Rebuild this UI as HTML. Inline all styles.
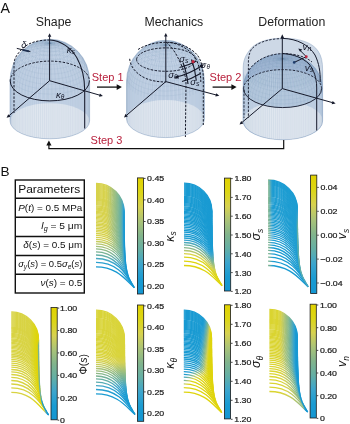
<!DOCTYPE html>
<html><head><meta charset="utf-8"><style>
html,body{margin:0;padding:0;background:#fff;}
svg{display:block;will-change:transform;}
text{font-family:"Liberation Sans", sans-serif;}
</style></head><body>
<svg width="350" height="424" viewBox="0 0 350 424" xmlns="http://www.w3.org/2000/svg">
<defs><pattern id="mesh" width="1.7" height="1.7" patternUnits="userSpaceOnUse"><path d="M0.4 0V1.7" stroke="#7f98b8" stroke-width="0.45" opacity="0.35"/></pattern><pattern id="meshd" width="1.7" height="1.7" patternUnits="userSpaceOnUse"><path d="M0.4 0V1.7M0 0.4H1.7" stroke="#7f98b8" stroke-width="0.45" opacity="0.3"/></pattern><linearGradient id="sh" x1="0" y1="0" x2="1" y2="0"><stop offset="0" stop-color="#9fb6d0"/><stop offset="0.12" stop-color="#b4c5da"/><stop offset="0.5" stop-color="#c2d0e1"/><stop offset="0.86" stop-color="#b4c5da"/><stop offset="1" stop-color="#a0b6cf"/></linearGradient><linearGradient id="shl" x1="0" y1="0" x2="1" y2="0"><stop offset="0" stop-color="#c9d6e4"/><stop offset="0.15" stop-color="#dce4ee"/><stop offset="0.5" stop-color="#e3e9f1"/><stop offset="0.85" stop-color="#dce4ee"/><stop offset="1" stop-color="#c9d6e4"/></linearGradient><clipPath id="cp1"><path d="M10.0,81.0 A39.8,41.8 0 0 1 89.6,81.0 L89.6,121.0 A39.8,17.8 0 0 1 10.0,121.0 Z"/></clipPath><clipPath id="cp2"><path d="M126.5,81.6 A39.0,41.3 0 0 1 204.5,81.6 L204.5,118.8 A39.0,18.8 0 0 1 126.5,118.8 Z"/></clipPath><clipPath id="cp3"><path d="M242.8,88.6 A40,35.4 0 0 1 322.8,88.6 L322.8,121 A40,18.8 0 0 1 242.8,121 Z"/></clipPath><clipPath id="cp4"><path d="M243.2,88.6 L243.2,68 C243.2,60 246,55 249,51 C254,43 266,38.2 283,38.2 C300,38.2 313,43 318,51 C321.5,56 322.6,62 322.6,70 L322.6,121 A39.7,18.8 0 0 1 243.2,121 Z"/></clipPath><linearGradient id="ks0" gradientUnits="userSpaceOnUse" x1="96.0" y1="183.3" x2="134.4" y2="287.7"><stop offset="0.000" stop-color="#d7d24b"/><stop offset="0.048" stop-color="#d7d24b"/><stop offset="0.097" stop-color="#abc377"/><stop offset="0.218" stop-color="#62aea7"/><stop offset="0.283" stop-color="#38a4ce"/><stop offset="0.323" stop-color="#219dd1"/><stop offset="0.375" stop-color="#1698d2"/><stop offset="1.000" stop-color="#1496d2"/></linearGradient><linearGradient id="ks1" gradientUnits="userSpaceOnUse" x1="96.0" y1="184.3" x2="124.0" y2="212.7"><stop offset="0.000" stop-color="#d7d24b"/><stop offset="0.215" stop-color="#d7d24b"/><stop offset="0.249" stop-color="#d2d055"/><stop offset="0.389" stop-color="#acc476"/><stop offset="0.747" stop-color="#62afa7"/><stop offset="0.880" stop-color="#40a6c9"/><stop offset="1.000" stop-color="#219dd1"/></linearGradient><linearGradient id="ks2" gradientUnits="userSpaceOnUse" x1="96.0" y1="185.3" x2="124.0" y2="213.6"><stop offset="0.000" stop-color="#d7d24b"/><stop offset="0.215" stop-color="#d7d24b"/><stop offset="0.249" stop-color="#d2d055"/><stop offset="0.389" stop-color="#acc476"/><stop offset="0.747" stop-color="#62afa7"/><stop offset="0.880" stop-color="#40a6c9"/><stop offset="1.000" stop-color="#219dd1"/></linearGradient><linearGradient id="ks3" gradientUnits="userSpaceOnUse" x1="96.0" y1="186.3" x2="124.0" y2="214.6"><stop offset="0.000" stop-color="#d7d24b"/><stop offset="0.216" stop-color="#d7d24b"/><stop offset="0.250" stop-color="#d1d055"/><stop offset="0.390" stop-color="#acc476"/><stop offset="0.747" stop-color="#62afa7"/><stop offset="0.880" stop-color="#40a6c9"/><stop offset="1.000" stop-color="#219dd1"/></linearGradient><linearGradient id="ks4" gradientUnits="userSpaceOnUse" x1="96.0" y1="187.3" x2="124.0" y2="215.5"><stop offset="0.000" stop-color="#d7d24b"/><stop offset="0.216" stop-color="#d7d24b"/><stop offset="0.250" stop-color="#d1d055"/><stop offset="0.391" stop-color="#acc476"/><stop offset="0.748" stop-color="#62afa7"/><stop offset="0.881" stop-color="#40a6c9"/><stop offset="1.000" stop-color="#219dd1"/></linearGradient><linearGradient id="ks5" gradientUnits="userSpaceOnUse" x1="96.0" y1="188.3" x2="124.0" y2="216.4"><stop offset="0.000" stop-color="#d7d24b"/><stop offset="0.217" stop-color="#d7d24b"/><stop offset="0.251" stop-color="#d1d055"/><stop offset="0.391" stop-color="#acc477"/><stop offset="0.748" stop-color="#62aea7"/><stop offset="0.881" stop-color="#40a6c9"/><stop offset="1.000" stop-color="#219dd1"/></linearGradient><linearGradient id="ks6" gradientUnits="userSpaceOnUse" x1="96.0" y1="189.3" x2="124.0" y2="217.7"><stop offset="0.000" stop-color="#d7d24b"/><stop offset="0.215" stop-color="#d7d24b"/><stop offset="0.249" stop-color="#d2d055"/><stop offset="0.389" stop-color="#acc476"/><stop offset="0.746" stop-color="#62afa7"/><stop offset="0.880" stop-color="#40a6c9"/><stop offset="1.000" stop-color="#219dd1"/></linearGradient><linearGradient id="ks7" gradientUnits="userSpaceOnUse" x1="96.0" y1="190.3" x2="124.0" y2="218.6"><stop offset="0.000" stop-color="#d7d24b"/><stop offset="0.215" stop-color="#d7d24b"/><stop offset="0.249" stop-color="#d2d055"/><stop offset="0.390" stop-color="#acc476"/><stop offset="0.747" stop-color="#62afa7"/><stop offset="0.880" stop-color="#40a6c9"/><stop offset="1.000" stop-color="#219dd1"/></linearGradient><linearGradient id="ks8" gradientUnits="userSpaceOnUse" x1="96.0" y1="191.3" x2="124.0" y2="219.5"><stop offset="0.000" stop-color="#d7d24b"/><stop offset="0.216" stop-color="#d7d24b"/><stop offset="0.250" stop-color="#d1d055"/><stop offset="0.390" stop-color="#acc476"/><stop offset="0.748" stop-color="#62afa7"/><stop offset="0.880" stop-color="#40a6c9"/><stop offset="1.000" stop-color="#219dd1"/></linearGradient><linearGradient id="ks9" gradientUnits="userSpaceOnUse" x1="96.0" y1="192.3" x2="124.0" y2="220.4"><stop offset="0.000" stop-color="#d7d24b"/><stop offset="0.217" stop-color="#d7d24b"/><stop offset="0.251" stop-color="#d1d055"/><stop offset="0.391" stop-color="#acc477"/><stop offset="0.748" stop-color="#62aea7"/><stop offset="0.881" stop-color="#40a6c9"/><stop offset="1.000" stop-color="#219dd1"/></linearGradient><linearGradient id="ks10" gradientUnits="userSpaceOnUse" x1="96.0" y1="193.4" x2="124.0" y2="221.6"><stop offset="0.000" stop-color="#d7d24b"/><stop offset="0.215" stop-color="#d7d24b"/><stop offset="0.249" stop-color="#d2d055"/><stop offset="0.390" stop-color="#acc476"/><stop offset="0.747" stop-color="#62afa7"/><stop offset="0.880" stop-color="#40a6c9"/><stop offset="1.000" stop-color="#219dd1"/></linearGradient><linearGradient id="ks11" gradientUnits="userSpaceOnUse" x1="96.0" y1="194.4" x2="124.0" y2="222.5"><stop offset="0.000" stop-color="#d7d24b"/><stop offset="0.216" stop-color="#d7d24b"/><stop offset="0.250" stop-color="#d1d055"/><stop offset="0.391" stop-color="#acc477"/><stop offset="0.748" stop-color="#62afa7"/><stop offset="0.880" stop-color="#40a6c9"/><stop offset="1.000" stop-color="#219dd1"/></linearGradient><linearGradient id="ks12" gradientUnits="userSpaceOnUse" x1="96.0" y1="195.4" x2="124.0" y2="223.7"><stop offset="0.000" stop-color="#d7d24b"/><stop offset="0.215" stop-color="#d7d24b"/><stop offset="0.249" stop-color="#d2d055"/><stop offset="0.389" stop-color="#acc476"/><stop offset="0.746" stop-color="#62afa7"/><stop offset="0.880" stop-color="#40a6c9"/><stop offset="1.000" stop-color="#219dd1"/></linearGradient><linearGradient id="ks13" gradientUnits="userSpaceOnUse" x1="96.0" y1="196.4" x2="124.0" y2="224.6"><stop offset="0.000" stop-color="#d7d24b"/><stop offset="0.216" stop-color="#d7d24b"/><stop offset="0.250" stop-color="#d1d055"/><stop offset="0.390" stop-color="#acc476"/><stop offset="0.747" stop-color="#62afa7"/><stop offset="0.880" stop-color="#40a6c9"/><stop offset="1.000" stop-color="#219dd1"/></linearGradient><linearGradient id="ks14" gradientUnits="userSpaceOnUse" x1="96.0" y1="197.4" x2="124.1" y2="225.8"><stop offset="0.000" stop-color="#d7d24b"/><stop offset="0.215" stop-color="#d7d24b"/><stop offset="0.249" stop-color="#d2d055"/><stop offset="0.389" stop-color="#acc476"/><stop offset="0.746" stop-color="#62afa7"/><stop offset="0.879" stop-color="#40a6c9"/><stop offset="1.000" stop-color="#219dd1"/></linearGradient><linearGradient id="ks15" gradientUnits="userSpaceOnUse" x1="96.0" y1="198.5" x2="124.1" y2="226.6"><stop offset="0.000" stop-color="#d7d24b"/><stop offset="0.216" stop-color="#d7d24b"/><stop offset="0.250" stop-color="#d1d055"/><stop offset="0.391" stop-color="#acc476"/><stop offset="0.748" stop-color="#62afa7"/><stop offset="0.880" stop-color="#40a6c9"/><stop offset="1.000" stop-color="#219dd1"/></linearGradient><linearGradient id="ks16" gradientUnits="userSpaceOnUse" x1="96.0" y1="199.5" x2="124.1" y2="227.8"><stop offset="0.000" stop-color="#d7d24b"/><stop offset="0.216" stop-color="#d7d24b"/><stop offset="0.249" stop-color="#d1d055"/><stop offset="0.389" stop-color="#acc476"/><stop offset="0.747" stop-color="#62afa7"/><stop offset="0.880" stop-color="#40a6c9"/><stop offset="1.000" stop-color="#219dd1"/></linearGradient><linearGradient id="ks17" gradientUnits="userSpaceOnUse" x1="96.0" y1="200.5" x2="124.1" y2="228.5"><stop offset="0.000" stop-color="#d7d24b"/><stop offset="0.217" stop-color="#d7d24b"/><stop offset="0.251" stop-color="#d1d055"/><stop offset="0.391" stop-color="#acc477"/><stop offset="0.748" stop-color="#62aea7"/><stop offset="0.880" stop-color="#40a6c9"/><stop offset="1.000" stop-color="#219dd1"/></linearGradient><linearGradient id="ks18" gradientUnits="userSpaceOnUse" x1="96.0" y1="201.6" x2="124.1" y2="229.7"><stop offset="0.000" stop-color="#d7d24b"/><stop offset="0.216" stop-color="#d7d24b"/><stop offset="0.250" stop-color="#d1d055"/><stop offset="0.391" stop-color="#acc476"/><stop offset="0.747" stop-color="#62afa7"/><stop offset="0.880" stop-color="#40a6c9"/><stop offset="1.000" stop-color="#219dd1"/></linearGradient><linearGradient id="ks19" gradientUnits="userSpaceOnUse" x1="96.0" y1="202.6" x2="124.1" y2="230.8"><stop offset="0.000" stop-color="#d7d24b"/><stop offset="0.216" stop-color="#d7d24b"/><stop offset="0.250" stop-color="#d1d055"/><stop offset="0.390" stop-color="#acc476"/><stop offset="0.747" stop-color="#62afa7"/><stop offset="0.880" stop-color="#40a6c9"/><stop offset="1.000" stop-color="#219dd1"/></linearGradient><linearGradient id="ks20" gradientUnits="userSpaceOnUse" x1="96.0" y1="203.7" x2="124.1" y2="232.0"><stop offset="0.000" stop-color="#d7d24b"/><stop offset="0.216" stop-color="#d7d24b"/><stop offset="0.249" stop-color="#d1d055"/><stop offset="0.389" stop-color="#acc476"/><stop offset="0.746" stop-color="#62afa7"/><stop offset="0.879" stop-color="#40a6c9"/><stop offset="1.000" stop-color="#219dd1"/></linearGradient><linearGradient id="ks21" gradientUnits="userSpaceOnUse" x1="96.0" y1="204.7" x2="124.1" y2="233.1"><stop offset="0.000" stop-color="#d7d24b"/><stop offset="0.215" stop-color="#d7d24b"/><stop offset="0.249" stop-color="#d1d055"/><stop offset="0.389" stop-color="#acc476"/><stop offset="0.746" stop-color="#62afa7"/><stop offset="0.879" stop-color="#40a6c9"/><stop offset="1.000" stop-color="#219dd1"/></linearGradient><linearGradient id="ks22" gradientUnits="userSpaceOnUse" x1="96.0" y1="205.8" x2="124.2" y2="233.8"><stop offset="0.000" stop-color="#d7d24b"/><stop offset="0.217" stop-color="#d7d24b"/><stop offset="0.251" stop-color="#d1d055"/><stop offset="0.392" stop-color="#abc377"/><stop offset="0.748" stop-color="#62aea7"/><stop offset="0.880" stop-color="#40a6c9"/><stop offset="1.000" stop-color="#219dd1"/></linearGradient><linearGradient id="ks23" gradientUnits="userSpaceOnUse" x1="96.0" y1="206.9" x2="124.2" y2="235.2"><stop offset="0.000" stop-color="#d7d24b"/><stop offset="0.216" stop-color="#d7d24b"/><stop offset="0.249" stop-color="#d1d055"/><stop offset="0.389" stop-color="#acc476"/><stop offset="0.746" stop-color="#62afa7"/><stop offset="0.879" stop-color="#40a6c9"/><stop offset="1.000" stop-color="#219dd1"/></linearGradient><linearGradient id="ks24" gradientUnits="userSpaceOnUse" x1="96.0" y1="208.0" x2="124.2" y2="236.2"><stop offset="0.000" stop-color="#d7d24b"/><stop offset="0.216" stop-color="#d7d24b"/><stop offset="0.250" stop-color="#d1d055"/><stop offset="0.390" stop-color="#acc476"/><stop offset="0.746" stop-color="#62afa7"/><stop offset="0.879" stop-color="#40a6c9"/><stop offset="1.000" stop-color="#219dd1"/></linearGradient><linearGradient id="ks25" gradientUnits="userSpaceOnUse" x1="96.0" y1="209.1" x2="124.2" y2="237.3"><stop offset="0.000" stop-color="#d7d24b"/><stop offset="0.216" stop-color="#d7d24b"/><stop offset="0.250" stop-color="#d1d055"/><stop offset="0.390" stop-color="#acc476"/><stop offset="0.747" stop-color="#62afa7"/><stop offset="0.880" stop-color="#40a6c9"/><stop offset="1.000" stop-color="#219dd1"/></linearGradient><linearGradient id="ks26" gradientUnits="userSpaceOnUse" x1="96.0" y1="210.2" x2="124.2" y2="238.3"><stop offset="0.000" stop-color="#d7d24b"/><stop offset="0.217" stop-color="#d7d24b"/><stop offset="0.251" stop-color="#d1d055"/><stop offset="0.391" stop-color="#acc477"/><stop offset="0.747" stop-color="#62aea7"/><stop offset="0.880" stop-color="#40a6c9"/><stop offset="1.000" stop-color="#219dd1"/></linearGradient><linearGradient id="ks27" gradientUnits="userSpaceOnUse" x1="96.0" y1="211.3" x2="124.3" y2="239.6"><stop offset="0.000" stop-color="#d7d24b"/><stop offset="0.216" stop-color="#d7d24b"/><stop offset="0.250" stop-color="#d1d055"/><stop offset="0.390" stop-color="#acc476"/><stop offset="0.746" stop-color="#62afa7"/><stop offset="0.879" stop-color="#40a6c9"/><stop offset="1.000" stop-color="#219dd1"/></linearGradient><linearGradient id="ks28" gradientUnits="userSpaceOnUse" x1="96.0" y1="212.5" x2="124.3" y2="240.6"><stop offset="0.000" stop-color="#d7d24b"/><stop offset="0.217" stop-color="#d7d24b"/><stop offset="0.251" stop-color="#d1d055"/><stop offset="0.391" stop-color="#abc377"/><stop offset="0.747" stop-color="#62aea7"/><stop offset="0.880" stop-color="#40a6c9"/><stop offset="1.000" stop-color="#219dd1"/></linearGradient><linearGradient id="ks29" gradientUnits="userSpaceOnUse" x1="96.0" y1="213.7" x2="124.3" y2="241.8"><stop offset="0.000" stop-color="#d7d24b"/><stop offset="0.217" stop-color="#d7d24b"/><stop offset="0.251" stop-color="#d1d055"/><stop offset="0.391" stop-color="#acc477"/><stop offset="0.747" stop-color="#62afa7"/><stop offset="0.879" stop-color="#40a6c9"/><stop offset="1.000" stop-color="#219dd1"/></linearGradient><linearGradient id="ks30" gradientUnits="userSpaceOnUse" x1="96.0" y1="214.9" x2="124.4" y2="243.1"><stop offset="0.000" stop-color="#d7d24b"/><stop offset="0.217" stop-color="#d7d24b"/><stop offset="0.251" stop-color="#d1d055"/><stop offset="0.390" stop-color="#acc477"/><stop offset="0.746" stop-color="#62afa7"/><stop offset="0.879" stop-color="#40a6c9"/><stop offset="1.000" stop-color="#219dd1"/></linearGradient><linearGradient id="ks31" gradientUnits="userSpaceOnUse" x1="96.0" y1="216.1" x2="124.4" y2="244.3"><stop offset="0.000" stop-color="#d7d24b"/><stop offset="0.217" stop-color="#d7d24b"/><stop offset="0.251" stop-color="#d1d055"/><stop offset="0.391" stop-color="#acc477"/><stop offset="0.746" stop-color="#62afa7"/><stop offset="0.879" stop-color="#40a6c9"/><stop offset="1.000" stop-color="#219dd1"/></linearGradient><linearGradient id="ks32" gradientUnits="userSpaceOnUse" x1="96.0" y1="217.3" x2="124.4" y2="245.5"><stop offset="0.000" stop-color="#d7d24b"/><stop offset="0.217" stop-color="#d7d24b"/><stop offset="0.251" stop-color="#d1d055"/><stop offset="0.391" stop-color="#acc477"/><stop offset="0.747" stop-color="#62aea7"/><stop offset="0.879" stop-color="#40a6c9"/><stop offset="1.000" stop-color="#219dd1"/></linearGradient><linearGradient id="ks33" gradientUnits="userSpaceOnUse" x1="96.0" y1="218.6" x2="124.5" y2="246.6"><stop offset="0.000" stop-color="#d7d24b"/><stop offset="0.218" stop-color="#d7d24c"/><stop offset="0.252" stop-color="#d1d055"/><stop offset="0.392" stop-color="#abc377"/><stop offset="0.747" stop-color="#62aea7"/><stop offset="0.880" stop-color="#40a6c9"/><stop offset="1.000" stop-color="#219dd1"/></linearGradient><linearGradient id="ks34" gradientUnits="userSpaceOnUse" x1="96.0" y1="219.9" x2="124.5" y2="248.0"><stop offset="0.000" stop-color="#d7d24b"/><stop offset="0.218" stop-color="#d7d24c"/><stop offset="0.252" stop-color="#d1d055"/><stop offset="0.391" stop-color="#abc377"/><stop offset="0.747" stop-color="#62aea7"/><stop offset="0.879" stop-color="#40a6c9"/><stop offset="1.000" stop-color="#219dd1"/></linearGradient><linearGradient id="ks35" gradientUnits="userSpaceOnUse" x1="96.0" y1="221.2" x2="124.6" y2="249.4"><stop offset="0.000" stop-color="#d7d24b"/><stop offset="0.218" stop-color="#d7d24c"/><stop offset="0.252" stop-color="#d1d055"/><stop offset="0.391" stop-color="#abc377"/><stop offset="0.746" stop-color="#62aea7"/><stop offset="0.879" stop-color="#40a6c9"/><stop offset="1.000" stop-color="#219dd1"/></linearGradient><linearGradient id="ks36" gradientUnits="userSpaceOnUse" x1="96.0" y1="222.6" x2="124.7" y2="250.7"><stop offset="0.000" stop-color="#d7d24b"/><stop offset="0.218" stop-color="#d7d24c"/><stop offset="0.252" stop-color="#d1d055"/><stop offset="0.392" stop-color="#abc377"/><stop offset="0.746" stop-color="#62aea7"/><stop offset="0.879" stop-color="#40a6c9"/><stop offset="1.000" stop-color="#219dd1"/></linearGradient><linearGradient id="ks37" gradientUnits="userSpaceOnUse" x1="96.0" y1="224.0" x2="124.7" y2="252.0"><stop offset="0.000" stop-color="#d7d24b"/><stop offset="0.219" stop-color="#d7d24c"/><stop offset="0.253" stop-color="#d1d056"/><stop offset="0.393" stop-color="#abc377"/><stop offset="0.747" stop-color="#62aea7"/><stop offset="0.879" stop-color="#40a6c9"/><stop offset="1.000" stop-color="#219dd1"/></linearGradient><linearGradient id="ks38" gradientUnits="userSpaceOnUse" x1="96.0" y1="225.4" x2="124.8" y2="253.5"><stop offset="0.000" stop-color="#d7d24b"/><stop offset="0.219" stop-color="#d7d24c"/><stop offset="0.253" stop-color="#d1d056"/><stop offset="0.393" stop-color="#abc377"/><stop offset="0.747" stop-color="#62aea7"/><stop offset="0.879" stop-color="#40a6c9"/><stop offset="1.000" stop-color="#219dd1"/></linearGradient><linearGradient id="ks39" gradientUnits="userSpaceOnUse" x1="96.0" y1="226.9" x2="124.9" y2="254.9"><stop offset="0.000" stop-color="#d7d24b"/><stop offset="0.220" stop-color="#d7d24c"/><stop offset="0.393" stop-color="#abc377"/><stop offset="0.713" stop-color="#69b0a1"/><stop offset="0.911" stop-color="#38a4ce"/><stop offset="1.000" stop-color="#219dd1"/></linearGradient><linearGradient id="ks40" gradientUnits="userSpaceOnUse" x1="96.0" y1="228.5" x2="125.0" y2="256.5"><stop offset="0.000" stop-color="#d7d24b"/><stop offset="0.220" stop-color="#d7d24c"/><stop offset="0.393" stop-color="#abc377"/><stop offset="0.712" stop-color="#69b0a1"/><stop offset="0.910" stop-color="#38a4ce"/><stop offset="1.000" stop-color="#219dd1"/></linearGradient><linearGradient id="ks41" gradientUnits="userSpaceOnUse" x1="96.0" y1="230.1" x2="125.1" y2="258.2"><stop offset="0.000" stop-color="#d7d24b"/><stop offset="0.219" stop-color="#d7d24c"/><stop offset="0.253" stop-color="#d1d056"/><stop offset="0.392" stop-color="#abc377"/><stop offset="0.745" stop-color="#62aea7"/><stop offset="0.878" stop-color="#40a6c9"/><stop offset="1.000" stop-color="#219dd1"/></linearGradient><linearGradient id="ks42" gradientUnits="userSpaceOnUse" x1="96.0" y1="231.7" x2="125.3" y2="259.9"><stop offset="0.000" stop-color="#d7d24b"/><stop offset="0.220" stop-color="#d7d24c"/><stop offset="0.393" stop-color="#abc377"/><stop offset="0.711" stop-color="#69b0a1"/><stop offset="0.910" stop-color="#38a4ce"/><stop offset="1.000" stop-color="#219dd1"/></linearGradient><linearGradient id="ks43" gradientUnits="userSpaceOnUse" x1="96.0" y1="233.5" x2="125.4" y2="261.7"><stop offset="0.000" stop-color="#d7d24b"/><stop offset="0.220" stop-color="#d7d24c"/><stop offset="0.393" stop-color="#abc377"/><stop offset="0.711" stop-color="#69b0a1"/><stop offset="0.909" stop-color="#38a4ce"/><stop offset="1.000" stop-color="#219dd1"/></linearGradient><linearGradient id="ks44" gradientUnits="userSpaceOnUse" x1="96.0" y1="235.3" x2="125.6" y2="263.3"><stop offset="0.000" stop-color="#d7d24b"/><stop offset="0.222" stop-color="#d7d24d"/><stop offset="0.395" stop-color="#aac378"/><stop offset="0.711" stop-color="#68b0a1"/><stop offset="0.878" stop-color="#3fa6ca"/><stop offset="1.000" stop-color="#219dd1"/></linearGradient><linearGradient id="ks45" gradientUnits="userSpaceOnUse" x1="96.0" y1="237.3" x2="125.8" y2="265.4"><stop offset="0.000" stop-color="#d7d24f"/><stop offset="0.222" stop-color="#d7d250"/><stop offset="0.394" stop-color="#a9c379"/><stop offset="0.744" stop-color="#61aea8"/><stop offset="0.877" stop-color="#3fa6ca"/><stop offset="1.000" stop-color="#209dd1"/></linearGradient><linearGradient id="ks46" gradientUnits="userSpaceOnUse" x1="96.0" y1="239.3" x2="126.1" y2="267.4"><stop offset="0.000" stop-color="#d1d055"/><stop offset="0.222" stop-color="#d0d056"/><stop offset="0.359" stop-color="#acc476"/><stop offset="0.709" stop-color="#65afa4"/><stop offset="0.876" stop-color="#3da5cc"/><stop offset="1.000" stop-color="#1f9dd1"/></linearGradient><linearGradient id="ks47" gradientUnits="userSpaceOnUse" x1="96.0" y1="241.5" x2="126.5" y2="269.4"><stop offset="0.000" stop-color="#c7cd5f"/><stop offset="0.224" stop-color="#c5cc60"/><stop offset="0.326" stop-color="#abc377"/><stop offset="0.675" stop-color="#67b0a2"/><stop offset="0.876" stop-color="#3aa4cd"/><stop offset="1.000" stop-color="#1d9cd1"/></linearGradient><linearGradient id="ks48" gradientUnits="userSpaceOnUse" x1="96.0" y1="243.8" x2="127.0" y2="271.8"><stop offset="0.000" stop-color="#b7c76c"/><stop offset="0.225" stop-color="#b6c76e"/><stop offset="0.639" stop-color="#67b0a2"/><stop offset="0.842" stop-color="#3ca5cd"/><stop offset="1.000" stop-color="#1b9cd2"/></linearGradient><linearGradient id="ks49" gradientUnits="userSpaceOnUse" x1="96.0" y1="246.3" x2="127.6" y2="274.3"><stop offset="0.000" stop-color="#a5c17b"/><stop offset="0.226" stop-color="#a3c07c"/><stop offset="0.603" stop-color="#64afa5"/><stop offset="0.806" stop-color="#3ca5cd"/><stop offset="1.000" stop-color="#199bd2"/></linearGradient><linearGradient id="ks50" gradientUnits="userSpaceOnUse" x1="96.0" y1="248.9" x2="128.5" y2="276.9"><stop offset="0.000" stop-color="#8fb985"/><stop offset="0.229" stop-color="#8db886"/><stop offset="0.534" stop-color="#63afa6"/><stop offset="0.738" stop-color="#3fa6ca"/><stop offset="1.000" stop-color="#189ad2"/></linearGradient><linearGradient id="ks51" gradientUnits="userSpaceOnUse" x1="96.0" y1="251.8" x2="129.8" y2="279.9"><stop offset="0.000" stop-color="#79b393"/><stop offset="0.232" stop-color="#78b295"/><stop offset="0.670" stop-color="#3da5cc"/><stop offset="1.000" stop-color="#189ad2"/></linearGradient><linearGradient id="ks52" gradientUnits="userSpaceOnUse" x1="96.0" y1="255.0" x2="131.5" y2="283.0"><stop offset="0.000" stop-color="#64afa5"/><stop offset="0.238" stop-color="#62afa7"/><stop offset="0.575" stop-color="#3aa4cd"/><stop offset="0.871" stop-color="#199bd2"/><stop offset="1.000" stop-color="#1799d2"/></linearGradient><linearGradient id="ks53" gradientUnits="userSpaceOnUse" x1="96.0" y1="258.5" x2="133.7" y2="286.5"><stop offset="0.000" stop-color="#47a8c2"/><stop offset="0.211" stop-color="#47a8c2"/><stop offset="0.349" stop-color="#3ba5cd"/><stop offset="0.781" stop-color="#199bd2"/><stop offset="1.000" stop-color="#1698d2"/></linearGradient><linearGradient id="ks54" gradientUnits="userSpaceOnUse" x1="96.0" y1="262.4" x2="134.4" y2="287.7"><stop offset="0.000" stop-color="#2da1cf"/><stop offset="1.000" stop-color="#1698d2"/></linearGradient><linearGradient id="ks55" gradientUnits="userSpaceOnUse" x1="96.0" y1="266.8" x2="134.4" y2="287.7"><stop offset="0.000" stop-color="#199bd2"/><stop offset="1.000" stop-color="#1597d2"/></linearGradient><linearGradient id="cb1" x1="0" y1="1" x2="0" y2="0"><stop offset="0.0" stop-color="#1496d2"/><stop offset="0.125" stop-color="#199bd2"/><stop offset="0.25" stop-color="#3ca5cd"/><stop offset="0.375" stop-color="#64afa5"/><stop offset="0.5" stop-color="#82b48c"/><stop offset="0.625" stop-color="#aac378"/><stop offset="0.75" stop-color="#d7d250"/><stop offset="0.875" stop-color="#dcd616"/><stop offset="1.0" stop-color="#e1d200"/></linearGradient><linearGradient id="ss0" gradientUnits="userSpaceOnUse" x1="184.0" y1="183.1" x2="222.1" y2="285.7"><stop offset="0.000" stop-color="#189ad2"/><stop offset="0.621" stop-color="#189ad2"/><stop offset="0.653" stop-color="#1a9bd2"/><stop offset="0.682" stop-color="#2ba0cf"/><stop offset="0.708" stop-color="#42a6c7"/><stop offset="0.846" stop-color="#d7d24c"/><stop offset="0.898" stop-color="#dcd615"/><stop offset="1.000" stop-color="#ded50e"/></linearGradient><linearGradient id="ss1" gradientUnits="userSpaceOnUse" x1="184.0" y1="184.1" x2="211.8" y2="212.0"><stop offset="0.000" stop-color="#189ad2"/><stop offset="1.000" stop-color="#189ad2"/></linearGradient><linearGradient id="ss2" gradientUnits="userSpaceOnUse" x1="184.0" y1="185.1" x2="211.8" y2="212.9"><stop offset="0.000" stop-color="#189ad2"/><stop offset="1.000" stop-color="#189ad2"/></linearGradient><linearGradient id="ss3" gradientUnits="userSpaceOnUse" x1="184.0" y1="186.1" x2="211.8" y2="213.8"><stop offset="0.000" stop-color="#189ad2"/><stop offset="1.000" stop-color="#189ad2"/></linearGradient><linearGradient id="ss4" gradientUnits="userSpaceOnUse" x1="184.0" y1="187.1" x2="211.8" y2="214.7"><stop offset="0.000" stop-color="#189ad2"/><stop offset="1.000" stop-color="#189ad2"/></linearGradient><linearGradient id="ss5" gradientUnits="userSpaceOnUse" x1="184.0" y1="188.1" x2="211.8" y2="216.1"><stop offset="0.000" stop-color="#189ad2"/><stop offset="1.000" stop-color="#189ad2"/></linearGradient><linearGradient id="ss6" gradientUnits="userSpaceOnUse" x1="184.0" y1="189.1" x2="211.8" y2="216.9"><stop offset="0.000" stop-color="#189ad2"/><stop offset="1.000" stop-color="#189ad2"/></linearGradient><linearGradient id="ss7" gradientUnits="userSpaceOnUse" x1="184.0" y1="190.2" x2="211.8" y2="217.8"><stop offset="0.000" stop-color="#189ad2"/><stop offset="1.000" stop-color="#189ad2"/></linearGradient><linearGradient id="ss8" gradientUnits="userSpaceOnUse" x1="184.0" y1="191.2" x2="211.8" y2="218.7"><stop offset="0.000" stop-color="#189ad2"/><stop offset="1.000" stop-color="#189ad2"/></linearGradient><linearGradient id="ss9" gradientUnits="userSpaceOnUse" x1="184.0" y1="192.2" x2="211.8" y2="219.9"><stop offset="0.000" stop-color="#189ad2"/><stop offset="1.000" stop-color="#189ad2"/></linearGradient><linearGradient id="ss10" gradientUnits="userSpaceOnUse" x1="184.0" y1="193.2" x2="211.8" y2="220.8"><stop offset="0.000" stop-color="#189ad2"/><stop offset="1.000" stop-color="#189ad2"/></linearGradient><linearGradient id="ss11" gradientUnits="userSpaceOnUse" x1="184.0" y1="194.2" x2="211.8" y2="222.0"><stop offset="0.000" stop-color="#189ad2"/><stop offset="1.000" stop-color="#189ad2"/></linearGradient><linearGradient id="ss12" gradientUnits="userSpaceOnUse" x1="184.0" y1="195.2" x2="211.8" y2="222.8"><stop offset="0.000" stop-color="#189ad2"/><stop offset="1.000" stop-color="#189ad2"/></linearGradient><linearGradient id="ss13" gradientUnits="userSpaceOnUse" x1="184.0" y1="196.3" x2="211.8" y2="224.1"><stop offset="0.000" stop-color="#189ad2"/><stop offset="1.000" stop-color="#189ad2"/></linearGradient><linearGradient id="ss14" gradientUnits="userSpaceOnUse" x1="184.0" y1="197.3" x2="211.8" y2="224.8"><stop offset="0.000" stop-color="#189ad2"/><stop offset="1.000" stop-color="#189ad2"/></linearGradient><linearGradient id="ss15" gradientUnits="userSpaceOnUse" x1="184.0" y1="198.3" x2="211.9" y2="226.0"><stop offset="0.000" stop-color="#189ad2"/><stop offset="1.000" stop-color="#189ad2"/></linearGradient><linearGradient id="ss16" gradientUnits="userSpaceOnUse" x1="184.0" y1="199.3" x2="211.9" y2="227.2"><stop offset="0.000" stop-color="#189ad2"/><stop offset="1.000" stop-color="#189ad2"/></linearGradient><linearGradient id="ss17" gradientUnits="userSpaceOnUse" x1="184.0" y1="200.4" x2="211.9" y2="227.9"><stop offset="0.000" stop-color="#189ad2"/><stop offset="1.000" stop-color="#189ad2"/></linearGradient><linearGradient id="ss18" gradientUnits="userSpaceOnUse" x1="184.0" y1="201.4" x2="211.9" y2="229.1"><stop offset="0.000" stop-color="#189ad2"/><stop offset="1.000" stop-color="#189ad2"/></linearGradient><linearGradient id="ss19" gradientUnits="userSpaceOnUse" x1="184.0" y1="202.5" x2="211.9" y2="230.2"><stop offset="0.000" stop-color="#189ad2"/><stop offset="1.000" stop-color="#189ad2"/></linearGradient><linearGradient id="ss20" gradientUnits="userSpaceOnUse" x1="184.0" y1="203.6" x2="211.9" y2="231.3"><stop offset="0.000" stop-color="#189ad2"/><stop offset="1.000" stop-color="#189ad2"/></linearGradient><linearGradient id="ss21" gradientUnits="userSpaceOnUse" x1="184.0" y1="204.6" x2="211.9" y2="232.3"><stop offset="0.000" stop-color="#189ad2"/><stop offset="1.000" stop-color="#189ad2"/></linearGradient><linearGradient id="ss22" gradientUnits="userSpaceOnUse" x1="184.0" y1="205.7" x2="212.0" y2="233.4"><stop offset="0.000" stop-color="#189ad2"/><stop offset="1.000" stop-color="#189ad2"/></linearGradient><linearGradient id="ss23" gradientUnits="userSpaceOnUse" x1="184.0" y1="206.8" x2="212.0" y2="234.4"><stop offset="0.000" stop-color="#189ad2"/><stop offset="1.000" stop-color="#189ad2"/></linearGradient><linearGradient id="ss24" gradientUnits="userSpaceOnUse" x1="184.0" y1="207.9" x2="212.0" y2="235.5"><stop offset="0.000" stop-color="#189ad2"/><stop offset="1.000" stop-color="#189ad2"/></linearGradient><linearGradient id="ss25" gradientUnits="userSpaceOnUse" x1="184.0" y1="209.0" x2="212.0" y2="236.8"><stop offset="0.000" stop-color="#189ad2"/><stop offset="1.000" stop-color="#189ad2"/></linearGradient><linearGradient id="ss26" gradientUnits="userSpaceOnUse" x1="184.0" y1="210.2" x2="212.0" y2="237.8"><stop offset="0.000" stop-color="#189ad2"/><stop offset="1.000" stop-color="#189ad2"/></linearGradient><linearGradient id="ss27" gradientUnits="userSpaceOnUse" x1="184.0" y1="211.3" x2="212.1" y2="239.1"><stop offset="0.000" stop-color="#189ad2"/><stop offset="1.000" stop-color="#189ad2"/></linearGradient><linearGradient id="ss28" gradientUnits="userSpaceOnUse" x1="184.0" y1="212.5" x2="212.1" y2="240.0"><stop offset="0.000" stop-color="#189ad2"/><stop offset="1.000" stop-color="#189ad2"/></linearGradient><linearGradient id="ss29" gradientUnits="userSpaceOnUse" x1="184.0" y1="213.7" x2="212.1" y2="241.2"><stop offset="0.000" stop-color="#189ad2"/><stop offset="1.000" stop-color="#189ad2"/></linearGradient><linearGradient id="ss30" gradientUnits="userSpaceOnUse" x1="184.0" y1="214.9" x2="212.2" y2="242.4"><stop offset="0.000" stop-color="#189ad2"/><stop offset="1.000" stop-color="#189ad2"/></linearGradient><linearGradient id="ss31" gradientUnits="userSpaceOnUse" x1="184.0" y1="216.1" x2="212.2" y2="243.6"><stop offset="0.000" stop-color="#189ad2"/><stop offset="1.000" stop-color="#189ad2"/></linearGradient><linearGradient id="ss32" gradientUnits="userSpaceOnUse" x1="184.0" y1="217.4" x2="212.3" y2="245.0"><stop offset="0.000" stop-color="#189ad2"/><stop offset="1.000" stop-color="#189ad2"/></linearGradient><linearGradient id="ss33" gradientUnits="userSpaceOnUse" x1="184.0" y1="218.7" x2="212.3" y2="246.4"><stop offset="0.000" stop-color="#189ad2"/><stop offset="1.000" stop-color="#189ad2"/></linearGradient><linearGradient id="ss34" gradientUnits="userSpaceOnUse" x1="184.0" y1="220.0" x2="212.4" y2="247.5"><stop offset="0.000" stop-color="#189ad2"/><stop offset="1.000" stop-color="#199bd2"/></linearGradient><linearGradient id="ss35" gradientUnits="userSpaceOnUse" x1="184.0" y1="221.3" x2="212.4" y2="249.1"><stop offset="0.000" stop-color="#189ad2"/><stop offset="1.000" stop-color="#1c9cd2"/></linearGradient><linearGradient id="ss36" gradientUnits="userSpaceOnUse" x1="184.0" y1="222.7" x2="212.5" y2="250.3"><stop offset="0.000" stop-color="#189ad2"/><stop offset="0.911" stop-color="#189ad2"/><stop offset="1.000" stop-color="#219dd1"/></linearGradient><linearGradient id="ss37" gradientUnits="userSpaceOnUse" x1="184.0" y1="224.2" x2="212.6" y2="251.8"><stop offset="0.000" stop-color="#189ad2"/><stop offset="0.880" stop-color="#189ad2"/><stop offset="0.942" stop-color="#1a9bd2"/><stop offset="1.000" stop-color="#2aa0d0"/></linearGradient><linearGradient id="ss38" gradientUnits="userSpaceOnUse" x1="184.0" y1="225.7" x2="212.7" y2="253.2"><stop offset="0.000" stop-color="#189ad2"/><stop offset="0.848" stop-color="#189ad2"/><stop offset="0.911" stop-color="#1a9bd2"/><stop offset="1.000" stop-color="#33a2ce"/></linearGradient><linearGradient id="ss39" gradientUnits="userSpaceOnUse" x1="184.0" y1="227.2" x2="212.8" y2="254.8"><stop offset="0.000" stop-color="#189ad2"/><stop offset="0.848" stop-color="#199bd2"/><stop offset="0.911" stop-color="#219dd1"/><stop offset="1.000" stop-color="#3fa6ca"/></linearGradient><linearGradient id="ss40" gradientUnits="userSpaceOnUse" x1="184.0" y1="228.8" x2="212.9" y2="256.3"><stop offset="0.000" stop-color="#189ad2"/><stop offset="0.815" stop-color="#199bd2"/><stop offset="0.942" stop-color="#34a3ce"/><stop offset="1.000" stop-color="#4da9bc"/></linearGradient><linearGradient id="ss41" gradientUnits="userSpaceOnUse" x1="184.0" y1="230.5" x2="213.0" y2="258.2"><stop offset="0.000" stop-color="#189ad2"/><stop offset="0.781" stop-color="#199bd2"/><stop offset="0.910" stop-color="#36a3ce"/><stop offset="1.000" stop-color="#60aea9"/></linearGradient><linearGradient id="ss42" gradientUnits="userSpaceOnUse" x1="184.0" y1="232.2" x2="213.2" y2="259.9"><stop offset="0.000" stop-color="#189ad2"/><stop offset="0.746" stop-color="#199bd2"/><stop offset="0.878" stop-color="#39a4cd"/><stop offset="1.000" stop-color="#6eb19c"/></linearGradient><linearGradient id="ss43" gradientUnits="userSpaceOnUse" x1="184.0" y1="234.1" x2="213.4" y2="261.7"><stop offset="0.000" stop-color="#189ad2"/><stop offset="0.712" stop-color="#1b9cd2"/><stop offset="0.846" stop-color="#3ca5cd"/><stop offset="1.000" stop-color="#7db390"/></linearGradient><linearGradient id="ss44" gradientUnits="userSpaceOnUse" x1="184.0" y1="236.0" x2="213.6" y2="263.6"><stop offset="0.000" stop-color="#1a9bd2"/><stop offset="0.643" stop-color="#199bd2"/><stop offset="0.813" stop-color="#40a6c9"/><stop offset="1.000" stop-color="#90b985"/></linearGradient><linearGradient id="ss45" gradientUnits="userSpaceOnUse" x1="184.0" y1="238.0" x2="213.9" y2="265.6"><stop offset="0.000" stop-color="#259fd0"/><stop offset="0.642" stop-color="#289fd0"/><stop offset="0.745" stop-color="#3ba5cd"/><stop offset="1.000" stop-color="#a6c17a"/></linearGradient><linearGradient id="ss46" gradientUnits="userSpaceOnUse" x1="184.0" y1="240.2" x2="214.3" y2="267.8"><stop offset="0.000" stop-color="#36a3ce"/><stop offset="0.607" stop-color="#3ba5cd"/><stop offset="0.710" stop-color="#4ea9bb"/><stop offset="0.876" stop-color="#7fb48e"/><stop offset="1.000" stop-color="#beca66"/></linearGradient><linearGradient id="ss47" gradientUnits="userSpaceOnUse" x1="184.0" y1="242.5" x2="214.8" y2="270.1"><stop offset="0.000" stop-color="#4da9bc"/><stop offset="0.432" stop-color="#4eaabb"/><stop offset="0.606" stop-color="#5aadaf"/><stop offset="0.809" stop-color="#83b48b"/><stop offset="0.907" stop-color="#aac378"/><stop offset="1.000" stop-color="#d7d24e"/></linearGradient><linearGradient id="ss48" gradientUnits="userSpaceOnUse" x1="184.0" y1="244.9" x2="215.4" y2="272.5"><stop offset="0.000" stop-color="#69b0a1"/><stop offset="0.639" stop-color="#7cb391"/><stop offset="0.840" stop-color="#b0c573"/><stop offset="0.937" stop-color="#d7d24f"/><stop offset="1.000" stop-color="#dad42e"/></linearGradient><linearGradient id="ss49" gradientUnits="userSpaceOnUse" x1="184.0" y1="247.6" x2="216.3" y2="275.2"><stop offset="0.000" stop-color="#85b58b"/><stop offset="0.501" stop-color="#93ba84"/><stop offset="0.671" stop-color="#a5c17b"/><stop offset="0.871" stop-color="#d8d249"/><stop offset="1.000" stop-color="#dcd616"/></linearGradient><linearGradient id="ss50" gradientUnits="userSpaceOnUse" x1="184.0" y1="250.5" x2="217.6" y2="278.0"><stop offset="0.000" stop-color="#afc573"/><stop offset="0.639" stop-color="#c5cc60"/><stop offset="0.739" stop-color="#d7d250"/><stop offset="0.903" stop-color="#dbd61c"/><stop offset="1.000" stop-color="#ddd510"/></linearGradient><linearGradient id="ss51" gradientUnits="userSpaceOnUse" x1="184.0" y1="253.7" x2="219.4" y2="281.2"><stop offset="0.000" stop-color="#d8d348"/><stop offset="0.577" stop-color="#d8d342"/><stop offset="0.840" stop-color="#dcd615"/><stop offset="1.000" stop-color="#ded50e"/></linearGradient><linearGradient id="ss52" gradientUnits="userSpaceOnUse" x1="184.0" y1="257.2" x2="221.5" y2="284.7"><stop offset="0.000" stop-color="#dcd619"/><stop offset="0.351" stop-color="#dcd616"/><stop offset="0.588" stop-color="#dbd522"/><stop offset="1.000" stop-color="#ded50e"/></linearGradient><linearGradient id="ss53" gradientUnits="userSpaceOnUse" x1="184.0" y1="261.1" x2="222.1" y2="285.7"><stop offset="0.000" stop-color="#ded40d"/><stop offset="1.000" stop-color="#ded50e"/></linearGradient><linearGradient id="ss54" gradientUnits="userSpaceOnUse" x1="184.0" y1="265.5" x2="222.1" y2="285.7"><stop offset="0.000" stop-color="#ded40c"/><stop offset="1.000" stop-color="#ded50e"/></linearGradient><linearGradient id="cb2" x1="0" y1="1" x2="0" y2="0"><stop offset="0.0" stop-color="#1496d2"/><stop offset="0.125" stop-color="#199bd2"/><stop offset="0.25" stop-color="#3ca5cd"/><stop offset="0.375" stop-color="#64afa5"/><stop offset="0.5" stop-color="#82b48c"/><stop offset="0.625" stop-color="#aac378"/><stop offset="0.75" stop-color="#d7d250"/><stop offset="0.875" stop-color="#dcd616"/><stop offset="1.0" stop-color="#e1d200"/></linearGradient><linearGradient id="vs0" gradientUnits="userSpaceOnUse" x1="268.1" y1="180.0" x2="308.2" y2="286.8"><stop offset="0.000" stop-color="#82b48c"/><stop offset="0.005" stop-color="#6fb19c"/><stop offset="0.011" stop-color="#40a6c9"/><stop offset="0.018" stop-color="#1c9cd2"/><stop offset="0.025" stop-color="#199bd2"/><stop offset="0.312" stop-color="#1b9cd2"/><stop offset="0.377" stop-color="#3aa4cd"/><stop offset="0.470" stop-color="#65afa4"/><stop offset="0.846" stop-color="#65afa4"/><stop offset="1.000" stop-color="#46a7c3"/></linearGradient><linearGradient id="vs1" gradientUnits="userSpaceOnUse" x1="268.1" y1="181.0" x2="297.3" y2="210.1"><stop offset="0.000" stop-color="#82b48c"/><stop offset="0.028" stop-color="#6fb19c"/><stop offset="0.058" stop-color="#41a6c8"/><stop offset="0.088" stop-color="#1d9cd1"/><stop offset="0.119" stop-color="#199bd2"/><stop offset="1.000" stop-color="#1f9dd1"/></linearGradient><linearGradient id="vs2" gradientUnits="userSpaceOnUse" x1="268.1" y1="182.0" x2="297.3" y2="211.0"><stop offset="0.000" stop-color="#82b48c"/><stop offset="0.028" stop-color="#6fb19c"/><stop offset="0.058" stop-color="#40a6c9"/><stop offset="0.088" stop-color="#1d9cd1"/><stop offset="0.120" stop-color="#199bd2"/><stop offset="1.000" stop-color="#1f9dd1"/></linearGradient><linearGradient id="vs3" gradientUnits="userSpaceOnUse" x1="268.1" y1="183.0" x2="297.3" y2="212.0"><stop offset="0.000" stop-color="#82b48c"/><stop offset="0.028" stop-color="#6fb19c"/><stop offset="0.058" stop-color="#40a6c9"/><stop offset="0.088" stop-color="#1d9cd1"/><stop offset="0.120" stop-color="#199bd2"/><stop offset="1.000" stop-color="#1f9dd1"/></linearGradient><linearGradient id="vs4" gradientUnits="userSpaceOnUse" x1="268.1" y1="184.0" x2="297.3" y2="212.9"><stop offset="0.000" stop-color="#82b48c"/><stop offset="0.029" stop-color="#6fb19c"/><stop offset="0.058" stop-color="#40a6c9"/><stop offset="0.089" stop-color="#1d9cd1"/><stop offset="0.120" stop-color="#199bd2"/><stop offset="1.000" stop-color="#1f9dd1"/></linearGradient><linearGradient id="vs5" gradientUnits="userSpaceOnUse" x1="268.1" y1="185.0" x2="297.3" y2="213.8"><stop offset="0.000" stop-color="#82b48c"/><stop offset="0.029" stop-color="#6fb19c"/><stop offset="0.058" stop-color="#40a6c9"/><stop offset="0.089" stop-color="#1c9cd2"/><stop offset="1.000" stop-color="#1f9dd1"/></linearGradient><linearGradient id="vs6" gradientUnits="userSpaceOnUse" x1="268.1" y1="186.1" x2="297.3" y2="214.8"><stop offset="0.000" stop-color="#82b48c"/><stop offset="0.029" stop-color="#6fb19c"/><stop offset="0.058" stop-color="#40a6c9"/><stop offset="0.089" stop-color="#1c9cd2"/><stop offset="1.000" stop-color="#1f9dd1"/></linearGradient><linearGradient id="vs7" gradientUnits="userSpaceOnUse" x1="268.1" y1="187.1" x2="297.4" y2="216.1"><stop offset="0.000" stop-color="#82b48c"/><stop offset="0.028" stop-color="#6fb19c"/><stop offset="0.058" stop-color="#41a6c8"/><stop offset="0.088" stop-color="#1d9cd1"/><stop offset="0.119" stop-color="#199bd2"/><stop offset="1.000" stop-color="#1f9dd1"/></linearGradient><linearGradient id="vs8" gradientUnits="userSpaceOnUse" x1="268.1" y1="188.1" x2="297.4" y2="217.0"><stop offset="0.000" stop-color="#82b48c"/><stop offset="0.028" stop-color="#6fb19c"/><stop offset="0.058" stop-color="#40a6c9"/><stop offset="0.088" stop-color="#1d9cd1"/><stop offset="0.120" stop-color="#199bd2"/><stop offset="1.000" stop-color="#1f9dd1"/></linearGradient><linearGradient id="vs9" gradientUnits="userSpaceOnUse" x1="268.1" y1="189.1" x2="297.4" y2="217.9"><stop offset="0.000" stop-color="#82b48c"/><stop offset="0.029" stop-color="#6fb19c"/><stop offset="0.058" stop-color="#40a6c9"/><stop offset="0.089" stop-color="#1c9cd2"/><stop offset="1.000" stop-color="#1f9dd1"/></linearGradient><linearGradient id="vs10" gradientUnits="userSpaceOnUse" x1="268.1" y1="190.1" x2="297.4" y2="218.8"><stop offset="0.000" stop-color="#82b48c"/><stop offset="0.029" stop-color="#6fb19c"/><stop offset="0.058" stop-color="#40a6c9"/><stop offset="0.089" stop-color="#1c9cd2"/><stop offset="1.000" stop-color="#1f9dd1"/></linearGradient><linearGradient id="vs11" gradientUnits="userSpaceOnUse" x1="268.1" y1="191.1" x2="297.4" y2="220.1"><stop offset="0.000" stop-color="#82b48c"/><stop offset="0.028" stop-color="#6fb19c"/><stop offset="0.058" stop-color="#40a6c9"/><stop offset="0.088" stop-color="#1d9cd1"/><stop offset="0.120" stop-color="#199bd2"/><stop offset="1.000" stop-color="#1f9dd1"/></linearGradient><linearGradient id="vs12" gradientUnits="userSpaceOnUse" x1="268.1" y1="192.1" x2="297.4" y2="220.9"><stop offset="0.000" stop-color="#82b48c"/><stop offset="0.029" stop-color="#6fb19c"/><stop offset="0.058" stop-color="#40a6c9"/><stop offset="0.089" stop-color="#1c9cd2"/><stop offset="1.000" stop-color="#1f9dd1"/></linearGradient><linearGradient id="vs13" gradientUnits="userSpaceOnUse" x1="268.1" y1="193.2" x2="297.4" y2="221.8"><stop offset="0.000" stop-color="#82b48c"/><stop offset="0.029" stop-color="#6fb19c"/><stop offset="0.059" stop-color="#40a6c9"/><stop offset="0.089" stop-color="#1c9cd2"/><stop offset="1.000" stop-color="#1f9dd1"/></linearGradient><linearGradient id="vs14" gradientUnits="userSpaceOnUse" x1="268.1" y1="194.2" x2="297.4" y2="223.0"><stop offset="0.000" stop-color="#82b48c"/><stop offset="0.029" stop-color="#6fb19c"/><stop offset="0.058" stop-color="#40a6c9"/><stop offset="0.089" stop-color="#1c9cd2"/><stop offset="1.000" stop-color="#1f9dd1"/></linearGradient><linearGradient id="vs15" gradientUnits="userSpaceOnUse" x1="268.1" y1="195.2" x2="297.4" y2="223.9"><stop offset="0.000" stop-color="#82b48c"/><stop offset="0.029" stop-color="#6fb19c"/><stop offset="0.059" stop-color="#40a6c9"/><stop offset="0.089" stop-color="#1c9cd2"/><stop offset="1.000" stop-color="#1f9dd1"/></linearGradient><linearGradient id="vs16" gradientUnits="userSpaceOnUse" x1="268.1" y1="196.2" x2="297.4" y2="225.1"><stop offset="0.000" stop-color="#82b48c"/><stop offset="0.029" stop-color="#6fb19c"/><stop offset="0.058" stop-color="#40a6c9"/><stop offset="0.089" stop-color="#1c9cd2"/><stop offset="1.000" stop-color="#1f9dd1"/></linearGradient><linearGradient id="vs17" gradientUnits="userSpaceOnUse" x1="268.1" y1="197.3" x2="297.4" y2="226.3"><stop offset="0.000" stop-color="#82b48c"/><stop offset="0.028" stop-color="#6fb19c"/><stop offset="0.058" stop-color="#40a6c9"/><stop offset="0.088" stop-color="#1d9cd1"/><stop offset="0.120" stop-color="#199bd2"/><stop offset="1.000" stop-color="#1f9dd1"/></linearGradient><linearGradient id="vs18" gradientUnits="userSpaceOnUse" x1="268.1" y1="198.3" x2="297.4" y2="227.1"><stop offset="0.000" stop-color="#82b48c"/><stop offset="0.029" stop-color="#6fb19c"/><stop offset="0.058" stop-color="#40a6c9"/><stop offset="0.089" stop-color="#1c9cd2"/><stop offset="1.000" stop-color="#1f9dd1"/></linearGradient><linearGradient id="vs19" gradientUnits="userSpaceOnUse" x1="268.1" y1="199.4" x2="297.5" y2="228.2"><stop offset="0.000" stop-color="#82b48c"/><stop offset="0.029" stop-color="#6fb19c"/><stop offset="0.058" stop-color="#40a6c9"/><stop offset="0.089" stop-color="#1c9cd2"/><stop offset="1.000" stop-color="#1f9dd1"/></linearGradient><linearGradient id="vs20" gradientUnits="userSpaceOnUse" x1="268.1" y1="200.4" x2="297.5" y2="229.4"><stop offset="0.000" stop-color="#82b48c"/><stop offset="0.029" stop-color="#6fb19c"/><stop offset="0.058" stop-color="#40a6c9"/><stop offset="0.089" stop-color="#1c9cd2"/><stop offset="1.000" stop-color="#1f9dd1"/></linearGradient><linearGradient id="vs21" gradientUnits="userSpaceOnUse" x1="268.1" y1="201.5" x2="297.5" y2="230.1"><stop offset="0.000" stop-color="#82b48c"/><stop offset="0.029" stop-color="#6fb19c"/><stop offset="0.059" stop-color="#40a6c9"/><stop offset="0.089" stop-color="#1c9cd2"/><stop offset="1.000" stop-color="#1f9dd1"/></linearGradient><linearGradient id="vs22" gradientUnits="userSpaceOnUse" x1="268.1" y1="202.6" x2="297.5" y2="231.3"><stop offset="0.000" stop-color="#82b48c"/><stop offset="0.029" stop-color="#6fb19c"/><stop offset="0.059" stop-color="#40a6c9"/><stop offset="0.089" stop-color="#1c9cd2"/><stop offset="1.000" stop-color="#1f9dd1"/></linearGradient><linearGradient id="vs23" gradientUnits="userSpaceOnUse" x1="268.1" y1="203.7" x2="297.5" y2="232.4"><stop offset="0.000" stop-color="#82b48c"/><stop offset="0.029" stop-color="#6fb19c"/><stop offset="0.059" stop-color="#40a6c9"/><stop offset="0.089" stop-color="#1c9cd2"/><stop offset="1.000" stop-color="#1f9dd1"/></linearGradient><linearGradient id="vs24" gradientUnits="userSpaceOnUse" x1="268.1" y1="204.8" x2="297.5" y2="233.4"><stop offset="0.000" stop-color="#82b48c"/><stop offset="0.029" stop-color="#6fb19c"/><stop offset="0.059" stop-color="#3fa6ca"/><stop offset="0.089" stop-color="#1c9cd2"/><stop offset="1.000" stop-color="#1f9dd1"/></linearGradient><linearGradient id="vs25" gradientUnits="userSpaceOnUse" x1="268.1" y1="205.9" x2="297.6" y2="234.5"><stop offset="0.000" stop-color="#82b48c"/><stop offset="0.029" stop-color="#6fb19c"/><stop offset="0.059" stop-color="#3fa6ca"/><stop offset="0.090" stop-color="#1c9cd2"/><stop offset="1.000" stop-color="#1f9dd1"/></linearGradient><linearGradient id="vs26" gradientUnits="userSpaceOnUse" x1="268.1" y1="207.0" x2="297.6" y2="235.9"><stop offset="0.000" stop-color="#82b48c"/><stop offset="0.029" stop-color="#6fb19c"/><stop offset="0.058" stop-color="#40a6c9"/><stop offset="0.089" stop-color="#1c9cd2"/><stop offset="1.000" stop-color="#1f9dd1"/></linearGradient><linearGradient id="vs27" gradientUnits="userSpaceOnUse" x1="268.1" y1="208.1" x2="297.6" y2="236.9"><stop offset="0.000" stop-color="#82b48c"/><stop offset="0.029" stop-color="#6fb19c"/><stop offset="0.059" stop-color="#40a6c9"/><stop offset="0.089" stop-color="#1c9cd2"/><stop offset="1.000" stop-color="#1f9dd1"/></linearGradient><linearGradient id="vs28" gradientUnits="userSpaceOnUse" x1="268.1" y1="209.3" x2="297.6" y2="237.9"><stop offset="0.000" stop-color="#82b48c"/><stop offset="0.029" stop-color="#6fb19c"/><stop offset="0.059" stop-color="#3fa6ca"/><stop offset="0.090" stop-color="#1c9cd2"/><stop offset="1.000" stop-color="#1f9dd1"/></linearGradient><linearGradient id="vs29" gradientUnits="userSpaceOnUse" x1="268.1" y1="210.5" x2="297.7" y2="239.2"><stop offset="0.000" stop-color="#82b48c"/><stop offset="0.029" stop-color="#6fb19c"/><stop offset="0.059" stop-color="#3fa6ca"/><stop offset="0.089" stop-color="#1c9cd2"/><stop offset="1.000" stop-color="#1f9dd1"/></linearGradient><linearGradient id="vs30" gradientUnits="userSpaceOnUse" x1="268.1" y1="211.6" x2="297.7" y2="240.5"><stop offset="0.000" stop-color="#82b48c"/><stop offset="0.029" stop-color="#6fb19c"/><stop offset="0.059" stop-color="#3fa6ca"/><stop offset="0.089" stop-color="#1c9cd2"/><stop offset="1.000" stop-color="#1f9dd1"/></linearGradient><linearGradient id="vs31" gradientUnits="userSpaceOnUse" x1="268.1" y1="212.9" x2="297.8" y2="241.8"><stop offset="0.000" stop-color="#82b48c"/><stop offset="0.029" stop-color="#6fb19c"/><stop offset="0.059" stop-color="#3fa6ca"/><stop offset="0.089" stop-color="#1c9cd2"/><stop offset="1.000" stop-color="#1f9dd1"/></linearGradient><linearGradient id="vs32" gradientUnits="userSpaceOnUse" x1="268.1" y1="214.1" x2="297.8" y2="243.0"><stop offset="0.000" stop-color="#82b48c"/><stop offset="0.029" stop-color="#6fb19c"/><stop offset="0.059" stop-color="#3fa6ca"/><stop offset="0.089" stop-color="#1c9cd2"/><stop offset="1.000" stop-color="#1f9dd1"/></linearGradient><linearGradient id="vs33" gradientUnits="userSpaceOnUse" x1="268.1" y1="215.3" x2="297.8" y2="244.2"><stop offset="0.000" stop-color="#82b48c"/><stop offset="0.029" stop-color="#6fb19c"/><stop offset="0.059" stop-color="#3fa6ca"/><stop offset="0.090" stop-color="#1c9cd2"/><stop offset="1.000" stop-color="#1f9dd1"/></linearGradient><linearGradient id="vs34" gradientUnits="userSpaceOnUse" x1="268.1" y1="216.6" x2="297.9" y2="245.4"><stop offset="0.000" stop-color="#82b48c"/><stop offset="0.029" stop-color="#6fb19c"/><stop offset="0.059" stop-color="#3fa6ca"/><stop offset="0.090" stop-color="#1c9cd2"/><stop offset="1.000" stop-color="#1f9dd1"/></linearGradient><linearGradient id="vs35" gradientUnits="userSpaceOnUse" x1="268.1" y1="217.9" x2="297.9" y2="246.8"><stop offset="0.000" stop-color="#82b48c"/><stop offset="0.029" stop-color="#6fb19c"/><stop offset="0.059" stop-color="#3fa6ca"/><stop offset="0.090" stop-color="#1c9cd2"/><stop offset="1.000" stop-color="#1f9dd1"/></linearGradient><linearGradient id="vs36" gradientUnits="userSpaceOnUse" x1="268.1" y1="219.3" x2="298.0" y2="248.1"><stop offset="0.000" stop-color="#82b48c"/><stop offset="0.029" stop-color="#6fb19c"/><stop offset="0.059" stop-color="#3fa6ca"/><stop offset="0.090" stop-color="#1c9cd2"/><stop offset="1.000" stop-color="#1f9dd1"/></linearGradient><linearGradient id="vs37" gradientUnits="userSpaceOnUse" x1="268.1" y1="220.7" x2="298.1" y2="249.5"><stop offset="0.000" stop-color="#82b48c"/><stop offset="0.029" stop-color="#6fb19c"/><stop offset="0.059" stop-color="#3fa6ca"/><stop offset="0.090" stop-color="#1c9cd2"/><stop offset="1.000" stop-color="#1f9dd1"/></linearGradient><linearGradient id="vs38" gradientUnits="userSpaceOnUse" x1="268.1" y1="222.1" x2="298.1" y2="250.8"><stop offset="0.000" stop-color="#82b48c"/><stop offset="0.029" stop-color="#6eb19c"/><stop offset="0.060" stop-color="#3ea6cb"/><stop offset="0.091" stop-color="#1c9cd2"/><stop offset="1.000" stop-color="#1f9dd1"/></linearGradient><linearGradient id="vs39" gradientUnits="userSpaceOnUse" x1="268.1" y1="223.6" x2="298.2" y2="252.3"><stop offset="0.000" stop-color="#82b48c"/><stop offset="0.029" stop-color="#6eb19c"/><stop offset="0.060" stop-color="#3ea6cb"/><stop offset="0.091" stop-color="#1b9cd2"/><stop offset="1.000" stop-color="#1f9dd1"/></linearGradient><linearGradient id="vs40" gradientUnits="userSpaceOnUse" x1="268.1" y1="225.1" x2="298.3" y2="254.0"><stop offset="0.000" stop-color="#82b48c"/><stop offset="0.029" stop-color="#6eb19c"/><stop offset="0.060" stop-color="#3ea6cb"/><stop offset="0.091" stop-color="#1b9cd2"/><stop offset="1.000" stop-color="#1f9dd1"/></linearGradient><linearGradient id="vs41" gradientUnits="userSpaceOnUse" x1="268.1" y1="226.7" x2="298.4" y2="255.3"><stop offset="0.000" stop-color="#82b48c"/><stop offset="0.030" stop-color="#6eb19d"/><stop offset="0.060" stop-color="#3ea5cb"/><stop offset="0.091" stop-color="#1b9cd2"/><stop offset="1.000" stop-color="#1f9dd1"/></linearGradient><linearGradient id="vs42" gradientUnits="userSpaceOnUse" x1="268.1" y1="228.3" x2="298.6" y2="257.1"><stop offset="0.000" stop-color="#82b48c"/><stop offset="0.030" stop-color="#6eb19d"/><stop offset="0.060" stop-color="#3ea5cb"/><stop offset="0.091" stop-color="#1b9cd2"/><stop offset="1.000" stop-color="#1f9dd1"/></linearGradient><linearGradient id="vs43" gradientUnits="userSpaceOnUse" x1="268.1" y1="230.0" x2="298.7" y2="258.8"><stop offset="0.000" stop-color="#82b48c"/><stop offset="0.030" stop-color="#6eb19d"/><stop offset="0.060" stop-color="#3da5cc"/><stop offset="0.092" stop-color="#1b9cd2"/><stop offset="1.000" stop-color="#1f9dd1"/></linearGradient><linearGradient id="vs44" gradientUnits="userSpaceOnUse" x1="268.1" y1="231.8" x2="298.9" y2="260.5"><stop offset="0.000" stop-color="#82b48c"/><stop offset="0.030" stop-color="#6eb19d"/><stop offset="0.061" stop-color="#3da5cc"/><stop offset="0.092" stop-color="#1b9cd2"/><stop offset="1.000" stop-color="#1f9dd1"/></linearGradient><linearGradient id="vs45" gradientUnits="userSpaceOnUse" x1="268.1" y1="233.7" x2="299.1" y2="262.4"><stop offset="0.000" stop-color="#82b48c"/><stop offset="0.030" stop-color="#6eb19d"/><stop offset="0.061" stop-color="#3ca5cd"/><stop offset="0.093" stop-color="#1b9bd2"/><stop offset="1.000" stop-color="#1f9dd1"/></linearGradient><linearGradient id="vs46" gradientUnits="userSpaceOnUse" x1="268.1" y1="235.6" x2="299.4" y2="264.3"><stop offset="0.000" stop-color="#82b48c"/><stop offset="0.030" stop-color="#6eb19d"/><stop offset="0.061" stop-color="#3ca5cd"/><stop offset="0.093" stop-color="#1a9bd2"/><stop offset="1.000" stop-color="#1f9dd1"/></linearGradient><linearGradient id="vs47" gradientUnits="userSpaceOnUse" x1="268.1" y1="237.7" x2="299.7" y2="266.4"><stop offset="0.000" stop-color="#82b48c"/><stop offset="0.031" stop-color="#6db19d"/><stop offset="0.062" stop-color="#3ba5cd"/><stop offset="0.094" stop-color="#1a9bd2"/><stop offset="1.000" stop-color="#1f9dd1"/></linearGradient><linearGradient id="vs48" gradientUnits="userSpaceOnUse" x1="268.1" y1="239.9" x2="300.1" y2="268.5"><stop offset="0.000" stop-color="#82b48c"/><stop offset="0.031" stop-color="#6db19d"/><stop offset="0.062" stop-color="#3ba5cd"/><stop offset="0.095" stop-color="#1a9bd2"/><stop offset="1.000" stop-color="#1f9dd1"/></linearGradient><linearGradient id="vs49" gradientUnits="userSpaceOnUse" x1="268.1" y1="242.3" x2="300.6" y2="270.9"><stop offset="0.000" stop-color="#82b48c"/><stop offset="0.031" stop-color="#6db09e"/><stop offset="0.063" stop-color="#3aa4cd"/><stop offset="0.095" stop-color="#1a9bd2"/><stop offset="1.000" stop-color="#1f9dd1"/></linearGradient><linearGradient id="vs50" gradientUnits="userSpaceOnUse" x1="268.1" y1="244.8" x2="301.3" y2="273.4"><stop offset="0.000" stop-color="#82b48c"/><stop offset="0.032" stop-color="#6cb09e"/><stop offset="0.064" stop-color="#39a4cd"/><stop offset="0.097" stop-color="#199bd2"/><stop offset="1.000" stop-color="#1f9dd1"/></linearGradient><linearGradient id="vs51" gradientUnits="userSpaceOnUse" x1="268.1" y1="247.5" x2="302.3" y2="276.1"><stop offset="0.000" stop-color="#82b48c"/><stop offset="0.033" stop-color="#6bb09f"/><stop offset="0.065" stop-color="#37a4ce"/><stop offset="0.098" stop-color="#199bd2"/><stop offset="1.000" stop-color="#1f9dd1"/></linearGradient><linearGradient id="vs52" gradientUnits="userSpaceOnUse" x1="268.1" y1="250.4" x2="303.6" y2="279.0"><stop offset="0.000" stop-color="#82b48c"/><stop offset="0.034" stop-color="#6bb09f"/><stop offset="0.067" stop-color="#36a3ce"/><stop offset="0.101" stop-color="#199bd2"/><stop offset="1.000" stop-color="#1f9dd1"/></linearGradient><linearGradient id="vs53" gradientUnits="userSpaceOnUse" x1="268.1" y1="253.6" x2="305.4" y2="282.2"><stop offset="0.000" stop-color="#82b48c"/><stop offset="0.035" stop-color="#6ab0a0"/><stop offset="0.069" stop-color="#33a3ce"/><stop offset="0.104" stop-color="#199bd2"/><stop offset="1.000" stop-color="#199bd2"/></linearGradient><linearGradient id="vs54" gradientUnits="userSpaceOnUse" x1="268.1" y1="257.1" x2="307.6" y2="285.8"><stop offset="0.000" stop-color="#82b48c"/><stop offset="0.036" stop-color="#69b0a1"/><stop offset="0.072" stop-color="#31a2cf"/><stop offset="0.108" stop-color="#199bd2"/><stop offset="1.000" stop-color="#1698d2"/></linearGradient><linearGradient id="vs55" gradientUnits="userSpaceOnUse" x1="268.1" y1="261.1" x2="308.2" y2="286.8"><stop offset="0.000" stop-color="#82b48c"/><stop offset="0.039" stop-color="#67afa3"/><stop offset="0.077" stop-color="#2da1cf"/><stop offset="0.115" stop-color="#199bd2"/><stop offset="1.000" stop-color="#1698d2"/></linearGradient><linearGradient id="vs56" gradientUnits="userSpaceOnUse" x1="268.1" y1="265.5" x2="308.2" y2="286.8"><stop offset="0.000" stop-color="#82b48c"/><stop offset="0.043" stop-color="#64afa5"/><stop offset="0.085" stop-color="#279fd0"/><stop offset="0.126" stop-color="#199bd2"/><stop offset="1.000" stop-color="#1698d2"/></linearGradient><linearGradient id="cb3" x1="0" y1="1" x2="0" y2="0"><stop offset="0.0" stop-color="#1496d2"/><stop offset="0.125" stop-color="#199bd2"/><stop offset="0.25" stop-color="#3ca5cd"/><stop offset="0.375" stop-color="#64afa5"/><stop offset="0.5" stop-color="#82b48c"/><stop offset="0.625" stop-color="#aac378"/><stop offset="0.75" stop-color="#d7d250"/><stop offset="0.875" stop-color="#dcd616"/><stop offset="1.0" stop-color="#e1d200"/></linearGradient><linearGradient id="ph0" gradientUnits="userSpaceOnUse" x1="11.3" y1="311.8" x2="48.6" y2="415.0"><stop offset="0.000" stop-color="#d8d342"/><stop offset="0.118" stop-color="#d8d342"/><stop offset="0.203" stop-color="#ddd513"/><stop offset="0.308" stop-color="#dfd40a"/><stop offset="0.321" stop-color="#dcd617"/><stop offset="0.373" stop-color="#77b295"/><stop offset="0.796" stop-color="#74b298"/><stop offset="0.830" stop-color="#5cadad"/><stop offset="0.860" stop-color="#33a3ce"/><stop offset="0.886" stop-color="#1799d2"/><stop offset="1.000" stop-color="#1496d2"/></linearGradient><linearGradient id="ph1" gradientUnits="userSpaceOnUse" x1="11.3" y1="312.8" x2="38.5" y2="340.9"><stop offset="0.000" stop-color="#d8d342"/><stop offset="0.457" stop-color="#d8d342"/><stop offset="0.674" stop-color="#dcd618"/><stop offset="0.812" stop-color="#dfd40a"/><stop offset="0.971" stop-color="#dfd40a"/><stop offset="1.000" stop-color="#dcd617"/></linearGradient><linearGradient id="ph2" gradientUnits="userSpaceOnUse" x1="11.3" y1="313.8" x2="38.5" y2="341.8"><stop offset="0.000" stop-color="#d8d342"/><stop offset="0.458" stop-color="#d8d342"/><stop offset="0.674" stop-color="#dcd618"/><stop offset="0.813" stop-color="#dfd40a"/><stop offset="0.971" stop-color="#dfd40a"/><stop offset="1.000" stop-color="#dcd617"/></linearGradient><linearGradient id="ph3" gradientUnits="userSpaceOnUse" x1="11.3" y1="314.8" x2="38.5" y2="342.7"><stop offset="0.000" stop-color="#d8d342"/><stop offset="0.459" stop-color="#d8d342"/><stop offset="0.675" stop-color="#dcd618"/><stop offset="0.813" stop-color="#dfd40a"/><stop offset="0.971" stop-color="#dfd40a"/><stop offset="1.000" stop-color="#dcd617"/></linearGradient><linearGradient id="ph4" gradientUnits="userSpaceOnUse" x1="11.3" y1="315.8" x2="38.5" y2="343.6"><stop offset="0.000" stop-color="#d8d342"/><stop offset="0.459" stop-color="#d8d342"/><stop offset="0.675" stop-color="#dcd618"/><stop offset="0.813" stop-color="#dfd40a"/><stop offset="0.971" stop-color="#dfd40a"/><stop offset="1.000" stop-color="#dcd617"/></linearGradient><linearGradient id="ph5" gradientUnits="userSpaceOnUse" x1="11.3" y1="316.8" x2="38.5" y2="344.5"><stop offset="0.000" stop-color="#d8d342"/><stop offset="0.460" stop-color="#d8d342"/><stop offset="0.676" stop-color="#dcd617"/><stop offset="0.814" stop-color="#dfd40a"/><stop offset="0.971" stop-color="#dfd40a"/><stop offset="1.000" stop-color="#dcd617"/></linearGradient><linearGradient id="ph6" gradientUnits="userSpaceOnUse" x1="11.3" y1="317.8" x2="38.5" y2="345.8"><stop offset="0.000" stop-color="#d8d342"/><stop offset="0.458" stop-color="#d8d342"/><stop offset="0.674" stop-color="#dcd618"/><stop offset="0.812" stop-color="#dfd40a"/><stop offset="0.971" stop-color="#dfd40a"/><stop offset="1.000" stop-color="#dcd617"/></linearGradient><linearGradient id="ph7" gradientUnits="userSpaceOnUse" x1="11.3" y1="318.8" x2="38.5" y2="346.7"><stop offset="0.000" stop-color="#d8d342"/><stop offset="0.459" stop-color="#d8d342"/><stop offset="0.674" stop-color="#dcd618"/><stop offset="0.813" stop-color="#dfd40a"/><stop offset="0.971" stop-color="#dfd40a"/><stop offset="1.000" stop-color="#dcd617"/></linearGradient><linearGradient id="ph8" gradientUnits="userSpaceOnUse" x1="11.3" y1="319.8" x2="38.5" y2="347.6"><stop offset="0.000" stop-color="#d8d342"/><stop offset="0.460" stop-color="#d8d342"/><stop offset="0.675" stop-color="#dcd618"/><stop offset="0.814" stop-color="#dfd40a"/><stop offset="0.971" stop-color="#dfd40a"/><stop offset="1.000" stop-color="#dcd617"/></linearGradient><linearGradient id="ph9" gradientUnits="userSpaceOnUse" x1="11.3" y1="320.9" x2="38.5" y2="348.9"><stop offset="0.000" stop-color="#d8d342"/><stop offset="0.457" stop-color="#d8d342"/><stop offset="0.674" stop-color="#dcd618"/><stop offset="0.812" stop-color="#dfd40a"/><stop offset="0.971" stop-color="#dfd40a"/><stop offset="1.000" stop-color="#dcd617"/></linearGradient><linearGradient id="ph10" gradientUnits="userSpaceOnUse" x1="11.3" y1="321.9" x2="38.5" y2="349.7"><stop offset="0.000" stop-color="#d8d342"/><stop offset="0.459" stop-color="#d8d342"/><stop offset="0.675" stop-color="#dcd618"/><stop offset="0.813" stop-color="#dfd40a"/><stop offset="0.971" stop-color="#dfd40a"/><stop offset="1.000" stop-color="#dcd617"/></linearGradient><linearGradient id="ph11" gradientUnits="userSpaceOnUse" x1="11.3" y1="322.9" x2="38.5" y2="350.5"><stop offset="0.000" stop-color="#d8d342"/><stop offset="0.460" stop-color="#d8d342"/><stop offset="0.676" stop-color="#dcd617"/><stop offset="0.814" stop-color="#dfd40a"/><stop offset="0.971" stop-color="#dfd40a"/><stop offset="1.000" stop-color="#dcd617"/></linearGradient><linearGradient id="ph12" gradientUnits="userSpaceOnUse" x1="11.3" y1="323.9" x2="38.5" y2="351.8"><stop offset="0.000" stop-color="#d8d342"/><stop offset="0.458" stop-color="#d8d342"/><stop offset="0.674" stop-color="#dcd618"/><stop offset="0.813" stop-color="#dfd40a"/><stop offset="0.971" stop-color="#dfd40a"/><stop offset="1.000" stop-color="#dcd617"/></linearGradient><linearGradient id="ph13" gradientUnits="userSpaceOnUse" x1="11.3" y1="324.9" x2="38.5" y2="352.6"><stop offset="0.000" stop-color="#d8d342"/><stop offset="0.460" stop-color="#d8d342"/><stop offset="0.676" stop-color="#dcd618"/><stop offset="0.814" stop-color="#dfd40a"/><stop offset="0.971" stop-color="#dfd40a"/><stop offset="1.000" stop-color="#dcd617"/></linearGradient><linearGradient id="ph14" gradientUnits="userSpaceOnUse" x1="11.3" y1="325.9" x2="38.6" y2="353.8"><stop offset="0.000" stop-color="#d8d342"/><stop offset="0.459" stop-color="#d8d342"/><stop offset="0.674" stop-color="#dcd618"/><stop offset="0.813" stop-color="#dfd40a"/><stop offset="0.971" stop-color="#dfd40a"/><stop offset="1.000" stop-color="#dcd617"/></linearGradient><linearGradient id="ph15" gradientUnits="userSpaceOnUse" x1="11.3" y1="327.0" x2="38.6" y2="355.0"><stop offset="0.000" stop-color="#d8d342"/><stop offset="0.457" stop-color="#d8d342"/><stop offset="0.673" stop-color="#dcd618"/><stop offset="0.812" stop-color="#dfd40a"/><stop offset="0.971" stop-color="#dfd40a"/><stop offset="1.000" stop-color="#dcd617"/></linearGradient><linearGradient id="ph16" gradientUnits="userSpaceOnUse" x1="11.3" y1="328.0" x2="38.6" y2="355.8"><stop offset="0.000" stop-color="#d8d342"/><stop offset="0.459" stop-color="#d8d342"/><stop offset="0.675" stop-color="#dcd618"/><stop offset="0.813" stop-color="#dfd40a"/><stop offset="0.971" stop-color="#dfd40a"/><stop offset="1.000" stop-color="#dcd617"/></linearGradient><linearGradient id="ph17" gradientUnits="userSpaceOnUse" x1="11.3" y1="329.0" x2="38.6" y2="356.9"><stop offset="0.000" stop-color="#d8d342"/><stop offset="0.458" stop-color="#d8d342"/><stop offset="0.674" stop-color="#dcd618"/><stop offset="0.812" stop-color="#dfd40a"/><stop offset="0.971" stop-color="#dfd40a"/><stop offset="1.000" stop-color="#dcd617"/></linearGradient><linearGradient id="ph18" gradientUnits="userSpaceOnUse" x1="11.3" y1="330.1" x2="38.6" y2="358.0"><stop offset="0.000" stop-color="#d8d342"/><stop offset="0.458" stop-color="#d8d342"/><stop offset="0.673" stop-color="#dcd618"/><stop offset="0.812" stop-color="#dfd40a"/><stop offset="0.971" stop-color="#dfd40a"/><stop offset="1.000" stop-color="#dcd617"/></linearGradient><linearGradient id="ph19" gradientUnits="userSpaceOnUse" x1="11.3" y1="331.1" x2="38.6" y2="358.8"><stop offset="0.000" stop-color="#d8d342"/><stop offset="0.460" stop-color="#d8d342"/><stop offset="0.675" stop-color="#dcd617"/><stop offset="0.813" stop-color="#dfd40a"/><stop offset="0.971" stop-color="#dfd40a"/><stop offset="1.000" stop-color="#dcd617"/></linearGradient><linearGradient id="ph20" gradientUnits="userSpaceOnUse" x1="11.3" y1="332.2" x2="38.6" y2="359.9"><stop offset="0.000" stop-color="#d8d342"/><stop offset="0.460" stop-color="#d8d342"/><stop offset="0.675" stop-color="#dcd618"/><stop offset="0.813" stop-color="#dfd40a"/><stop offset="0.971" stop-color="#dfd40a"/><stop offset="1.000" stop-color="#dcd617"/></linearGradient><linearGradient id="ph21" gradientUnits="userSpaceOnUse" x1="11.3" y1="333.3" x2="38.6" y2="361.0"><stop offset="0.000" stop-color="#d8d342"/><stop offset="0.460" stop-color="#d8d342"/><stop offset="0.675" stop-color="#dcd618"/><stop offset="0.813" stop-color="#dfd40a"/><stop offset="0.971" stop-color="#dfd40a"/><stop offset="1.000" stop-color="#dcd617"/></linearGradient><linearGradient id="ph22" gradientUnits="userSpaceOnUse" x1="11.3" y1="334.3" x2="38.6" y2="362.0"><stop offset="0.000" stop-color="#d8d342"/><stop offset="0.460" stop-color="#d8d342"/><stop offset="0.675" stop-color="#dcd618"/><stop offset="0.813" stop-color="#dfd40a"/><stop offset="0.971" stop-color="#dfd40a"/><stop offset="1.000" stop-color="#dcd617"/></linearGradient><linearGradient id="ph23" gradientUnits="userSpaceOnUse" x1="11.3" y1="335.4" x2="38.7" y2="363.1"><stop offset="0.000" stop-color="#d8d342"/><stop offset="0.460" stop-color="#d8d342"/><stop offset="0.675" stop-color="#dcd617"/><stop offset="0.813" stop-color="#dfd40a"/><stop offset="0.971" stop-color="#dfd40a"/><stop offset="1.000" stop-color="#dcd617"/></linearGradient><linearGradient id="ph24" gradientUnits="userSpaceOnUse" x1="11.3" y1="336.5" x2="38.7" y2="364.5"><stop offset="0.000" stop-color="#d8d342"/><stop offset="0.458" stop-color="#d8d342"/><stop offset="0.674" stop-color="#dcd618"/><stop offset="0.812" stop-color="#dfd40a"/><stop offset="0.971" stop-color="#dfd40a"/><stop offset="1.000" stop-color="#dcd617"/></linearGradient><linearGradient id="ph25" gradientUnits="userSpaceOnUse" x1="11.3" y1="337.7" x2="38.7" y2="365.5"><stop offset="0.000" stop-color="#d8d342"/><stop offset="0.459" stop-color="#d8d342"/><stop offset="0.674" stop-color="#dcd618"/><stop offset="0.812" stop-color="#dfd40a"/><stop offset="0.971" stop-color="#dfd40a"/><stop offset="1.000" stop-color="#dcd617"/></linearGradient><linearGradient id="ph26" gradientUnits="userSpaceOnUse" x1="11.3" y1="338.8" x2="38.7" y2="366.5"><stop offset="0.000" stop-color="#d8d342"/><stop offset="0.460" stop-color="#d8d342"/><stop offset="0.675" stop-color="#dcd617"/><stop offset="0.813" stop-color="#dfd40a"/><stop offset="0.971" stop-color="#dfd40a"/><stop offset="1.000" stop-color="#dcd617"/></linearGradient><linearGradient id="ph27" gradientUnits="userSpaceOnUse" x1="11.3" y1="340.0" x2="38.8" y2="367.8"><stop offset="0.000" stop-color="#d8d342"/><stop offset="0.459" stop-color="#d8d342"/><stop offset="0.674" stop-color="#dcd618"/><stop offset="0.812" stop-color="#dfd40a"/><stop offset="0.971" stop-color="#dfd40a"/><stop offset="1.000" stop-color="#dcd617"/></linearGradient><linearGradient id="ph28" gradientUnits="userSpaceOnUse" x1="11.3" y1="341.1" x2="38.8" y2="369.0"><stop offset="0.000" stop-color="#d8d342"/><stop offset="0.458" stop-color="#d8d342"/><stop offset="0.674" stop-color="#dcd618"/><stop offset="0.812" stop-color="#dfd40a"/><stop offset="0.971" stop-color="#dfd40a"/><stop offset="1.000" stop-color="#dcd617"/></linearGradient><linearGradient id="ph29" gradientUnits="userSpaceOnUse" x1="11.3" y1="342.3" x2="38.8" y2="370.3"><stop offset="0.000" stop-color="#d8d342"/><stop offset="0.458" stop-color="#d8d342"/><stop offset="0.673" stop-color="#dcd618"/><stop offset="0.812" stop-color="#dfd40a"/><stop offset="0.971" stop-color="#dfd40a"/><stop offset="1.000" stop-color="#dcd617"/></linearGradient><linearGradient id="ph30" gradientUnits="userSpaceOnUse" x1="11.3" y1="343.5" x2="38.9" y2="371.5"><stop offset="0.000" stop-color="#d8d342"/><stop offset="0.458" stop-color="#d8d342"/><stop offset="0.673" stop-color="#dcd618"/><stop offset="0.812" stop-color="#dfd40a"/><stop offset="0.971" stop-color="#dfd40a"/><stop offset="1.000" stop-color="#dcd617"/></linearGradient><linearGradient id="ph31" gradientUnits="userSpaceOnUse" x1="11.3" y1="344.8" x2="38.9" y2="372.7"><stop offset="0.000" stop-color="#d8d342"/><stop offset="0.459" stop-color="#d8d342"/><stop offset="0.674" stop-color="#dcd618"/><stop offset="0.812" stop-color="#dfd40a"/><stop offset="0.971" stop-color="#dfd40a"/><stop offset="1.000" stop-color="#dcd617"/></linearGradient><linearGradient id="ph32" gradientUnits="userSpaceOnUse" x1="11.3" y1="346.1" x2="38.9" y2="373.8"><stop offset="0.000" stop-color="#d8d342"/><stop offset="0.460" stop-color="#d8d342"/><stop offset="0.674" stop-color="#dcd618"/><stop offset="0.812" stop-color="#dfd40a"/><stop offset="0.971" stop-color="#dfd40a"/><stop offset="1.000" stop-color="#dcd617"/></linearGradient><linearGradient id="ph33" gradientUnits="userSpaceOnUse" x1="11.3" y1="347.4" x2="39.0" y2="375.2"><stop offset="0.000" stop-color="#d8d342"/><stop offset="0.459" stop-color="#d8d342"/><stop offset="0.674" stop-color="#dcd618"/><stop offset="0.812" stop-color="#dfd40a"/><stop offset="0.971" stop-color="#dfd40a"/><stop offset="1.000" stop-color="#dcd617"/></linearGradient><linearGradient id="ph34" gradientUnits="userSpaceOnUse" x1="11.3" y1="348.7" x2="39.0" y2="376.6"><stop offset="0.000" stop-color="#d8d342"/><stop offset="0.459" stop-color="#d8d342"/><stop offset="0.673" stop-color="#dcd618"/><stop offset="0.811" stop-color="#dfd40a"/><stop offset="0.971" stop-color="#dfd40a"/><stop offset="1.000" stop-color="#dcd617"/></linearGradient><linearGradient id="ph35" gradientUnits="userSpaceOnUse" x1="11.3" y1="350.1" x2="39.1" y2="377.9"><stop offset="0.000" stop-color="#d8d342"/><stop offset="0.459" stop-color="#d8d342"/><stop offset="0.674" stop-color="#dcd618"/><stop offset="0.812" stop-color="#dfd40a"/><stop offset="0.971" stop-color="#dfd40a"/><stop offset="1.000" stop-color="#dcd617"/></linearGradient><linearGradient id="ph36" gradientUnits="userSpaceOnUse" x1="11.3" y1="351.5" x2="39.2" y2="379.2"><stop offset="0.000" stop-color="#d8d342"/><stop offset="0.460" stop-color="#d8d342"/><stop offset="0.675" stop-color="#dcd617"/><stop offset="0.812" stop-color="#dfd40a"/><stop offset="0.971" stop-color="#dfd40a"/><stop offset="1.000" stop-color="#dcd617"/></linearGradient><linearGradient id="ph37" gradientUnits="userSpaceOnUse" x1="11.3" y1="352.9" x2="39.2" y2="380.7"><stop offset="0.000" stop-color="#d8d342"/><stop offset="0.460" stop-color="#d8d342"/><stop offset="0.674" stop-color="#dcd617"/><stop offset="0.812" stop-color="#dfd40a"/><stop offset="0.971" stop-color="#dfd40a"/><stop offset="1.000" stop-color="#dcd617"/></linearGradient><linearGradient id="ph38" gradientUnits="userSpaceOnUse" x1="11.3" y1="354.5" x2="39.3" y2="382.3"><stop offset="0.000" stop-color="#d8d342"/><stop offset="0.459" stop-color="#d8d342"/><stop offset="0.673" stop-color="#dcd618"/><stop offset="0.811" stop-color="#dfd40a"/><stop offset="0.970" stop-color="#dfd40a"/><stop offset="1.000" stop-color="#dcd617"/></linearGradient><linearGradient id="ph39" gradientUnits="userSpaceOnUse" x1="11.3" y1="356.0" x2="39.4" y2="383.7"><stop offset="0.000" stop-color="#d8d342"/><stop offset="0.461" stop-color="#d8d342"/><stop offset="0.675" stop-color="#dcd617"/><stop offset="0.812" stop-color="#dfd40a"/><stop offset="0.971" stop-color="#dfd40a"/><stop offset="1.000" stop-color="#dcd617"/></linearGradient><linearGradient id="ph40" gradientUnits="userSpaceOnUse" x1="11.3" y1="357.7" x2="39.5" y2="385.5"><stop offset="0.000" stop-color="#d8d342"/><stop offset="0.460" stop-color="#d8d342"/><stop offset="0.674" stop-color="#dcd617"/><stop offset="0.811" stop-color="#dfd40a"/><stop offset="0.970" stop-color="#dfd40a"/><stop offset="1.000" stop-color="#dcd617"/></linearGradient><linearGradient id="ph41" gradientUnits="userSpaceOnUse" x1="11.3" y1="359.4" x2="39.7" y2="387.1"><stop offset="0.000" stop-color="#d8d342"/><stop offset="0.461" stop-color="#d8d342"/><stop offset="0.674" stop-color="#dcd617"/><stop offset="0.811" stop-color="#dfd40a"/><stop offset="0.970" stop-color="#dfd40a"/><stop offset="1.000" stop-color="#dcd617"/></linearGradient><linearGradient id="ph42" gradientUnits="userSpaceOnUse" x1="11.3" y1="361.2" x2="39.8" y2="388.9"><stop offset="0.000" stop-color="#d8d342"/><stop offset="0.461" stop-color="#d8d342"/><stop offset="0.674" stop-color="#dcd617"/><stop offset="0.811" stop-color="#dfd40a"/><stop offset="0.970" stop-color="#dfd40a"/><stop offset="1.000" stop-color="#dcd617"/></linearGradient><linearGradient id="ph43" gradientUnits="userSpaceOnUse" x1="11.3" y1="363.1" x2="40.0" y2="390.9"><stop offset="0.000" stop-color="#d8d342"/><stop offset="0.461" stop-color="#d8d342"/><stop offset="0.673" stop-color="#dcd617"/><stop offset="0.810" stop-color="#dfd40a"/><stop offset="0.970" stop-color="#dfd40a"/><stop offset="1.000" stop-color="#dcd617"/></linearGradient><linearGradient id="ph44" gradientUnits="userSpaceOnUse" x1="11.3" y1="365.1" x2="40.2" y2="392.8"><stop offset="0.000" stop-color="#d8d342"/><stop offset="0.462" stop-color="#d8d342"/><stop offset="0.673" stop-color="#dcd617"/><stop offset="0.810" stop-color="#dfd40a"/><stop offset="0.970" stop-color="#dfd40a"/><stop offset="1.000" stop-color="#dcd617"/></linearGradient><linearGradient id="ph45" gradientUnits="userSpaceOnUse" x1="11.3" y1="367.2" x2="40.5" y2="395.0"><stop offset="0.000" stop-color="#d8d342"/><stop offset="0.461" stop-color="#d8d342"/><stop offset="0.672" stop-color="#dcd617"/><stop offset="0.809" stop-color="#dfd40a"/><stop offset="0.970" stop-color="#dfd40a"/><stop offset="1.000" stop-color="#dcd617"/></linearGradient><linearGradient id="ph46" gradientUnits="userSpaceOnUse" x1="11.3" y1="369.5" x2="40.9" y2="397.2"><stop offset="0.000" stop-color="#d8d342"/><stop offset="0.461" stop-color="#d8d342"/><stop offset="0.671" stop-color="#dcd617"/><stop offset="0.807" stop-color="#dfd40a"/><stop offset="0.969" stop-color="#dfd40a"/><stop offset="1.000" stop-color="#dcd617"/></linearGradient><linearGradient id="ph47" gradientUnits="userSpaceOnUse" x1="11.3" y1="371.9" x2="41.4" y2="399.6"><stop offset="0.000" stop-color="#d8d342"/><stop offset="0.461" stop-color="#d8d342"/><stop offset="0.670" stop-color="#dcd617"/><stop offset="0.806" stop-color="#dfd40a"/><stop offset="0.969" stop-color="#dfd40a"/><stop offset="1.000" stop-color="#dcd617"/></linearGradient><linearGradient id="ph48" gradientUnits="userSpaceOnUse" x1="11.3" y1="374.5" x2="42.1" y2="402.3"><stop offset="0.000" stop-color="#d8d342"/><stop offset="0.461" stop-color="#d8d342"/><stop offset="0.668" stop-color="#dcd617"/><stop offset="0.804" stop-color="#dfd40a"/><stop offset="0.968" stop-color="#dfd40a"/><stop offset="1.000" stop-color="#dcd617"/></linearGradient><linearGradient id="ph49" gradientUnits="userSpaceOnUse" x1="11.3" y1="377.4" x2="43.1" y2="405.1"><stop offset="0.000" stop-color="#d8d342"/><stop offset="0.462" stop-color="#d8d341"/><stop offset="0.666" stop-color="#dcd617"/><stop offset="0.802" stop-color="#dfd40a"/><stop offset="0.967" stop-color="#dfd40a"/><stop offset="1.000" stop-color="#dcd617"/></linearGradient><linearGradient id="ph50" gradientUnits="userSpaceOnUse" x1="11.3" y1="380.5" x2="44.6" y2="408.2"><stop offset="0.000" stop-color="#d8d342"/><stop offset="0.466" stop-color="#d8d341"/><stop offset="0.668" stop-color="#dcd616"/><stop offset="0.934" stop-color="#dfd409"/><stop offset="0.967" stop-color="#ddd511"/><stop offset="1.000" stop-color="#d0d056"/></linearGradient><linearGradient id="ph51" gradientUnits="userSpaceOnUse" x1="11.3" y1="384.0" x2="46.6" y2="411.7"><stop offset="0.000" stop-color="#d8d342"/><stop offset="0.475" stop-color="#d8d341"/><stop offset="0.675" stop-color="#dcd615"/><stop offset="0.871" stop-color="#dfd409"/><stop offset="0.904" stop-color="#dcd614"/><stop offset="0.936" stop-color="#d7d24e"/><stop offset="1.000" stop-color="#55abb4"/></linearGradient><linearGradient id="ph52" gradientUnits="userSpaceOnUse" x1="11.3" y1="387.9" x2="48.6" y2="415.0"><stop offset="0.000" stop-color="#d8d342"/><stop offset="0.455" stop-color="#d8d342"/><stop offset="0.686" stop-color="#dcd614"/><stop offset="0.814" stop-color="#dfd40b"/><stop offset="0.846" stop-color="#dbd520"/><stop offset="0.877" stop-color="#c4cc61"/><stop offset="0.908" stop-color="#85b58a"/><stop offset="0.970" stop-color="#2ba0cf"/><stop offset="1.000" stop-color="#1799d2"/></linearGradient><linearGradient id="ph53" gradientUnits="userSpaceOnUse" x1="11.3" y1="392.3" x2="48.6" y2="415.0"><stop offset="0.000" stop-color="#d8d342"/><stop offset="0.479" stop-color="#d8d340"/><stop offset="0.673" stop-color="#dcd615"/><stop offset="0.796" stop-color="#dfd40a"/><stop offset="0.826" stop-color="#ddd510"/><stop offset="0.856" stop-color="#d9d33c"/><stop offset="0.885" stop-color="#acc476"/><stop offset="0.943" stop-color="#4da9bc"/><stop offset="0.972" stop-color="#279fd0"/><stop offset="1.000" stop-color="#1799d2"/></linearGradient><linearGradient id="cb4" x1="0" y1="1" x2="0" y2="0"><stop offset="0.0" stop-color="#1496d2"/><stop offset="0.125" stop-color="#199bd2"/><stop offset="0.25" stop-color="#3ca5cd"/><stop offset="0.375" stop-color="#64afa5"/><stop offset="0.5" stop-color="#82b48c"/><stop offset="0.625" stop-color="#aac378"/><stop offset="0.75" stop-color="#d7d250"/><stop offset="0.875" stop-color="#dcd616"/><stop offset="1.0" stop-color="#e1d200"/></linearGradient><linearGradient id="kt0" gradientUnits="userSpaceOnUse" x1="96.0" y1="310.2" x2="135.0" y2="414.5"><stop offset="0.000" stop-color="#d9d439"/><stop offset="0.470" stop-color="#d9d43a"/><stop offset="0.512" stop-color="#d8d249"/><stop offset="0.551" stop-color="#c6cc5f"/><stop offset="0.682" stop-color="#67b0a2"/><stop offset="0.733" stop-color="#40a6c9"/><stop offset="0.796" stop-color="#1d9cd1"/><stop offset="1.000" stop-color="#1799d2"/></linearGradient><linearGradient id="kt1" gradientUnits="userSpaceOnUse" x1="96.0" y1="311.2" x2="124.4" y2="339.6"><stop offset="0.000" stop-color="#d9d439"/><stop offset="1.000" stop-color="#d9d439"/></linearGradient><linearGradient id="kt2" gradientUnits="userSpaceOnUse" x1="96.0" y1="312.2" x2="124.4" y2="340.5"><stop offset="0.000" stop-color="#d9d439"/><stop offset="1.000" stop-color="#d9d439"/></linearGradient><linearGradient id="kt3" gradientUnits="userSpaceOnUse" x1="96.0" y1="313.2" x2="124.4" y2="341.4"><stop offset="0.000" stop-color="#d9d439"/><stop offset="1.000" stop-color="#d9d439"/></linearGradient><linearGradient id="kt4" gradientUnits="userSpaceOnUse" x1="96.0" y1="314.2" x2="124.4" y2="342.3"><stop offset="0.000" stop-color="#d9d439"/><stop offset="1.000" stop-color="#d9d439"/></linearGradient><linearGradient id="kt5" gradientUnits="userSpaceOnUse" x1="96.0" y1="315.2" x2="124.4" y2="343.3"><stop offset="0.000" stop-color="#d9d439"/><stop offset="1.000" stop-color="#d9d439"/></linearGradient><linearGradient id="kt6" gradientUnits="userSpaceOnUse" x1="96.0" y1="316.2" x2="124.4" y2="344.6"><stop offset="0.000" stop-color="#d9d439"/><stop offset="1.000" stop-color="#d9d439"/></linearGradient><linearGradient id="kt7" gradientUnits="userSpaceOnUse" x1="96.0" y1="317.2" x2="124.5" y2="345.5"><stop offset="0.000" stop-color="#d9d439"/><stop offset="1.000" stop-color="#d9d439"/></linearGradient><linearGradient id="kt8" gradientUnits="userSpaceOnUse" x1="96.0" y1="318.3" x2="124.5" y2="346.4"><stop offset="0.000" stop-color="#d9d439"/><stop offset="1.000" stop-color="#d9d439"/></linearGradient><linearGradient id="kt9" gradientUnits="userSpaceOnUse" x1="96.0" y1="319.3" x2="124.5" y2="347.2"><stop offset="0.000" stop-color="#d9d439"/><stop offset="1.000" stop-color="#d9d439"/></linearGradient><linearGradient id="kt10" gradientUnits="userSpaceOnUse" x1="96.0" y1="320.3" x2="124.5" y2="348.5"><stop offset="0.000" stop-color="#d9d439"/><stop offset="1.000" stop-color="#d9d439"/></linearGradient><linearGradient id="kt11" gradientUnits="userSpaceOnUse" x1="96.0" y1="321.3" x2="124.5" y2="349.3"><stop offset="0.000" stop-color="#d9d439"/><stop offset="1.000" stop-color="#d9d439"/></linearGradient><linearGradient id="kt12" gradientUnits="userSpaceOnUse" x1="96.0" y1="322.3" x2="124.5" y2="350.6"><stop offset="0.000" stop-color="#d9d439"/><stop offset="1.000" stop-color="#d9d439"/></linearGradient><linearGradient id="kt13" gradientUnits="userSpaceOnUse" x1="96.0" y1="323.3" x2="124.5" y2="351.4"><stop offset="0.000" stop-color="#d9d439"/><stop offset="1.000" stop-color="#d9d439"/></linearGradient><linearGradient id="kt14" gradientUnits="userSpaceOnUse" x1="96.0" y1="324.4" x2="124.5" y2="352.6"><stop offset="0.000" stop-color="#d9d439"/><stop offset="1.000" stop-color="#d9d439"/></linearGradient><linearGradient id="kt15" gradientUnits="userSpaceOnUse" x1="96.0" y1="325.4" x2="124.5" y2="353.4"><stop offset="0.000" stop-color="#d9d439"/><stop offset="1.000" stop-color="#d9d439"/></linearGradient><linearGradient id="kt16" gradientUnits="userSpaceOnUse" x1="96.0" y1="326.4" x2="124.5" y2="354.6"><stop offset="0.000" stop-color="#d9d439"/><stop offset="1.000" stop-color="#d9d439"/></linearGradient><linearGradient id="kt17" gradientUnits="userSpaceOnUse" x1="96.0" y1="327.4" x2="124.5" y2="355.4"><stop offset="0.000" stop-color="#d9d439"/><stop offset="1.000" stop-color="#d9d43a"/></linearGradient><linearGradient id="kt18" gradientUnits="userSpaceOnUse" x1="96.0" y1="328.5" x2="124.5" y2="356.6"><stop offset="0.000" stop-color="#d9d439"/><stop offset="1.000" stop-color="#d9d33c"/></linearGradient><linearGradient id="kt19" gradientUnits="userSpaceOnUse" x1="96.0" y1="329.5" x2="124.6" y2="357.7"><stop offset="0.000" stop-color="#d9d439"/><stop offset="1.000" stop-color="#d9d33e"/></linearGradient><linearGradient id="kt20" gradientUnits="userSpaceOnUse" x1="96.0" y1="330.6" x2="124.6" y2="358.8"><stop offset="0.000" stop-color="#d9d439"/><stop offset="0.912" stop-color="#d9d439"/><stop offset="1.000" stop-color="#d8d342"/></linearGradient><linearGradient id="kt21" gradientUnits="userSpaceOnUse" x1="96.0" y1="331.7" x2="124.6" y2="359.9"><stop offset="0.000" stop-color="#d9d439"/><stop offset="0.881" stop-color="#d9d439"/><stop offset="1.000" stop-color="#d8d347"/></linearGradient><linearGradient id="kt22" gradientUnits="userSpaceOnUse" x1="96.0" y1="332.7" x2="124.6" y2="361.0"><stop offset="0.000" stop-color="#d9d439"/><stop offset="0.881" stop-color="#d9d439"/><stop offset="1.000" stop-color="#d7d24c"/></linearGradient><linearGradient id="kt23" gradientUnits="userSpaceOnUse" x1="96.0" y1="333.8" x2="124.6" y2="362.0"><stop offset="0.000" stop-color="#d9d439"/><stop offset="0.849" stop-color="#d9d439"/><stop offset="1.000" stop-color="#d6d251"/></linearGradient><linearGradient id="kt24" gradientUnits="userSpaceOnUse" x1="96.0" y1="334.9" x2="124.6" y2="363.1"><stop offset="0.000" stop-color="#d9d439"/><stop offset="0.817" stop-color="#d9d439"/><stop offset="0.912" stop-color="#d8d341"/><stop offset="1.000" stop-color="#d1d056"/></linearGradient><linearGradient id="kt25" gradientUnits="userSpaceOnUse" x1="96.0" y1="336.0" x2="124.7" y2="364.1"><stop offset="0.000" stop-color="#d9d439"/><stop offset="0.817" stop-color="#d9d439"/><stop offset="0.943" stop-color="#d7d24c"/><stop offset="1.000" stop-color="#cbce5a"/></linearGradient><linearGradient id="kt26" gradientUnits="userSpaceOnUse" x1="96.0" y1="337.2" x2="124.7" y2="365.1"><stop offset="0.000" stop-color="#d9d439"/><stop offset="0.784" stop-color="#d9d439"/><stop offset="0.913" stop-color="#d8d24a"/><stop offset="1.000" stop-color="#c6cc5f"/></linearGradient><linearGradient id="kt27" gradientUnits="userSpaceOnUse" x1="96.0" y1="338.3" x2="124.7" y2="366.4"><stop offset="0.000" stop-color="#d9d439"/><stop offset="0.749" stop-color="#d9d439"/><stop offset="0.912" stop-color="#d6d251"/><stop offset="1.000" stop-color="#beca66"/></linearGradient><linearGradient id="kt28" gradientUnits="userSpaceOnUse" x1="96.0" y1="339.5" x2="124.7" y2="367.4"><stop offset="0.000" stop-color="#d9d439"/><stop offset="0.750" stop-color="#d9d33a"/><stop offset="0.882" stop-color="#d7d24e"/><stop offset="1.000" stop-color="#b8c86c"/></linearGradient><linearGradient id="kt29" gradientUnits="userSpaceOnUse" x1="96.0" y1="340.6" x2="124.8" y2="368.7"><stop offset="0.000" stop-color="#d9d439"/><stop offset="0.715" stop-color="#d9d43a"/><stop offset="0.881" stop-color="#d3d154"/><stop offset="1.000" stop-color="#afc573"/></linearGradient><linearGradient id="kt30" gradientUnits="userSpaceOnUse" x1="96.0" y1="341.8" x2="124.8" y2="369.9"><stop offset="0.000" stop-color="#d9d439"/><stop offset="0.680" stop-color="#d9d43a"/><stop offset="0.849" stop-color="#d4d153"/><stop offset="1.000" stop-color="#a7c27a"/></linearGradient><linearGradient id="kt31" gradientUnits="userSpaceOnUse" x1="96.0" y1="343.0" x2="124.9" y2="371.1"><stop offset="0.000" stop-color="#d9d439"/><stop offset="0.680" stop-color="#d9d33c"/><stop offset="0.817" stop-color="#d5d152"/><stop offset="1.000" stop-color="#9fbf7e"/></linearGradient><linearGradient id="kt32" gradientUnits="userSpaceOnUse" x1="96.0" y1="344.3" x2="124.9" y2="372.3"><stop offset="0.000" stop-color="#d9d439"/><stop offset="0.610" stop-color="#d9d43a"/><stop offset="0.784" stop-color="#d5d151"/><stop offset="1.000" stop-color="#97bc81"/></linearGradient><linearGradient id="kt33" gradientUnits="userSpaceOnUse" x1="96.0" y1="345.6" x2="125.0" y2="373.7"><stop offset="0.000" stop-color="#d9d439"/><stop offset="0.573" stop-color="#d9d33a"/><stop offset="0.749" stop-color="#d5d151"/><stop offset="1.000" stop-color="#8db886"/></linearGradient><linearGradient id="kt34" gradientUnits="userSpaceOnUse" x1="96.0" y1="346.9" x2="125.0" y2="374.9"><stop offset="0.000" stop-color="#d9d439"/><stop offset="0.503" stop-color="#d9d439"/><stop offset="0.715" stop-color="#d6d251"/><stop offset="0.849" stop-color="#b8c86c"/><stop offset="1.000" stop-color="#85b58a"/></linearGradient><linearGradient id="kt35" gradientUnits="userSpaceOnUse" x1="96.0" y1="348.2" x2="125.1" y2="376.2"><stop offset="0.000" stop-color="#d9d439"/><stop offset="0.503" stop-color="#d9d33b"/><stop offset="0.681" stop-color="#d5d151"/><stop offset="0.816" stop-color="#b8c86c"/><stop offset="1.000" stop-color="#7db390"/></linearGradient><linearGradient id="kt36" gradientUnits="userSpaceOnUse" x1="96.0" y1="349.6" x2="125.1" y2="377.5"><stop offset="0.000" stop-color="#d9d439"/><stop offset="0.432" stop-color="#d9d43a"/><stop offset="0.646" stop-color="#d5d152"/><stop offset="0.783" stop-color="#b8c86b"/><stop offset="1.000" stop-color="#76b296"/></linearGradient><linearGradient id="kt37" gradientUnits="userSpaceOnUse" x1="96.0" y1="351.0" x2="125.2" y2="379.1"><stop offset="0.000" stop-color="#d9d439"/><stop offset="0.395" stop-color="#d9d33b"/><stop offset="0.610" stop-color="#d4d153"/><stop offset="0.715" stop-color="#c0ca65"/><stop offset="1.000" stop-color="#6eb19d"/></linearGradient><linearGradient id="kt38" gradientUnits="userSpaceOnUse" x1="96.0" y1="352.4" x2="125.3" y2="380.5"><stop offset="0.000" stop-color="#d9d439"/><stop offset="0.324" stop-color="#d9d33b"/><stop offset="0.538" stop-color="#d7d250"/><stop offset="0.714" stop-color="#b6c76d"/><stop offset="1.000" stop-color="#66afa3"/></linearGradient><linearGradient id="kt39" gradientUnits="userSpaceOnUse" x1="96.0" y1="353.9" x2="125.4" y2="382.0"><stop offset="0.000" stop-color="#d9d439"/><stop offset="0.256" stop-color="#d9d33b"/><stop offset="0.503" stop-color="#d5d152"/><stop offset="0.680" stop-color="#b5c76e"/><stop offset="1.000" stop-color="#5dadac"/></linearGradient><linearGradient id="kt40" gradientUnits="userSpaceOnUse" x1="96.0" y1="355.5" x2="125.5" y2="383.5"><stop offset="0.000" stop-color="#d9d43a"/><stop offset="0.256" stop-color="#d8d33f"/><stop offset="0.431" stop-color="#d7d250"/><stop offset="0.645" stop-color="#b3c670"/><stop offset="0.848" stop-color="#7eb38f"/><stop offset="1.000" stop-color="#52aab7"/></linearGradient><linearGradient id="kt41" gradientUnits="userSpaceOnUse" x1="96.0" y1="357.1" x2="125.6" y2="385.1"><stop offset="0.000" stop-color="#d9d33d"/><stop offset="0.361" stop-color="#d7d250"/><stop offset="0.504" stop-color="#c5cc60"/><stop offset="0.848" stop-color="#75b296"/><stop offset="1.000" stop-color="#47a8c2"/></linearGradient><linearGradient id="kt42" gradientUnits="userSpaceOnUse" x1="96.0" y1="358.8" x2="125.7" y2="386.7"><stop offset="0.000" stop-color="#d8d342"/><stop offset="0.292" stop-color="#d6d251"/><stop offset="0.468" stop-color="#c1cb64"/><stop offset="0.880" stop-color="#65afa4"/><stop offset="1.000" stop-color="#3da5cc"/></linearGradient><linearGradient id="kt43" gradientUnits="userSpaceOnUse" x1="96.0" y1="360.5" x2="125.9" y2="388.5"><stop offset="0.000" stop-color="#d8d24a"/><stop offset="0.190" stop-color="#d6d251"/><stop offset="0.398" stop-color="#c1cb64"/><stop offset="0.748" stop-color="#79b393"/><stop offset="1.000" stop-color="#33a3ce"/></linearGradient><linearGradient id="kt44" gradientUnits="userSpaceOnUse" x1="96.0" y1="362.4" x2="126.1" y2="390.3"><stop offset="0.000" stop-color="#d4d153"/><stop offset="0.258" stop-color="#c7cd5e"/><stop offset="0.469" stop-color="#a9c379"/><stop offset="0.680" stop-color="#7db390"/><stop offset="0.941" stop-color="#3aa4cd"/><stop offset="1.000" stop-color="#2aa0d0"/></linearGradient><linearGradient id="kt45" gradientUnits="userSpaceOnUse" x1="96.0" y1="364.3" x2="126.4" y2="392.4"><stop offset="0.000" stop-color="#cace5b"/><stop offset="0.157" stop-color="#c5cc60"/><stop offset="0.397" stop-color="#a8c279"/><stop offset="0.678" stop-color="#72b199"/><stop offset="0.878" stop-color="#3fa6ca"/><stop offset="1.000" stop-color="#219dd1"/></linearGradient><linearGradient id="kt46" gradientUnits="userSpaceOnUse" x1="96.0" y1="366.3" x2="126.7" y2="394.4"><stop offset="0.000" stop-color="#beca66"/><stop offset="0.158" stop-color="#b8c86c"/><stop offset="0.363" stop-color="#a0bf7d"/><stop offset="0.678" stop-color="#67b0a2"/><stop offset="0.845" stop-color="#3ba5cd"/><stop offset="1.000" stop-color="#1a9bd2"/></linearGradient><linearGradient id="kt47" gradientUnits="userSpaceOnUse" x1="96.0" y1="368.5" x2="127.1" y2="396.5"><stop offset="0.000" stop-color="#b0c572"/><stop offset="0.364" stop-color="#91ba84"/><stop offset="0.573" stop-color="#6eb19c"/><stop offset="0.779" stop-color="#3fa6ca"/><stop offset="1.000" stop-color="#189ad2"/></linearGradient><linearGradient id="kt48" gradientUnits="userSpaceOnUse" x1="96.0" y1="370.8" x2="127.6" y2="398.8"><stop offset="0.000" stop-color="#a1c07d"/><stop offset="0.261" stop-color="#90b985"/><stop offset="0.538" stop-color="#67b0a2"/><stop offset="0.743" stop-color="#39a4cd"/><stop offset="0.907" stop-color="#1a9bd2"/><stop offset="1.000" stop-color="#189ad2"/></linearGradient><linearGradient id="kt49" gradientUnits="userSpaceOnUse" x1="96.0" y1="373.3" x2="128.2" y2="401.3"><stop offset="0.000" stop-color="#90b985"/><stop offset="0.365" stop-color="#73b298"/><stop offset="0.674" stop-color="#38a4ce"/><stop offset="0.841" stop-color="#1b9cd2"/><stop offset="1.000" stop-color="#1799d2"/></linearGradient><linearGradient id="kt50" gradientUnits="userSpaceOnUse" x1="96.0" y1="376.0" x2="129.2" y2="404.0"><stop offset="0.000" stop-color="#7eb38f"/><stop offset="0.333" stop-color="#69b0a1"/><stop offset="0.571" stop-color="#3ca5cd"/><stop offset="0.773" stop-color="#1b9bd2"/><stop offset="1.000" stop-color="#1799d2"/></linearGradient><linearGradient id="kt51" gradientUnits="userSpaceOnUse" x1="96.0" y1="378.9" x2="130.5" y2="406.9"><stop offset="0.000" stop-color="#6fb19c"/><stop offset="0.269" stop-color="#5faeaa"/><stop offset="0.471" stop-color="#3da5cc"/><stop offset="0.706" stop-color="#199bd2"/><stop offset="1.000" stop-color="#1799d2"/></linearGradient><linearGradient id="kt52" gradientUnits="userSpaceOnUse" x1="96.0" y1="382.1" x2="132.3" y2="410.0"><stop offset="0.000" stop-color="#5cadad"/><stop offset="0.207" stop-color="#51aab8"/><stop offset="0.377" stop-color="#3aa4cd"/><stop offset="0.612" stop-color="#1a9bd2"/><stop offset="1.000" stop-color="#1799d2"/></linearGradient><linearGradient id="kt53" gradientUnits="userSpaceOnUse" x1="96.0" y1="385.6" x2="134.4" y2="413.6"><stop offset="0.000" stop-color="#44a7c5"/><stop offset="0.178" stop-color="#3da5cc"/><stop offset="0.523" stop-color="#199bd2"/><stop offset="1.000" stop-color="#1799d2"/></linearGradient><linearGradient id="kt54" gradientUnits="userSpaceOnUse" x1="96.0" y1="389.5" x2="135.0" y2="414.5"><stop offset="0.000" stop-color="#2ea1cf"/><stop offset="0.474" stop-color="#189ad2"/><stop offset="1.000" stop-color="#1799d2"/></linearGradient><linearGradient id="kt55" gradientUnits="userSpaceOnUse" x1="96.0" y1="393.9" x2="135.0" y2="414.5"><stop offset="0.000" stop-color="#1c9cd2"/><stop offset="1.000" stop-color="#1799d2"/></linearGradient><linearGradient id="cb5" x1="0" y1="1" x2="0" y2="0"><stop offset="0.0" stop-color="#1496d2"/><stop offset="0.125" stop-color="#199bd2"/><stop offset="0.25" stop-color="#3ca5cd"/><stop offset="0.375" stop-color="#64afa5"/><stop offset="0.5" stop-color="#82b48c"/><stop offset="0.625" stop-color="#aac378"/><stop offset="0.75" stop-color="#d7d250"/><stop offset="0.875" stop-color="#dcd616"/><stop offset="1.0" stop-color="#e1d200"/></linearGradient><linearGradient id="st0" gradientUnits="userSpaceOnUse" x1="183.8" y1="310.2" x2="221.8" y2="412.6"><stop offset="0.000" stop-color="#1799d2"/><stop offset="0.120" stop-color="#1799d2"/><stop offset="0.143" stop-color="#219dd1"/><stop offset="0.168" stop-color="#47a8c2"/><stop offset="0.193" stop-color="#77b295"/><stop offset="0.219" stop-color="#adc476"/><stop offset="0.232" stop-color="#cbce5b"/><stop offset="0.245" stop-color="#d9d33c"/><stop offset="0.258" stop-color="#dbd51e"/><stop offset="0.271" stop-color="#ddd511"/><stop offset="0.298" stop-color="#dfd40b"/><stop offset="1.000" stop-color="#dfd40b"/></linearGradient><linearGradient id="st1" gradientUnits="userSpaceOnUse" x1="183.8" y1="311.2" x2="211.5" y2="339.0"><stop offset="0.000" stop-color="#1799d2"/><stop offset="0.499" stop-color="#189ad2"/><stop offset="0.571" stop-color="#33a2ce"/><stop offset="0.678" stop-color="#78b294"/><stop offset="0.782" stop-color="#cdcf59"/><stop offset="0.849" stop-color="#dbd61c"/><stop offset="0.881" stop-color="#ddd510"/><stop offset="1.000" stop-color="#dfd40b"/></linearGradient><linearGradient id="st2" gradientUnits="userSpaceOnUse" x1="183.8" y1="312.2" x2="211.5" y2="340.0"><stop offset="0.000" stop-color="#1799d2"/><stop offset="0.463" stop-color="#1799d2"/><stop offset="0.500" stop-color="#199bd2"/><stop offset="0.572" stop-color="#36a3ce"/><stop offset="0.679" stop-color="#7cb391"/><stop offset="0.749" stop-color="#b3c670"/><stop offset="0.783" stop-color="#d1d055"/><stop offset="0.849" stop-color="#dcd619"/><stop offset="0.912" stop-color="#ded40b"/><stop offset="1.000" stop-color="#dfd40b"/></linearGradient><linearGradient id="st3" gradientUnits="userSpaceOnUse" x1="183.8" y1="313.2" x2="211.5" y2="340.9"><stop offset="0.000" stop-color="#1799d2"/><stop offset="0.500" stop-color="#199bd2"/><stop offset="0.573" stop-color="#38a4ce"/><stop offset="0.680" stop-color="#7fb38f"/><stop offset="0.783" stop-color="#d5d152"/><stop offset="0.849" stop-color="#dcd616"/><stop offset="1.000" stop-color="#dfd40b"/></linearGradient><linearGradient id="st4" gradientUnits="userSpaceOnUse" x1="183.8" y1="314.2" x2="211.5" y2="341.8"><stop offset="0.000" stop-color="#1799d2"/><stop offset="0.501" stop-color="#1a9bd2"/><stop offset="0.573" stop-color="#3ba5cd"/><stop offset="0.680" stop-color="#82b48c"/><stop offset="0.715" stop-color="#9ebf7e"/><stop offset="0.784" stop-color="#d7d24d"/><stop offset="0.850" stop-color="#dcd615"/><stop offset="1.000" stop-color="#dfd40b"/></linearGradient><linearGradient id="st5" gradientUnits="userSpaceOnUse" x1="183.8" y1="315.2" x2="211.5" y2="343.1"><stop offset="0.000" stop-color="#1799d2"/><stop offset="0.462" stop-color="#189ad2"/><stop offset="0.499" stop-color="#1b9cd2"/><stop offset="0.571" stop-color="#3da5cc"/><stop offset="0.643" stop-color="#6eb19d"/><stop offset="0.713" stop-color="#a1c07d"/><stop offset="0.782" stop-color="#d8d24a"/><stop offset="0.848" stop-color="#ddd614"/><stop offset="1.000" stop-color="#dfd40b"/></linearGradient><linearGradient id="st6" gradientUnits="userSpaceOnUse" x1="183.8" y1="316.2" x2="211.5" y2="344.0"><stop offset="0.000" stop-color="#1799d2"/><stop offset="0.463" stop-color="#189ad2"/><stop offset="0.499" stop-color="#1d9cd1"/><stop offset="0.572" stop-color="#41a6c8"/><stop offset="0.643" stop-color="#71b19a"/><stop offset="0.714" stop-color="#a5c17b"/><stop offset="0.782" stop-color="#d8d345"/><stop offset="0.849" stop-color="#ddd513"/><stop offset="1.000" stop-color="#dfd40b"/></linearGradient><linearGradient id="st7" gradientUnits="userSpaceOnUse" x1="183.8" y1="317.2" x2="211.5" y2="344.8"><stop offset="0.000" stop-color="#1799d2"/><stop offset="0.464" stop-color="#189ad2"/><stop offset="0.537" stop-color="#2fa1cf"/><stop offset="0.573" stop-color="#44a7c5"/><stop offset="0.644" stop-color="#75b297"/><stop offset="0.715" stop-color="#a9c378"/><stop offset="0.749" stop-color="#c8cd5e"/><stop offset="0.783" stop-color="#d8d340"/><stop offset="0.849" stop-color="#ddd512"/><stop offset="1.000" stop-color="#dfd40b"/></linearGradient><linearGradient id="st8" gradientUnits="userSpaceOnUse" x1="183.8" y1="318.2" x2="211.5" y2="345.7"><stop offset="0.000" stop-color="#1799d2"/><stop offset="0.465" stop-color="#189ad2"/><stop offset="0.538" stop-color="#32a2ce"/><stop offset="0.716" stop-color="#aec475"/><stop offset="0.750" stop-color="#ccce5a"/><stop offset="0.784" stop-color="#d9d33b"/><stop offset="0.817" stop-color="#dbd51e"/><stop offset="0.850" stop-color="#ddd511"/><stop offset="1.000" stop-color="#dfd40b"/></linearGradient><linearGradient id="st9" gradientUnits="userSpaceOnUse" x1="183.8" y1="319.2" x2="211.5" y2="347.0"><stop offset="0.000" stop-color="#1799d2"/><stop offset="0.427" stop-color="#1799d2"/><stop offset="0.463" stop-color="#199bd2"/><stop offset="0.536" stop-color="#34a3ce"/><stop offset="0.643" stop-color="#7ab393"/><stop offset="0.714" stop-color="#b1c572"/><stop offset="0.748" stop-color="#cfcf57"/><stop offset="0.816" stop-color="#dcd61b"/><stop offset="0.849" stop-color="#ddd510"/><stop offset="1.000" stop-color="#dfd40b"/></linearGradient><linearGradient id="st10" gradientUnits="userSpaceOnUse" x1="183.8" y1="320.3" x2="211.5" y2="347.8"><stop offset="0.000" stop-color="#1799d2"/><stop offset="0.465" stop-color="#199bd2"/><stop offset="0.537" stop-color="#37a4ce"/><stop offset="0.645" stop-color="#7db390"/><stop offset="0.749" stop-color="#d3d154"/><stop offset="0.817" stop-color="#dcd618"/><stop offset="0.881" stop-color="#dfd40b"/><stop offset="1.000" stop-color="#dfd40b"/></linearGradient><linearGradient id="st11" gradientUnits="userSpaceOnUse" x1="183.8" y1="321.3" x2="211.5" y2="349.0"><stop offset="0.000" stop-color="#1799d2"/><stop offset="0.463" stop-color="#199bd2"/><stop offset="0.535" stop-color="#39a4cd"/><stop offset="0.643" stop-color="#7fb48e"/><stop offset="0.748" stop-color="#d6d251"/><stop offset="0.816" stop-color="#dcd616"/><stop offset="0.881" stop-color="#dfd40b"/><stop offset="1.000" stop-color="#dfd40b"/></linearGradient><linearGradient id="st12" gradientUnits="userSpaceOnUse" x1="183.8" y1="322.3" x2="211.6" y2="349.9"><stop offset="0.000" stop-color="#1799d2"/><stop offset="0.428" stop-color="#189ad2"/><stop offset="0.464" stop-color="#1b9bd2"/><stop offset="0.537" stop-color="#3ca5cd"/><stop offset="0.644" stop-color="#83b48b"/><stop offset="0.680" stop-color="#a0bf7d"/><stop offset="0.749" stop-color="#d7d24c"/><stop offset="0.816" stop-color="#dcd614"/><stop offset="1.000" stop-color="#dfd40b"/></linearGradient><linearGradient id="st13" gradientUnits="userSpaceOnUse" x1="183.8" y1="323.3" x2="211.6" y2="351.1"><stop offset="0.000" stop-color="#1799d2"/><stop offset="0.427" stop-color="#189ad2"/><stop offset="0.463" stop-color="#1c9cd2"/><stop offset="0.535" stop-color="#3fa6ca"/><stop offset="0.607" stop-color="#70b19b"/><stop offset="0.678" stop-color="#a3c07c"/><stop offset="0.748" stop-color="#d8d348"/><stop offset="0.816" stop-color="#ddd613"/><stop offset="1.000" stop-color="#dfd40b"/></linearGradient><linearGradient id="st14" gradientUnits="userSpaceOnUse" x1="183.8" y1="324.3" x2="211.6" y2="351.9"><stop offset="0.000" stop-color="#1799d2"/><stop offset="0.429" stop-color="#189ad2"/><stop offset="0.501" stop-color="#2ea1cf"/><stop offset="0.537" stop-color="#43a7c6"/><stop offset="0.609" stop-color="#73b298"/><stop offset="0.680" stop-color="#a7c279"/><stop offset="0.749" stop-color="#d8d343"/><stop offset="0.817" stop-color="#ddd512"/><stop offset="1.000" stop-color="#dfd40b"/></linearGradient><linearGradient id="st15" gradientUnits="userSpaceOnUse" x1="183.8" y1="325.3" x2="211.6" y2="353.0"><stop offset="0.000" stop-color="#1799d2"/><stop offset="0.427" stop-color="#189ad2"/><stop offset="0.500" stop-color="#30a2cf"/><stop offset="0.679" stop-color="#aac378"/><stop offset="0.714" stop-color="#c9cd5d"/><stop offset="0.748" stop-color="#d8d33f"/><stop offset="0.816" stop-color="#ddd511"/><stop offset="1.000" stop-color="#dfd40b"/></linearGradient><linearGradient id="st16" gradientUnits="userSpaceOnUse" x1="183.8" y1="326.4" x2="211.6" y2="353.8"><stop offset="0.000" stop-color="#1799d2"/><stop offset="0.429" stop-color="#199bd2"/><stop offset="0.501" stop-color="#34a3ce"/><stop offset="0.609" stop-color="#79b393"/><stop offset="0.680" stop-color="#b0c573"/><stop offset="0.715" stop-color="#cecf58"/><stop offset="0.784" stop-color="#dbd61d"/><stop offset="0.817" stop-color="#ddd510"/><stop offset="1.000" stop-color="#dfd40b"/></linearGradient><linearGradient id="st17" gradientUnits="userSpaceOnUse" x1="183.8" y1="327.4" x2="211.6" y2="355.0"><stop offset="0.000" stop-color="#1799d2"/><stop offset="0.429" stop-color="#199bd2"/><stop offset="0.501" stop-color="#36a3ce"/><stop offset="0.609" stop-color="#7cb391"/><stop offset="0.680" stop-color="#b3c670"/><stop offset="0.715" stop-color="#d1d055"/><stop offset="0.783" stop-color="#dcd619"/><stop offset="0.816" stop-color="#ddd50f"/><stop offset="1.000" stop-color="#dfd40b"/></linearGradient><linearGradient id="st18" gradientUnits="userSpaceOnUse" x1="183.8" y1="328.5" x2="211.6" y2="356.1"><stop offset="0.000" stop-color="#1799d2"/><stop offset="0.428" stop-color="#199bd2"/><stop offset="0.500" stop-color="#38a4ce"/><stop offset="0.608" stop-color="#7eb38f"/><stop offset="0.714" stop-color="#d4d152"/><stop offset="0.783" stop-color="#dcd616"/><stop offset="0.849" stop-color="#dfd40b"/><stop offset="1.000" stop-color="#dfd40b"/></linearGradient><linearGradient id="st19" gradientUnits="userSpaceOnUse" x1="183.8" y1="329.5" x2="211.6" y2="357.2"><stop offset="0.000" stop-color="#1799d2"/><stop offset="0.427" stop-color="#1a9bd2"/><stop offset="0.500" stop-color="#3ba5cd"/><stop offset="0.608" stop-color="#81b48d"/><stop offset="0.714" stop-color="#d7d24f"/><stop offset="0.782" stop-color="#dcd615"/><stop offset="1.000" stop-color="#dfd40b"/></linearGradient><linearGradient id="st20" gradientUnits="userSpaceOnUse" x1="183.8" y1="330.6" x2="211.6" y2="358.3"><stop offset="0.000" stop-color="#1799d2"/><stop offset="0.391" stop-color="#189ad2"/><stop offset="0.427" stop-color="#1b9cd2"/><stop offset="0.499" stop-color="#3ea5cb"/><stop offset="0.571" stop-color="#6fb19c"/><stop offset="0.643" stop-color="#a1c07c"/><stop offset="0.713" stop-color="#d8d24a"/><stop offset="0.782" stop-color="#dcd614"/><stop offset="1.000" stop-color="#dfd40b"/></linearGradient><linearGradient id="st21" gradientUnits="userSpaceOnUse" x1="183.8" y1="331.6" x2="211.7" y2="359.4"><stop offset="0.000" stop-color="#1799d2"/><stop offset="0.391" stop-color="#189ad2"/><stop offset="0.427" stop-color="#1d9cd1"/><stop offset="0.499" stop-color="#41a6c8"/><stop offset="0.643" stop-color="#a5c17a"/><stop offset="0.713" stop-color="#d8d345"/><stop offset="0.782" stop-color="#ddd513"/><stop offset="1.000" stop-color="#dfd40b"/></linearGradient><linearGradient id="st22" gradientUnits="userSpaceOnUse" x1="183.8" y1="332.7" x2="211.7" y2="360.4"><stop offset="0.000" stop-color="#1799d2"/><stop offset="0.392" stop-color="#189ad2"/><stop offset="0.463" stop-color="#30a1cf"/><stop offset="0.643" stop-color="#a9c378"/><stop offset="0.713" stop-color="#d8d340"/><stop offset="0.782" stop-color="#ddd512"/><stop offset="1.000" stop-color="#dfd40b"/></linearGradient><linearGradient id="st23" gradientUnits="userSpaceOnUse" x1="183.8" y1="333.8" x2="211.7" y2="361.4"><stop offset="0.000" stop-color="#1799d2"/><stop offset="0.392" stop-color="#189ad2"/><stop offset="0.464" stop-color="#33a2ce"/><stop offset="0.643" stop-color="#aec475"/><stop offset="0.679" stop-color="#ccce5a"/><stop offset="0.714" stop-color="#d9d33c"/><stop offset="0.748" stop-color="#dbd51e"/><stop offset="0.782" stop-color="#ddd511"/><stop offset="1.000" stop-color="#dfd40b"/></linearGradient><linearGradient id="st24" gradientUnits="userSpaceOnUse" x1="183.8" y1="334.9" x2="211.7" y2="362.5"><stop offset="0.000" stop-color="#1799d2"/><stop offset="0.393" stop-color="#199bd2"/><stop offset="0.464" stop-color="#36a3ce"/><stop offset="0.572" stop-color="#7bb392"/><stop offset="0.679" stop-color="#d0d056"/><stop offset="0.749" stop-color="#dcd61a"/><stop offset="0.783" stop-color="#ddd510"/><stop offset="1.000" stop-color="#dfd40b"/></linearGradient><linearGradient id="st25" gradientUnits="userSpaceOnUse" x1="183.8" y1="336.0" x2="211.7" y2="363.5"><stop offset="0.000" stop-color="#1799d2"/><stop offset="0.393" stop-color="#199bd2"/><stop offset="0.465" stop-color="#39a4cd"/><stop offset="0.573" stop-color="#7fb38f"/><stop offset="0.680" stop-color="#d5d152"/><stop offset="0.749" stop-color="#dcd616"/><stop offset="0.816" stop-color="#dfd40b"/><stop offset="1.000" stop-color="#dfd40b"/></linearGradient><linearGradient id="st26" gradientUnits="userSpaceOnUse" x1="183.8" y1="337.1" x2="211.8" y2="364.8"><stop offset="0.000" stop-color="#1799d2"/><stop offset="0.392" stop-color="#1a9bd2"/><stop offset="0.464" stop-color="#3ba5cd"/><stop offset="0.572" stop-color="#81b48c"/><stop offset="0.679" stop-color="#d7d24f"/><stop offset="0.748" stop-color="#dcd615"/><stop offset="0.816" stop-color="#dfd40b"/><stop offset="1.000" stop-color="#dfd40b"/></linearGradient><linearGradient id="st27" gradientUnits="userSpaceOnUse" x1="183.8" y1="338.3" x2="211.8" y2="365.7"><stop offset="0.000" stop-color="#1799d2"/><stop offset="0.358" stop-color="#189ad2"/><stop offset="0.394" stop-color="#1c9cd2"/><stop offset="0.465" stop-color="#3fa6ca"/><stop offset="0.537" stop-color="#70b19b"/><stop offset="0.609" stop-color="#a3c07c"/><stop offset="0.680" stop-color="#d8d348"/><stop offset="0.749" stop-color="#ddd614"/><stop offset="0.783" stop-color="#ded40d"/><stop offset="1.000" stop-color="#dfd40b"/></linearGradient><linearGradient id="st28" gradientUnits="userSpaceOnUse" x1="183.8" y1="339.4" x2="211.8" y2="367.0"><stop offset="0.000" stop-color="#1799d2"/><stop offset="0.357" stop-color="#189ad2"/><stop offset="0.429" stop-color="#2ea1cf"/><stop offset="0.465" stop-color="#43a7c6"/><stop offset="0.608" stop-color="#a7c27a"/><stop offset="0.679" stop-color="#d8d344"/><stop offset="0.748" stop-color="#ddd513"/><stop offset="1.000" stop-color="#dfd40b"/></linearGradient><linearGradient id="st29" gradientUnits="userSpaceOnUse" x1="183.8" y1="340.6" x2="211.9" y2="368.2"><stop offset="0.000" stop-color="#1799d2"/><stop offset="0.357" stop-color="#189ad2"/><stop offset="0.428" stop-color="#31a2cf"/><stop offset="0.608" stop-color="#abc377"/><stop offset="0.643" stop-color="#c9cd5c"/><stop offset="0.679" stop-color="#d8d33f"/><stop offset="0.748" stop-color="#ddd511"/><stop offset="1.000" stop-color="#dfd40b"/></linearGradient><linearGradient id="st30" gradientUnits="userSpaceOnUse" x1="183.8" y1="341.8" x2="211.9" y2="369.4"><stop offset="0.000" stop-color="#1799d2"/><stop offset="0.357" stop-color="#199bd2"/><stop offset="0.428" stop-color="#34a3ce"/><stop offset="0.608" stop-color="#b0c573"/><stop offset="0.643" stop-color="#cecf58"/><stop offset="0.679" stop-color="#d9d43a"/><stop offset="0.714" stop-color="#dbd61d"/><stop offset="0.748" stop-color="#ddd510"/><stop offset="1.000" stop-color="#dfd40b"/></linearGradient><linearGradient id="st31" gradientUnits="userSpaceOnUse" x1="183.8" y1="343.0" x2="211.9" y2="370.6"><stop offset="0.000" stop-color="#1799d2"/><stop offset="0.358" stop-color="#199bd2"/><stop offset="0.429" stop-color="#37a4ce"/><stop offset="0.537" stop-color="#7db390"/><stop offset="0.644" stop-color="#d2d054"/><stop offset="0.714" stop-color="#dcd619"/><stop offset="0.748" stop-color="#ded50f"/><stop offset="1.000" stop-color="#dfd40b"/></linearGradient><linearGradient id="st32" gradientUnits="userSpaceOnUse" x1="183.8" y1="344.3" x2="212.0" y2="371.7"><stop offset="0.000" stop-color="#1799d2"/><stop offset="0.358" stop-color="#1a9bd2"/><stop offset="0.430" stop-color="#3ba5cd"/><stop offset="0.538" stop-color="#81b48d"/><stop offset="0.645" stop-color="#d7d24f"/><stop offset="0.715" stop-color="#dcd615"/><stop offset="0.749" stop-color="#ded50e"/><stop offset="1.000" stop-color="#dfd40b"/></linearGradient><linearGradient id="st33" gradientUnits="userSpaceOnUse" x1="183.8" y1="345.6" x2="212.0" y2="373.1"><stop offset="0.000" stop-color="#1799d2"/><stop offset="0.323" stop-color="#189ad2"/><stop offset="0.358" stop-color="#1c9cd2"/><stop offset="0.429" stop-color="#3ea6cb"/><stop offset="0.501" stop-color="#6fb19c"/><stop offset="0.573" stop-color="#a2c07c"/><stop offset="0.644" stop-color="#d8d24a"/><stop offset="0.714" stop-color="#dcd614"/><stop offset="1.000" stop-color="#dfd40b"/></linearGradient><linearGradient id="st34" gradientUnits="userSpaceOnUse" x1="183.8" y1="346.9" x2="212.1" y2="374.5"><stop offset="0.000" stop-color="#1799d2"/><stop offset="0.323" stop-color="#189ad2"/><stop offset="0.393" stop-color="#2ea1cf"/><stop offset="0.429" stop-color="#43a7c6"/><stop offset="0.572" stop-color="#a6c27a"/><stop offset="0.643" stop-color="#d8d344"/><stop offset="0.713" stop-color="#ddd513"/><stop offset="0.748" stop-color="#ded40d"/><stop offset="1.000" stop-color="#dfd40b"/></linearGradient><linearGradient id="st35" gradientUnits="userSpaceOnUse" x1="183.8" y1="348.2" x2="212.1" y2="375.8"><stop offset="0.000" stop-color="#1799d2"/><stop offset="0.323" stop-color="#189ad2"/><stop offset="0.394" stop-color="#32a2ce"/><stop offset="0.573" stop-color="#acc477"/><stop offset="0.608" stop-color="#cace5c"/><stop offset="0.644" stop-color="#d9d33e"/><stop offset="0.679" stop-color="#dbd521"/><stop offset="0.748" stop-color="#ded40c"/><stop offset="1.000" stop-color="#dfd40b"/></linearGradient><linearGradient id="st36" gradientUnits="userSpaceOnUse" x1="183.8" y1="349.6" x2="212.2" y2="377.1"><stop offset="0.000" stop-color="#1799d2"/><stop offset="0.324" stop-color="#199bd2"/><stop offset="0.395" stop-color="#35a3ce"/><stop offset="0.574" stop-color="#b2c671"/><stop offset="0.609" stop-color="#cfcf57"/><stop offset="0.644" stop-color="#d9d438"/><stop offset="0.680" stop-color="#dcd61b"/><stop offset="0.749" stop-color="#ded40b"/><stop offset="1.000" stop-color="#dfd40b"/></linearGradient><linearGradient id="st37" gradientUnits="userSpaceOnUse" x1="183.8" y1="351.1" x2="212.3" y2="378.5"><stop offset="0.000" stop-color="#1799d2"/><stop offset="0.324" stop-color="#199bd2"/><stop offset="0.394" stop-color="#39a4cd"/><stop offset="0.502" stop-color="#7fb38f"/><stop offset="0.609" stop-color="#d4d152"/><stop offset="0.679" stop-color="#dcd617"/><stop offset="0.714" stop-color="#ded50f"/><stop offset="1.000" stop-color="#dfd40b"/></linearGradient><linearGradient id="st38" gradientUnits="userSpaceOnUse" x1="183.8" y1="352.5" x2="212.4" y2="380.2"><stop offset="0.000" stop-color="#1799d2"/><stop offset="0.323" stop-color="#1b9cd2"/><stop offset="0.393" stop-color="#3da5cc"/><stop offset="0.500" stop-color="#83b48c"/><stop offset="0.607" stop-color="#d7d24d"/><stop offset="0.678" stop-color="#dcd615"/><stop offset="0.713" stop-color="#ded50e"/><stop offset="1.000" stop-color="#dfd40b"/></linearGradient><linearGradient id="st39" gradientUnits="userSpaceOnUse" x1="183.8" y1="354.1" x2="212.5" y2="381.6"><stop offset="0.000" stop-color="#1799d2"/><stop offset="0.324" stop-color="#1e9cd1"/><stop offset="0.395" stop-color="#42a7c7"/><stop offset="0.466" stop-color="#72b199"/><stop offset="0.538" stop-color="#a6c17a"/><stop offset="0.609" stop-color="#d8d345"/><stop offset="0.679" stop-color="#ddd513"/><stop offset="0.714" stop-color="#ded40d"/><stop offset="1.000" stop-color="#dfd40b"/></linearGradient><linearGradient id="st40" gradientUnits="userSpaceOnUse" x1="183.8" y1="355.7" x2="212.6" y2="383.3"><stop offset="0.000" stop-color="#1799d2"/><stop offset="0.289" stop-color="#189ad2"/><stop offset="0.324" stop-color="#219dd1"/><stop offset="0.394" stop-color="#47a8c2"/><stop offset="0.430" stop-color="#61aea8"/><stop offset="0.537" stop-color="#abc377"/><stop offset="0.572" stop-color="#c9cd5c"/><stop offset="0.608" stop-color="#d8d33f"/><stop offset="0.643" stop-color="#dbd521"/><stop offset="0.713" stop-color="#ded40c"/><stop offset="1.000" stop-color="#dfd40b"/></linearGradient><linearGradient id="st41" gradientUnits="userSpaceOnUse" x1="183.8" y1="357.3" x2="212.7" y2="384.9"><stop offset="0.000" stop-color="#1799d2"/><stop offset="0.289" stop-color="#199bd2"/><stop offset="0.324" stop-color="#249ed0"/><stop offset="0.359" stop-color="#36a3ce"/><stop offset="0.537" stop-color="#b2c671"/><stop offset="0.572" stop-color="#cfcf57"/><stop offset="0.608" stop-color="#d9d438"/><stop offset="0.643" stop-color="#dcd61c"/><stop offset="0.712" stop-color="#ded40b"/><stop offset="1.000" stop-color="#dfd40b"/></linearGradient><linearGradient id="st42" gradientUnits="userSpaceOnUse" x1="183.8" y1="359.0" x2="212.9" y2="386.5"><stop offset="0.000" stop-color="#1799d2"/><stop offset="0.291" stop-color="#1a9bd2"/><stop offset="0.361" stop-color="#3ba5cd"/><stop offset="0.467" stop-color="#81b48d"/><stop offset="0.573" stop-color="#d7d250"/><stop offset="0.644" stop-color="#dcd616"/><stop offset="0.679" stop-color="#ded50f"/><stop offset="1.000" stop-color="#dfd40b"/></linearGradient><linearGradient id="st43" gradientUnits="userSpaceOnUse" x1="183.8" y1="360.9" x2="213.1" y2="388.3"><stop offset="0.000" stop-color="#1799d2"/><stop offset="0.291" stop-color="#1e9dd1"/><stop offset="0.361" stop-color="#43a7c6"/><stop offset="0.431" stop-color="#73b298"/><stop offset="0.502" stop-color="#a6c27a"/><stop offset="0.573" stop-color="#d8d345"/><stop offset="0.643" stop-color="#ddd513"/><stop offset="0.678" stop-color="#ded40d"/><stop offset="1.000" stop-color="#dfd40b"/></linearGradient><linearGradient id="st44" gradientUnits="userSpaceOnUse" x1="183.8" y1="362.8" x2="213.3" y2="390.2"><stop offset="0.000" stop-color="#1799d2"/><stop offset="0.257" stop-color="#1a9bd2"/><stop offset="0.327" stop-color="#3ba5cd"/><stop offset="0.432" stop-color="#81b48d"/><stop offset="0.538" stop-color="#d6d251"/><stop offset="0.608" stop-color="#dcd616"/><stop offset="0.643" stop-color="#ded50f"/><stop offset="1.000" stop-color="#dfd40b"/></linearGradient><linearGradient id="st45" gradientUnits="userSpaceOnUse" x1="183.8" y1="364.8" x2="213.6" y2="392.3"><stop offset="0.000" stop-color="#1799d2"/><stop offset="0.224" stop-color="#199bd2"/><stop offset="0.292" stop-color="#39a4cd"/><stop offset="0.397" stop-color="#7fb48e"/><stop offset="0.502" stop-color="#d4d152"/><stop offset="0.572" stop-color="#dcd618"/><stop offset="0.608" stop-color="#ded50f"/><stop offset="1.000" stop-color="#dfd40b"/></linearGradient><linearGradient id="st46" gradientUnits="userSpaceOnUse" x1="183.8" y1="366.9" x2="213.9" y2="394.4"><stop offset="0.000" stop-color="#1799d2"/><stop offset="0.191" stop-color="#1c9cd2"/><stop offset="0.259" stop-color="#3fa6ca"/><stop offset="0.467" stop-color="#d7d24a"/><stop offset="0.537" stop-color="#dcd614"/><stop offset="0.572" stop-color="#ded50e"/><stop offset="1.000" stop-color="#dfd40b"/></linearGradient><linearGradient id="st47" gradientUnits="userSpaceOnUse" x1="183.8" y1="369.2" x2="214.4" y2="396.8"><stop offset="0.000" stop-color="#1799d2"/><stop offset="0.126" stop-color="#199bd2"/><stop offset="0.192" stop-color="#35a3ce"/><stop offset="0.397" stop-color="#d0d056"/><stop offset="0.432" stop-color="#d9d438"/><stop offset="0.466" stop-color="#dcd61c"/><stop offset="0.536" stop-color="#ded40c"/><stop offset="1.000" stop-color="#dfd40b"/></linearGradient><linearGradient id="st48" gradientUnits="userSpaceOnUse" x1="183.8" y1="371.7" x2="215.0" y2="399.1"><stop offset="0.000" stop-color="#1799d2"/><stop offset="0.063" stop-color="#189ad2"/><stop offset="0.128" stop-color="#32a2ce"/><stop offset="0.329" stop-color="#cecf58"/><stop offset="0.363" stop-color="#d9d43a"/><stop offset="0.398" stop-color="#dbd51e"/><stop offset="0.467" stop-color="#ded40c"/><stop offset="1.000" stop-color="#dfd40b"/></linearGradient><linearGradient id="st49" gradientUnits="userSpaceOnUse" x1="183.8" y1="374.3" x2="215.9" y2="401.8"><stop offset="0.000" stop-color="#189ad2"/><stop offset="0.032" stop-color="#1f9dd1"/><stop offset="0.097" stop-color="#4aa9bf"/><stop offset="0.263" stop-color="#d4d153"/><stop offset="0.331" stop-color="#dcd618"/><stop offset="0.399" stop-color="#ded40b"/><stop offset="1.000" stop-color="#dfd40b"/></linearGradient><linearGradient id="st50" gradientUnits="userSpaceOnUse" x1="183.8" y1="377.2" x2="217.1" y2="404.7"><stop offset="0.000" stop-color="#33a2ce"/><stop offset="0.166" stop-color="#c3cb62"/><stop offset="0.200" stop-color="#d8d345"/><stop offset="0.233" stop-color="#dbd525"/><stop offset="0.267" stop-color="#ddd513"/><stop offset="0.334" stop-color="#dfd40b"/><stop offset="1.000" stop-color="#dfd40b"/></linearGradient><linearGradient id="st51" gradientUnits="userSpaceOnUse" x1="183.8" y1="380.3" x2="218.9" y2="407.8"><stop offset="0.000" stop-color="#6fb19c"/><stop offset="0.068" stop-color="#aec475"/><stop offset="0.103" stop-color="#d0d056"/><stop offset="0.171" stop-color="#dcd616"/><stop offset="0.205" stop-color="#ded50e"/><stop offset="1.000" stop-color="#dfd40b"/></linearGradient><linearGradient id="st52" gradientUnits="userSpaceOnUse" x1="183.8" y1="383.8" x2="221.0" y2="411.2"><stop offset="0.000" stop-color="#b1c572"/><stop offset="0.036" stop-color="#d6d251"/><stop offset="0.071" stop-color="#dad52a"/><stop offset="0.107" stop-color="#ddd513"/><stop offset="0.142" stop-color="#ded40c"/><stop offset="1.000" stop-color="#dfd40b"/></linearGradient><linearGradient id="st53" gradientUnits="userSpaceOnUse" x1="183.8" y1="387.7" x2="221.8" y2="412.6"><stop offset="0.000" stop-color="#dad433"/><stop offset="0.038" stop-color="#ddd614"/><stop offset="0.076" stop-color="#ded40c"/><stop offset="1.000" stop-color="#dfd40b"/></linearGradient><linearGradient id="st54" gradientUnits="userSpaceOnUse" x1="183.8" y1="392.1" x2="221.8" y2="412.6"><stop offset="0.000" stop-color="#ddd614"/><stop offset="0.084" stop-color="#dfd40b"/><stop offset="1.000" stop-color="#dfd40b"/></linearGradient><linearGradient id="cb6" x1="0" y1="1" x2="0" y2="0"><stop offset="0.0" stop-color="#1496d2"/><stop offset="0.125" stop-color="#199bd2"/><stop offset="0.25" stop-color="#3ca5cd"/><stop offset="0.375" stop-color="#64afa5"/><stop offset="0.5" stop-color="#82b48c"/><stop offset="0.625" stop-color="#aac378"/><stop offset="0.75" stop-color="#d7d250"/><stop offset="0.875" stop-color="#dcd616"/><stop offset="1.0" stop-color="#e1d200"/></linearGradient><linearGradient id="vn0" gradientUnits="userSpaceOnUse" x1="269.4" y1="309.4" x2="307.7" y2="412.0"><stop offset="0.000" stop-color="#dad430"/><stop offset="0.040" stop-color="#dad430"/><stop offset="0.058" stop-color="#d7d24c"/><stop offset="0.087" stop-color="#aec475"/><stop offset="0.156" stop-color="#68b0a2"/><stop offset="0.193" stop-color="#42a6c7"/><stop offset="0.245" stop-color="#189ad2"/><stop offset="1.000" stop-color="#1496d2"/></linearGradient><linearGradient id="vn1" gradientUnits="userSpaceOnUse" x1="269.4" y1="310.4" x2="297.3" y2="338.3"><stop offset="0.000" stop-color="#dad430"/><stop offset="0.184" stop-color="#dad430"/><stop offset="0.251" stop-color="#d7d24b"/><stop offset="0.356" stop-color="#afc574"/><stop offset="0.573" stop-color="#68b0a1"/><stop offset="0.715" stop-color="#36a3ce"/><stop offset="0.817" stop-color="#189ad2"/><stop offset="1.000" stop-color="#1496d2"/></linearGradient><linearGradient id="vn2" gradientUnits="userSpaceOnUse" x1="269.4" y1="311.4" x2="297.3" y2="339.2"><stop offset="0.000" stop-color="#dad430"/><stop offset="0.184" stop-color="#dad430"/><stop offset="0.252" stop-color="#d7d24b"/><stop offset="0.357" stop-color="#aec474"/><stop offset="0.573" stop-color="#68b0a1"/><stop offset="0.715" stop-color="#36a3ce"/><stop offset="0.817" stop-color="#189ad2"/><stop offset="1.000" stop-color="#1496d2"/></linearGradient><linearGradient id="vn3" gradientUnits="userSpaceOnUse" x1="269.4" y1="312.4" x2="297.3" y2="340.1"><stop offset="0.000" stop-color="#dad430"/><stop offset="0.185" stop-color="#dad430"/><stop offset="0.252" stop-color="#d7d24b"/><stop offset="0.357" stop-color="#aec474"/><stop offset="0.574" stop-color="#68b0a2"/><stop offset="0.716" stop-color="#36a3ce"/><stop offset="0.817" stop-color="#189ad2"/><stop offset="1.000" stop-color="#1496d2"/></linearGradient><linearGradient id="vn4" gradientUnits="userSpaceOnUse" x1="269.4" y1="313.4" x2="297.3" y2="341.0"><stop offset="0.000" stop-color="#dad430"/><stop offset="0.185" stop-color="#dad430"/><stop offset="0.253" stop-color="#d7d24c"/><stop offset="0.358" stop-color="#aec474"/><stop offset="0.574" stop-color="#68b0a2"/><stop offset="0.716" stop-color="#36a3ce"/><stop offset="0.818" stop-color="#189ad2"/><stop offset="1.000" stop-color="#1496d2"/></linearGradient><linearGradient id="vn5" gradientUnits="userSpaceOnUse" x1="269.4" y1="314.4" x2="297.3" y2="342.4"><stop offset="0.000" stop-color="#dad430"/><stop offset="0.183" stop-color="#dad430"/><stop offset="0.251" stop-color="#d7d24b"/><stop offset="0.356" stop-color="#afc574"/><stop offset="0.572" stop-color="#68b0a1"/><stop offset="0.714" stop-color="#36a3ce"/><stop offset="0.816" stop-color="#189ad2"/><stop offset="1.000" stop-color="#1496d2"/></linearGradient><linearGradient id="vn6" gradientUnits="userSpaceOnUse" x1="269.4" y1="315.4" x2="297.3" y2="343.2"><stop offset="0.000" stop-color="#dad430"/><stop offset="0.184" stop-color="#dad430"/><stop offset="0.252" stop-color="#d7d24b"/><stop offset="0.357" stop-color="#aec474"/><stop offset="0.573" stop-color="#68b0a1"/><stop offset="0.715" stop-color="#36a3ce"/><stop offset="0.817" stop-color="#189ad2"/><stop offset="1.000" stop-color="#1496d2"/></linearGradient><linearGradient id="vn7" gradientUnits="userSpaceOnUse" x1="269.4" y1="316.4" x2="297.3" y2="344.1"><stop offset="0.000" stop-color="#dad430"/><stop offset="0.185" stop-color="#dad430"/><stop offset="0.252" stop-color="#d7d24b"/><stop offset="0.358" stop-color="#aec474"/><stop offset="0.574" stop-color="#68b0a2"/><stop offset="0.716" stop-color="#36a3ce"/><stop offset="0.817" stop-color="#189ad2"/><stop offset="1.000" stop-color="#1496d2"/></linearGradient><linearGradient id="vn8" gradientUnits="userSpaceOnUse" x1="269.4" y1="317.4" x2="297.3" y2="345.0"><stop offset="0.000" stop-color="#dad430"/><stop offset="0.185" stop-color="#dad430"/><stop offset="0.253" stop-color="#d7d24c"/><stop offset="0.359" stop-color="#aec475"/><stop offset="0.575" stop-color="#68b0a2"/><stop offset="0.717" stop-color="#36a3ce"/><stop offset="0.818" stop-color="#189ad2"/><stop offset="1.000" stop-color="#1496d2"/></linearGradient><linearGradient id="vn9" gradientUnits="userSpaceOnUse" x1="269.4" y1="318.5" x2="297.4" y2="346.2"><stop offset="0.000" stop-color="#dad430"/><stop offset="0.184" stop-color="#dad430"/><stop offset="0.252" stop-color="#d7d24b"/><stop offset="0.357" stop-color="#aec474"/><stop offset="0.573" stop-color="#68b0a1"/><stop offset="0.715" stop-color="#36a3ce"/><stop offset="0.817" stop-color="#189ad2"/><stop offset="1.000" stop-color="#1496d2"/></linearGradient><linearGradient id="vn10" gradientUnits="userSpaceOnUse" x1="269.4" y1="319.5" x2="297.4" y2="347.1"><stop offset="0.000" stop-color="#dad430"/><stop offset="0.185" stop-color="#dad430"/><stop offset="0.253" stop-color="#d7d24c"/><stop offset="0.358" stop-color="#aec474"/><stop offset="0.574" stop-color="#68b0a2"/><stop offset="0.716" stop-color="#36a3ce"/><stop offset="0.817" stop-color="#189ad2"/><stop offset="1.000" stop-color="#1496d2"/></linearGradient><linearGradient id="vn11" gradientUnits="userSpaceOnUse" x1="269.4" y1="320.5" x2="297.4" y2="348.3"><stop offset="0.000" stop-color="#dad430"/><stop offset="0.184" stop-color="#dad430"/><stop offset="0.251" stop-color="#d7d24b"/><stop offset="0.356" stop-color="#afc574"/><stop offset="0.572" stop-color="#68b0a1"/><stop offset="0.714" stop-color="#36a3ce"/><stop offset="0.816" stop-color="#189ad2"/><stop offset="1.000" stop-color="#1496d2"/></linearGradient><linearGradient id="vn12" gradientUnits="userSpaceOnUse" x1="269.4" y1="321.5" x2="297.4" y2="349.1"><stop offset="0.000" stop-color="#dad430"/><stop offset="0.185" stop-color="#dad430"/><stop offset="0.253" stop-color="#d7d24b"/><stop offset="0.358" stop-color="#aec474"/><stop offset="0.574" stop-color="#68b0a2"/><stop offset="0.716" stop-color="#36a3ce"/><stop offset="0.817" stop-color="#189ad2"/><stop offset="1.000" stop-color="#1496d2"/></linearGradient><linearGradient id="vn13" gradientUnits="userSpaceOnUse" x1="269.4" y1="322.5" x2="297.4" y2="350.4"><stop offset="0.000" stop-color="#dad430"/><stop offset="0.184" stop-color="#dad430"/><stop offset="0.252" stop-color="#d7d24b"/><stop offset="0.356" stop-color="#afc574"/><stop offset="0.572" stop-color="#68b0a1"/><stop offset="0.714" stop-color="#36a3ce"/><stop offset="0.816" stop-color="#189ad2"/><stop offset="1.000" stop-color="#1496d2"/></linearGradient><linearGradient id="vn14" gradientUnits="userSpaceOnUse" x1="269.4" y1="323.5" x2="297.4" y2="351.1"><stop offset="0.000" stop-color="#dad430"/><stop offset="0.185" stop-color="#dad430"/><stop offset="0.253" stop-color="#d7d24c"/><stop offset="0.358" stop-color="#aec474"/><stop offset="0.574" stop-color="#68b0a2"/><stop offset="0.716" stop-color="#36a3ce"/><stop offset="0.817" stop-color="#189ad2"/><stop offset="1.000" stop-color="#1496d2"/></linearGradient><linearGradient id="vn15" gradientUnits="userSpaceOnUse" x1="269.4" y1="324.6" x2="297.4" y2="352.3"><stop offset="0.000" stop-color="#dad430"/><stop offset="0.184" stop-color="#dad430"/><stop offset="0.252" stop-color="#d7d24b"/><stop offset="0.357" stop-color="#aec474"/><stop offset="0.573" stop-color="#68b0a1"/><stop offset="0.715" stop-color="#36a3ce"/><stop offset="0.817" stop-color="#189ad2"/><stop offset="1.000" stop-color="#1496d2"/></linearGradient><linearGradient id="vn16" gradientUnits="userSpaceOnUse" x1="269.4" y1="325.6" x2="297.4" y2="353.1"><stop offset="0.000" stop-color="#dad430"/><stop offset="0.186" stop-color="#dad430"/><stop offset="0.254" stop-color="#d7d24c"/><stop offset="0.359" stop-color="#aec475"/><stop offset="0.575" stop-color="#68b0a2"/><stop offset="0.716" stop-color="#36a3ce"/><stop offset="0.818" stop-color="#189ad2"/><stop offset="1.000" stop-color="#1496d2"/></linearGradient><linearGradient id="vn17" gradientUnits="userSpaceOnUse" x1="269.4" y1="326.6" x2="297.4" y2="354.2"><stop offset="0.000" stop-color="#dad430"/><stop offset="0.185" stop-color="#dad430"/><stop offset="0.253" stop-color="#d7d24c"/><stop offset="0.358" stop-color="#aec474"/><stop offset="0.574" stop-color="#68b0a2"/><stop offset="0.716" stop-color="#36a3ce"/><stop offset="0.817" stop-color="#189ad2"/><stop offset="1.000" stop-color="#1496d2"/></linearGradient><linearGradient id="vn18" gradientUnits="userSpaceOnUse" x1="269.4" y1="327.7" x2="297.4" y2="355.4"><stop offset="0.000" stop-color="#dad430"/><stop offset="0.185" stop-color="#dad430"/><stop offset="0.252" stop-color="#d7d24b"/><stop offset="0.358" stop-color="#aec474"/><stop offset="0.573" stop-color="#68b0a2"/><stop offset="0.715" stop-color="#36a3ce"/><stop offset="0.817" stop-color="#189ad2"/><stop offset="1.000" stop-color="#1496d2"/></linearGradient><linearGradient id="vn19" gradientUnits="userSpaceOnUse" x1="269.4" y1="328.7" x2="297.4" y2="356.5"><stop offset="0.000" stop-color="#dad430"/><stop offset="0.185" stop-color="#dad430"/><stop offset="0.252" stop-color="#d7d24b"/><stop offset="0.357" stop-color="#aec474"/><stop offset="0.573" stop-color="#68b0a1"/><stop offset="0.715" stop-color="#36a3ce"/><stop offset="0.816" stop-color="#189ad2"/><stop offset="1.000" stop-color="#1496d2"/></linearGradient><linearGradient id="vn20" gradientUnits="userSpaceOnUse" x1="269.4" y1="329.8" x2="297.5" y2="357.6"><stop offset="0.000" stop-color="#dad430"/><stop offset="0.184" stop-color="#dad430"/><stop offset="0.252" stop-color="#d7d24b"/><stop offset="0.357" stop-color="#aec474"/><stop offset="0.573" stop-color="#68b0a1"/><stop offset="0.714" stop-color="#36a3ce"/><stop offset="0.816" stop-color="#189ad2"/><stop offset="1.000" stop-color="#1496d2"/></linearGradient><linearGradient id="vn21" gradientUnits="userSpaceOnUse" x1="269.4" y1="330.9" x2="297.5" y2="358.6"><stop offset="0.000" stop-color="#dad430"/><stop offset="0.185" stop-color="#dad430"/><stop offset="0.252" stop-color="#d7d24b"/><stop offset="0.357" stop-color="#aec474"/><stop offset="0.573" stop-color="#68b0a1"/><stop offset="0.714" stop-color="#36a3ce"/><stop offset="0.816" stop-color="#189ad2"/><stop offset="1.000" stop-color="#1496d2"/></linearGradient><linearGradient id="vn22" gradientUnits="userSpaceOnUse" x1="269.4" y1="331.9" x2="297.5" y2="359.7"><stop offset="0.000" stop-color="#dad430"/><stop offset="0.185" stop-color="#dad430"/><stop offset="0.252" stop-color="#d7d24b"/><stop offset="0.357" stop-color="#aec474"/><stop offset="0.573" stop-color="#68b0a1"/><stop offset="0.714" stop-color="#36a3ce"/><stop offset="0.816" stop-color="#189ad2"/><stop offset="1.000" stop-color="#1496d2"/></linearGradient><linearGradient id="vn23" gradientUnits="userSpaceOnUse" x1="269.4" y1="333.0" x2="297.5" y2="360.7"><stop offset="0.000" stop-color="#dad430"/><stop offset="0.185" stop-color="#dad430"/><stop offset="0.253" stop-color="#d7d24c"/><stop offset="0.358" stop-color="#aec474"/><stop offset="0.573" stop-color="#68b0a2"/><stop offset="0.715" stop-color="#36a3ce"/><stop offset="0.816" stop-color="#189ad2"/><stop offset="1.000" stop-color="#1496d2"/></linearGradient><linearGradient id="vn24" gradientUnits="userSpaceOnUse" x1="269.4" y1="334.1" x2="297.5" y2="361.8"><stop offset="0.000" stop-color="#dad430"/><stop offset="0.185" stop-color="#dad430"/><stop offset="0.253" stop-color="#d7d24c"/><stop offset="0.358" stop-color="#aec475"/><stop offset="0.574" stop-color="#68b0a2"/><stop offset="0.715" stop-color="#36a3ce"/><stop offset="0.817" stop-color="#189ad2"/><stop offset="1.000" stop-color="#1496d2"/></linearGradient><linearGradient id="vn25" gradientUnits="userSpaceOnUse" x1="269.4" y1="335.2" x2="297.6" y2="362.8"><stop offset="0.000" stop-color="#dad430"/><stop offset="0.186" stop-color="#dad430"/><stop offset="0.254" stop-color="#d7d24c"/><stop offset="0.359" stop-color="#aec475"/><stop offset="0.574" stop-color="#68b0a2"/><stop offset="0.716" stop-color="#36a3ce"/><stop offset="0.817" stop-color="#189ad2"/><stop offset="1.000" stop-color="#1496d2"/></linearGradient><linearGradient id="vn26" gradientUnits="userSpaceOnUse" x1="269.4" y1="336.4" x2="297.6" y2="364.1"><stop offset="0.000" stop-color="#dad430"/><stop offset="0.185" stop-color="#dad430"/><stop offset="0.253" stop-color="#d7d24c"/><stop offset="0.358" stop-color="#aec474"/><stop offset="0.573" stop-color="#68b0a2"/><stop offset="0.715" stop-color="#36a3ce"/><stop offset="0.816" stop-color="#189ad2"/><stop offset="1.000" stop-color="#1496d2"/></linearGradient><linearGradient id="vn27" gradientUnits="userSpaceOnUse" x1="269.4" y1="337.5" x2="297.6" y2="365.0"><stop offset="0.000" stop-color="#dad430"/><stop offset="0.186" stop-color="#dad430"/><stop offset="0.254" stop-color="#d7d24c"/><stop offset="0.359" stop-color="#aec475"/><stop offset="0.574" stop-color="#68b0a2"/><stop offset="0.716" stop-color="#36a3ce"/><stop offset="0.817" stop-color="#189ad2"/><stop offset="1.000" stop-color="#1496d2"/></linearGradient><linearGradient id="vn28" gradientUnits="userSpaceOnUse" x1="269.4" y1="338.7" x2="297.6" y2="366.3"><stop offset="0.000" stop-color="#dad430"/><stop offset="0.186" stop-color="#dad430"/><stop offset="0.254" stop-color="#d7d24c"/><stop offset="0.358" stop-color="#aec475"/><stop offset="0.574" stop-color="#68b0a2"/><stop offset="0.715" stop-color="#36a3ce"/><stop offset="0.817" stop-color="#189ad2"/><stop offset="1.000" stop-color="#1496d2"/></linearGradient><linearGradient id="vn29" gradientUnits="userSpaceOnUse" x1="269.4" y1="339.9" x2="297.7" y2="367.5"><stop offset="0.000" stop-color="#dad430"/><stop offset="0.186" stop-color="#dad430"/><stop offset="0.253" stop-color="#d7d24c"/><stop offset="0.358" stop-color="#aec475"/><stop offset="0.573" stop-color="#68b0a2"/><stop offset="0.715" stop-color="#36a3ce"/><stop offset="0.816" stop-color="#189ad2"/><stop offset="1.000" stop-color="#1496d2"/></linearGradient><linearGradient id="vn30" gradientUnits="userSpaceOnUse" x1="269.4" y1="341.1" x2="297.7" y2="368.7"><stop offset="0.000" stop-color="#dad430"/><stop offset="0.186" stop-color="#dad430"/><stop offset="0.253" stop-color="#d7d24c"/><stop offset="0.358" stop-color="#aec475"/><stop offset="0.573" stop-color="#68b0a2"/><stop offset="0.715" stop-color="#36a3ce"/><stop offset="0.816" stop-color="#189ad2"/><stop offset="1.000" stop-color="#1496d2"/></linearGradient><linearGradient id="vn31" gradientUnits="userSpaceOnUse" x1="269.4" y1="342.3" x2="297.8" y2="369.9"><stop offset="0.000" stop-color="#dad430"/><stop offset="0.186" stop-color="#dad430"/><stop offset="0.254" stop-color="#d7d24c"/><stop offset="0.359" stop-color="#aec475"/><stop offset="0.574" stop-color="#68b0a2"/><stop offset="0.715" stop-color="#36a3ce"/><stop offset="0.816" stop-color="#189ad2"/><stop offset="1.000" stop-color="#1496d2"/></linearGradient><linearGradient id="vn32" gradientUnits="userSpaceOnUse" x1="269.4" y1="343.6" x2="297.8" y2="371.1"><stop offset="0.000" stop-color="#dad430"/><stop offset="0.187" stop-color="#dad430"/><stop offset="0.255" stop-color="#d7d24d"/><stop offset="0.360" stop-color="#adc475"/><stop offset="0.575" stop-color="#68b0a2"/><stop offset="0.716" stop-color="#36a3ce"/><stop offset="0.817" stop-color="#189ad2"/><stop offset="1.000" stop-color="#1496d2"/></linearGradient><linearGradient id="vn33" gradientUnits="userSpaceOnUse" x1="269.4" y1="344.8" x2="297.9" y2="372.5"><stop offset="0.000" stop-color="#dad430"/><stop offset="0.186" stop-color="#dad430"/><stop offset="0.254" stop-color="#d7d24c"/><stop offset="0.359" stop-color="#aec475"/><stop offset="0.574" stop-color="#68b0a2"/><stop offset="0.715" stop-color="#36a3ce"/><stop offset="0.816" stop-color="#189ad2"/><stop offset="1.000" stop-color="#1496d2"/></linearGradient><linearGradient id="vn34" gradientUnits="userSpaceOnUse" x1="269.4" y1="346.2" x2="297.9" y2="373.8"><stop offset="0.000" stop-color="#dad430"/><stop offset="0.186" stop-color="#dad430"/><stop offset="0.254" stop-color="#d7d24c"/><stop offset="0.359" stop-color="#aec475"/><stop offset="0.574" stop-color="#68b0a2"/><stop offset="0.715" stop-color="#36a3ce"/><stop offset="0.816" stop-color="#189ad2"/><stop offset="1.000" stop-color="#1496d2"/></linearGradient><linearGradient id="vn35" gradientUnits="userSpaceOnUse" x1="269.4" y1="347.5" x2="298.0" y2="375.1"><stop offset="0.000" stop-color="#dad430"/><stop offset="0.187" stop-color="#dad430"/><stop offset="0.255" stop-color="#d7d24c"/><stop offset="0.359" stop-color="#adc475"/><stop offset="0.574" stop-color="#68b0a2"/><stop offset="0.715" stop-color="#36a3ce"/><stop offset="0.816" stop-color="#189ad2"/><stop offset="1.000" stop-color="#1496d2"/></linearGradient><linearGradient id="vn36" gradientUnits="userSpaceOnUse" x1="269.4" y1="348.9" x2="298.1" y2="376.6"><stop offset="0.000" stop-color="#dad430"/><stop offset="0.186" stop-color="#dad430"/><stop offset="0.254" stop-color="#d7d24c"/><stop offset="0.359" stop-color="#aec474"/><stop offset="0.573" stop-color="#69b0a1"/><stop offset="0.714" stop-color="#37a4ce"/><stop offset="0.815" stop-color="#189ad2"/><stop offset="1.000" stop-color="#1496d2"/></linearGradient><linearGradient id="vn37" gradientUnits="userSpaceOnUse" x1="269.4" y1="350.3" x2="298.1" y2="377.9"><stop offset="0.000" stop-color="#dad430"/><stop offset="0.188" stop-color="#dad430"/><stop offset="0.255" stop-color="#d7d24d"/><stop offset="0.360" stop-color="#aec474"/><stop offset="0.574" stop-color="#69b0a1"/><stop offset="0.715" stop-color="#38a4ce"/><stop offset="0.816" stop-color="#199bd2"/><stop offset="1.000" stop-color="#1496d2"/></linearGradient><linearGradient id="vn38" gradientUnits="userSpaceOnUse" x1="269.4" y1="351.8" x2="298.2" y2="379.5"><stop offset="0.000" stop-color="#dad430"/><stop offset="0.187" stop-color="#dad430"/><stop offset="0.255" stop-color="#d7d24c"/><stop offset="0.359" stop-color="#afc573"/><stop offset="0.609" stop-color="#60aea9"/><stop offset="0.714" stop-color="#3aa4cd"/><stop offset="0.815" stop-color="#199bd2"/><stop offset="1.000" stop-color="#1597d2"/></linearGradient><linearGradient id="vn39" gradientUnits="userSpaceOnUse" x1="269.4" y1="353.4" x2="298.3" y2="380.9"><stop offset="0.000" stop-color="#dad430"/><stop offset="0.188" stop-color="#dad430"/><stop offset="0.256" stop-color="#d7d24c"/><stop offset="0.361" stop-color="#b0c573"/><stop offset="0.575" stop-color="#6cb09e"/><stop offset="0.715" stop-color="#3da5cc"/><stop offset="0.816" stop-color="#1b9cd2"/><stop offset="1.000" stop-color="#1597d2"/></linearGradient><linearGradient id="vn40" gradientUnits="userSpaceOnUse" x1="269.4" y1="355.0" x2="298.4" y2="382.6"><stop offset="0.000" stop-color="#dad430"/><stop offset="0.188" stop-color="#dad430"/><stop offset="0.256" stop-color="#d7d24b"/><stop offset="0.360" stop-color="#b1c572"/><stop offset="0.609" stop-color="#65afa4"/><stop offset="0.714" stop-color="#41a6c8"/><stop offset="0.848" stop-color="#189ad2"/><stop offset="1.000" stop-color="#1698d2"/></linearGradient><linearGradient id="vn41" gradientUnits="userSpaceOnUse" x1="269.4" y1="356.6" x2="298.6" y2="384.3"><stop offset="0.000" stop-color="#dad430"/><stop offset="0.188" stop-color="#dad430"/><stop offset="0.256" stop-color="#d7d24b"/><stop offset="0.396" stop-color="#a6c17a"/><stop offset="0.609" stop-color="#68b0a2"/><stop offset="0.748" stop-color="#39a4cd"/><stop offset="0.847" stop-color="#1a9bd2"/><stop offset="1.000" stop-color="#1799d2"/></linearGradient><linearGradient id="vn42" gradientUnits="userSpaceOnUse" x1="269.4" y1="358.4" x2="298.7" y2="386.0"><stop offset="0.000" stop-color="#dad430"/><stop offset="0.189" stop-color="#dad430"/><stop offset="0.256" stop-color="#d8d24a"/><stop offset="0.396" stop-color="#a8c279"/><stop offset="0.609" stop-color="#6bb09f"/><stop offset="0.747" stop-color="#3fa6ca"/><stop offset="0.879" stop-color="#189ad2"/><stop offset="1.000" stop-color="#189ad2"/></linearGradient><linearGradient id="vn43" gradientUnits="userSpaceOnUse" x1="269.4" y1="360.2" x2="298.9" y2="387.7"><stop offset="0.000" stop-color="#dad430"/><stop offset="0.190" stop-color="#dad430"/><stop offset="0.258" stop-color="#d8d24a"/><stop offset="0.397" stop-color="#aac378"/><stop offset="0.645" stop-color="#66afa4"/><stop offset="0.782" stop-color="#3aa4cd"/><stop offset="0.879" stop-color="#1c9cd2"/><stop offset="1.000" stop-color="#199bd2"/></linearGradient><linearGradient id="vn44" gradientUnits="userSpaceOnUse" x1="269.4" y1="362.1" x2="299.2" y2="389.7"><stop offset="0.000" stop-color="#dad430"/><stop offset="0.190" stop-color="#dad430"/><stop offset="0.258" stop-color="#d8d349"/><stop offset="0.397" stop-color="#adc476"/><stop offset="0.678" stop-color="#62aea7"/><stop offset="0.813" stop-color="#37a4ce"/><stop offset="0.910" stop-color="#209dd1"/><stop offset="1.000" stop-color="#209dd1"/></linearGradient><linearGradient id="vn45" gradientUnits="userSpaceOnUse" x1="269.4" y1="364.1" x2="299.4" y2="391.6"><stop offset="0.000" stop-color="#dad430"/><stop offset="0.191" stop-color="#dad430"/><stop offset="0.293" stop-color="#d2d055"/><stop offset="0.398" stop-color="#b0c573"/><stop offset="0.678" stop-color="#68b0a2"/><stop offset="0.813" stop-color="#40a6c9"/><stop offset="0.909" stop-color="#29a0d0"/><stop offset="1.000" stop-color="#29a0d0"/></linearGradient><linearGradient id="vn46" gradientUnits="userSpaceOnUse" x1="269.4" y1="366.3" x2="299.8" y2="393.8"><stop offset="0.000" stop-color="#dad430"/><stop offset="0.192" stop-color="#dad430"/><stop offset="0.294" stop-color="#d3d153"/><stop offset="0.433" stop-color="#a9c379"/><stop offset="0.711" stop-color="#66afa3"/><stop offset="0.877" stop-color="#37a4ce"/><stop offset="1.000" stop-color="#33a3ce"/></linearGradient><linearGradient id="vn47" gradientUnits="userSpaceOnUse" x1="269.4" y1="368.6" x2="300.3" y2="396.1"><stop offset="0.000" stop-color="#dad430"/><stop offset="0.193" stop-color="#dad430"/><stop offset="0.295" stop-color="#d5d152"/><stop offset="0.433" stop-color="#adc475"/><stop offset="0.744" stop-color="#67afa3"/><stop offset="0.875" stop-color="#43a7c6"/><stop offset="1.000" stop-color="#3fa6ca"/></linearGradient><linearGradient id="vn48" gradientUnits="userSpaceOnUse" x1="269.4" y1="371.0" x2="300.9" y2="398.5"><stop offset="0.000" stop-color="#dad430"/><stop offset="0.195" stop-color="#dad430"/><stop offset="0.296" stop-color="#d7d250"/><stop offset="0.468" stop-color="#a9c378"/><stop offset="0.775" stop-color="#68b0a1"/><stop offset="0.874" stop-color="#51aab8"/><stop offset="1.000" stop-color="#4da9bc"/></linearGradient><linearGradient id="vn49" gradientUnits="userSpaceOnUse" x1="269.4" y1="373.7" x2="301.8" y2="401.2"><stop offset="0.000" stop-color="#dad430"/><stop offset="0.197" stop-color="#dad430"/><stop offset="0.298" stop-color="#d7d24e"/><stop offset="0.503" stop-color="#a7c279"/><stop offset="0.872" stop-color="#5faeaa"/><stop offset="1.000" stop-color="#5cadad"/></linearGradient><linearGradient id="vn50" gradientUnits="userSpaceOnUse" x1="269.4" y1="376.5" x2="303.0" y2="404.0"><stop offset="0.000" stop-color="#dad430"/><stop offset="0.200" stop-color="#dad430"/><stop offset="0.302" stop-color="#d7d24c"/><stop offset="0.505" stop-color="#aec475"/><stop offset="0.739" stop-color="#7fb48e"/><stop offset="0.871" stop-color="#6bb09f"/><stop offset="1.000" stop-color="#69b0a1"/></linearGradient><linearGradient id="vn51" gradientUnits="userSpaceOnUse" x1="269.4" y1="379.7" x2="304.8" y2="407.2"><stop offset="0.000" stop-color="#dad430"/><stop offset="0.206" stop-color="#dad430"/><stop offset="0.342" stop-color="#d5d152"/><stop offset="0.577" stop-color="#a7c27a"/><stop offset="0.775" stop-color="#83b58b"/><stop offset="0.968" stop-color="#6fb19c"/><stop offset="1.000" stop-color="#48a8c1"/></linearGradient><linearGradient id="vn52" gradientUnits="userSpaceOnUse" x1="269.4" y1="383.2" x2="306.9" y2="410.7"><stop offset="0.000" stop-color="#dad430"/><stop offset="0.213" stop-color="#dad431"/><stop offset="0.351" stop-color="#d7d250"/><stop offset="0.621" stop-color="#a8c279"/><stop offset="0.877" stop-color="#7fb48e"/><stop offset="0.908" stop-color="#6cb09e"/><stop offset="0.939" stop-color="#34a3ce"/><stop offset="0.970" stop-color="#1496d2"/><stop offset="1.000" stop-color="#1496d2"/></linearGradient><linearGradient id="vn53" gradientUnits="userSpaceOnUse" x1="269.4" y1="387.1" x2="307.7" y2="412.0"><stop offset="0.000" stop-color="#dad430"/><stop offset="0.226" stop-color="#dad433"/><stop offset="0.369" stop-color="#d7d250"/><stop offset="0.637" stop-color="#acc476"/><stop offset="0.854" stop-color="#8cb887"/><stop offset="0.884" stop-color="#71b19a"/><stop offset="0.913" stop-color="#39a4cd"/><stop offset="0.943" stop-color="#1597d2"/><stop offset="1.000" stop-color="#1496d2"/></linearGradient><linearGradient id="vn54" gradientUnits="userSpaceOnUse" x1="269.4" y1="391.5" x2="307.7" y2="412.0"><stop offset="0.000" stop-color="#dad430"/><stop offset="0.206" stop-color="#dad430"/><stop offset="0.394" stop-color="#d4d152"/><stop offset="0.840" stop-color="#92ba84"/><stop offset="0.868" stop-color="#86b58a"/><stop offset="0.895" stop-color="#63afa6"/><stop offset="0.922" stop-color="#29a0d0"/><stop offset="0.948" stop-color="#1496d2"/><stop offset="1.000" stop-color="#1496d2"/></linearGradient><linearGradient id="cb7" x1="0" y1="1" x2="0" y2="0"><stop offset="0.0" stop-color="#1496d2"/><stop offset="0.125" stop-color="#199bd2"/><stop offset="0.25" stop-color="#3ca5cd"/><stop offset="0.375" stop-color="#64afa5"/><stop offset="0.5" stop-color="#82b48c"/><stop offset="0.625" stop-color="#aac378"/><stop offset="0.75" stop-color="#d7d250"/><stop offset="0.875" stop-color="#dcd616"/><stop offset="1.0" stop-color="#e1d200"/></linearGradient></defs>
<rect width="350" height="424" fill="#fff"/>
<text x="0.5" y="12.9" font-size="14.2" text-anchor="start" fill="#111"  style="">A</text>
<text x="53.6" y="25.8" font-size="12.3" text-anchor="middle" fill="#222"  style="">Shape</text>
<text x="173.8" y="25.7" font-size="12.3" text-anchor="middle" fill="#222"  style="">Mechanics</text>
<text x="291.8" y="25.7" font-size="12.3" text-anchor="middle" fill="#222"  style="">Deformation</text>
<path d="M10.0,81.0 A39.8,41.8 0 0 1 89.6,81.0 L89.6,121.0 A39.8,17.8 0 0 1 10.0,121.0 Z" fill="#c3d2e5"/>
<ellipse cx="49.8" cy="121.0" rx="39.599999999999994" ry="17.8" fill="#dfe6ef"/>
<path d="M89.59 80.5V121.5M89.48 79.6V122.4M89.26 78.7V123.3M88.93 77.8V124.2M88.50 76.8V125.2M87.96 75.9V126.1M87.32 75.1V126.9M86.57 74.2V127.8M85.72 73.3V128.7M84.78 72.5V129.5M83.74 71.7V130.3M82.60 70.9V131.1M81.38 70.2V131.8M80.06 69.4V132.6M78.67 68.7V133.3M77.20 68.1V133.9M75.65 67.5V134.5M74.03 66.9V135.1M72.34 66.3V135.7M70.60 65.8V136.2M68.79 65.4V136.6M66.93 64.9V137.1M65.03 64.6V137.4M63.09 64.2V137.8M61.10 63.9V138.1M59.09 63.7V138.3M57.05 63.5V138.5M54.99 63.4V138.6M52.92 63.3V138.7M50.84 63.2V138.8M48.76 63.2V138.8M46.68 63.3V138.7M44.61 63.4V138.6M42.55 63.5V138.5M40.51 63.7V138.3M38.50 63.9V138.1M36.51 64.2V137.8M34.57 64.6V137.4M32.67 64.9V137.1M30.81 65.4V136.6M29.00 65.8V136.2M27.26 66.3V135.7M25.57 66.9V135.1M23.95 67.5V134.5M22.40 68.1V133.9M20.93 68.7V133.3M19.54 69.4V132.6M18.22 70.2V131.8M17.00 70.9V131.1M15.86 71.7V130.3M14.82 72.5V129.5M13.88 73.3V128.7M13.03 74.2V127.8M12.28 75.1V126.9M11.64 75.9V126.1M11.10 76.8V125.2M10.67 77.8V124.2M10.34 78.7V123.3M10.12 79.6V122.4M10.01 80.5V121.5M89.5 81.9L88.8 74.5L86.5 67.4L82.8 60.8L77.9 54.9L71.9 50.1L65.0 46.4L57.6 44.1L49.8 43.2M89.1 83.8L88.4 76.4L86.1 69.1L82.5 62.3L77.6 56.2L71.6 51.1L64.8 47.1L57.5 44.4L49.8 43.2M88.2 85.6L87.5 78.1L85.3 70.8L81.8 63.8L77.0 57.5L71.2 52.1L64.5 47.8L57.3 44.8L49.8 43.2M87.0 87.4L86.2 79.9L84.1 72.4L80.7 65.3L76.1 58.8L70.4 53.1L64.0 48.5L57.0 45.2L49.8 43.2M85.3 89.1L84.6 81.5L82.6 74.0L79.3 66.7L74.9 60.0L69.5 54.0L63.4 49.2L56.7 45.5L49.8 43.2M83.2 90.7L82.5 83.1L80.6 75.5L77.6 68.0L73.4 61.1L68.3 54.9L62.6 49.8L56.3 45.8L49.8 43.2M80.7 92.2L80.1 84.6L78.4 76.9L75.5 69.3L71.7 62.2L67.0 55.8L61.6 50.3L55.8 46.1L49.8 43.2M77.9 93.6L77.4 86.0L75.8 78.2L73.2 70.5L69.7 63.2L65.4 56.5L60.6 50.9L55.3 46.4L49.8 43.2M74.8 94.8L74.4 87.2L72.9 79.3L70.6 71.5L67.5 64.0L63.7 57.2L59.4 51.4L54.7 46.6L49.8 43.2M71.5 95.9L71.1 88.3L69.8 80.3L67.8 72.4L65.1 64.8L61.8 57.8L58.1 51.8L54.0 46.8L49.8 43.2M67.9 96.9L67.5 89.2L66.5 81.2L64.8 73.2L62.6 65.5L59.8 58.4L56.7 52.1L53.3 47.0L49.8 43.2M64.1 97.6L63.8 89.9L63.0 81.9L61.7 73.8L59.9 66.0L57.7 58.8L55.3 52.4L52.6 47.1L49.8 43.2M60.1 98.2L59.9 90.5L59.3 82.4L58.4 74.3L57.1 66.4L55.5 59.1L53.7 52.6L51.8 47.3L49.8 43.2M56.0 98.6L55.9 90.9L55.6 82.8L55.0 74.6L54.2 66.7L53.3 59.3L52.2 52.8L51.0 47.3L49.8 43.2M51.9 98.8L51.8 91.1L51.7 82.9L51.5 74.8L51.3 66.8L51.0 59.4L50.6 52.9L50.2 47.4L49.8 43.2M47.7 98.8L47.8 91.1L47.9 82.9L48.1 74.8L48.3 66.8L48.6 59.4L49.0 52.9L49.4 47.4L49.8 43.2M43.6 98.6L43.7 90.9L44.0 82.8L44.6 74.6L45.4 66.7L46.3 59.3L47.4 52.8L48.6 47.3L49.8 43.2M39.5 98.2L39.7 90.5L40.3 82.4L41.2 74.3L42.5 66.4L44.1 59.1L45.9 52.6L47.8 47.3L49.8 43.2M35.5 97.6L35.8 89.9L36.6 81.9L37.9 73.8L39.7 66.0L41.9 58.8L44.3 52.4L47.0 47.1L49.8 43.2M31.7 96.9L32.1 89.2L33.1 81.2L34.8 73.2L37.0 65.5L39.8 58.4L42.9 52.1L46.3 47.0L49.8 43.2M28.1 95.9L28.5 88.3L29.8 80.3L31.8 72.4L34.5 64.8L37.8 57.8L41.5 51.8L45.6 46.8L49.8 43.2M24.8 94.8L25.2 87.2L26.7 79.3L29.0 71.5L32.1 64.0L35.9 57.2L40.2 51.4L44.9 46.6L49.8 43.2M21.7 93.6L22.2 86.0L23.8 78.2L26.4 70.5L29.9 63.2L34.2 56.5L39.0 50.9L44.3 46.4L49.8 43.2M18.9 92.2L19.5 84.6L21.2 76.9L24.1 69.3L27.9 62.2L32.6 55.8L38.0 50.3L43.8 46.1L49.8 43.2M16.4 90.7L17.1 83.1L19.0 75.5L22.0 68.0L26.2 61.1L31.3 54.9L37.0 49.8L43.3 45.8L49.8 43.2M14.3 89.1L15.0 81.5L17.0 74.0L20.3 66.7L24.7 60.0L30.1 54.0L36.2 49.2L42.9 45.5L49.8 43.2M12.6 87.4L13.4 79.9L15.5 72.4L18.9 65.3L23.5 58.8L29.2 53.1L35.6 48.5L42.6 45.2L49.8 43.2M11.4 85.6L12.1 78.1L14.3 70.8L17.8 63.8L22.6 57.5L28.4 52.1L35.1 47.8L42.3 44.8L49.8 43.2M10.5 83.8L11.2 76.4L13.5 69.1L17.1 62.3L22.0 56.2L28.0 51.1L34.8 47.1L42.1 44.4L49.8 43.2M10.1 81.9L10.8 74.5L13.1 67.4L16.8 60.8L21.7 54.9L27.7 50.1L34.6 46.4L42.0 44.1L49.8 43.2M10.1 80.1L10.8 72.7L13.1 65.7L16.8 59.2L21.7 53.6L27.7 49.0L34.6 45.7L42.0 43.7L49.8 43.2M10.5 78.2L11.2 70.9L13.5 64.0L17.1 57.7L22.0 52.3L28.0 48.0L34.8 45.0L42.1 43.4L49.8 43.2M11.4 76.4L12.1 69.1L14.3 62.3L17.8 56.2L22.6 51.0L28.4 47.0L35.1 44.3L42.3 43.0L49.8 43.2M12.6 74.6L13.4 67.4L15.5 60.6L18.9 54.7L23.5 49.7L29.2 46.0L35.6 43.6L42.6 42.7L49.8 43.2M14.3 72.9L15.0 65.7L17.0 59.1L20.3 53.3L24.7 48.5L30.1 45.1L36.2 43.0L42.9 42.3L49.8 43.2M16.4 71.3L17.1 64.1L19.0 57.6L22.0 51.9L26.2 47.4L31.3 44.2L37.0 42.3L43.3 42.0L49.8 43.2M18.9 69.8L19.5 62.6L21.2 56.2L24.1 50.7L27.9 46.3L32.6 43.3L38.0 41.8L43.8 41.7L49.8 43.2M21.7 68.4L22.2 61.3L23.8 54.9L26.4 49.5L29.9 45.4L34.2 42.6L39.0 41.2L44.3 41.5L49.8 43.2M24.8 67.2L25.2 60.1L26.7 53.7L29.0 48.5L32.1 44.5L35.9 41.9L40.2 40.8L44.9 41.2L49.8 43.2M28.1 66.1L28.5 59.0L29.8 52.7L31.8 47.6L34.5 43.7L37.8 41.3L41.5 40.3L45.6 41.0L49.8 43.2M31.7 65.1L32.1 58.1L33.1 51.9L34.8 46.8L37.0 43.0L39.8 40.7L42.9 40.0L46.3 40.8L49.8 43.2M35.5 64.4L35.8 57.3L36.6 51.2L37.9 46.2L39.7 42.5L41.9 40.3L44.3 39.7L47.0 40.7L49.8 43.2M39.5 63.8L39.7 56.8L40.3 50.6L41.2 45.7L42.5 42.1L44.1 40.0L45.9 39.5L47.8 40.6L49.8 43.2M43.6 63.4L43.7 56.4L44.0 50.3L44.6 45.4L45.4 41.8L46.3 39.8L47.4 39.3L48.6 40.5L49.8 43.2M47.7 63.2L47.8 56.2L47.9 50.1L48.1 45.2L48.3 41.7L48.6 39.7L49.0 39.3L49.4 40.4L49.8 43.2M51.9 63.2L51.8 56.2L51.7 50.1L51.5 45.2L51.3 41.7L51.0 39.7L50.6 39.3L50.2 40.4L49.8 43.2M56.0 63.4L55.9 56.4L55.6 50.3L55.0 45.4L54.2 41.8L53.3 39.8L52.2 39.3L51.0 40.5L49.8 43.2M60.1 63.8L59.9 56.8L59.3 50.6L58.4 45.7L57.1 42.1L55.5 40.0L53.7 39.5L51.8 40.6L49.8 43.2M64.1 64.4L63.8 57.3L63.0 51.2L61.7 46.2L59.9 42.5L57.7 40.3L55.3 39.7L52.6 40.7L49.8 43.2M67.9 65.1L67.5 58.1L66.5 51.9L64.8 46.8L62.6 43.0L59.8 40.7L56.7 40.0L53.3 40.8L49.8 43.2M71.5 66.1L71.1 59.0L69.8 52.7L67.8 47.6L65.1 43.7L61.8 41.3L58.1 40.3L54.0 41.0L49.8 43.2M74.8 67.2L74.4 60.1L72.9 53.7L70.6 48.5L67.5 44.5L63.7 41.9L59.4 40.8L54.7 41.2L49.8 43.2M77.9 68.4L77.4 61.3L75.8 54.9L73.2 49.5L69.7 45.4L65.4 42.6L60.6 41.2L55.3 41.5L49.8 43.2M80.7 69.8L80.1 62.6L78.4 56.2L75.5 50.7L71.7 46.3L67.0 43.3L61.6 41.8L55.8 41.7L49.8 43.2M83.2 71.3L82.5 64.1L80.6 57.6L77.6 51.9L73.4 47.4L68.3 44.2L62.6 42.3L56.3 42.0L49.8 43.2M85.3 72.9L84.6 65.7L82.6 59.1L79.3 53.3L74.9 48.5L69.5 45.1L63.4 43.0L56.7 42.3L49.8 43.2M87.0 74.6L86.2 67.4L84.1 60.6L80.7 54.7L76.1 49.7L70.4 46.0L64.0 43.6L57.0 42.7L49.8 43.2M88.2 76.4L87.5 69.1L85.3 62.3L81.8 56.2L77.0 51.0L71.2 47.0L64.5 44.3L57.3 43.0L49.8 43.2M89.1 78.2L88.4 70.9L86.1 64.0L82.5 57.7L77.6 52.3L71.6 48.0L64.8 45.0L57.5 43.4L49.8 43.2M89.5 80.1L88.8 72.7L86.5 65.7L82.8 59.2L77.9 53.6L71.9 49.0L65.0 45.7L57.6 43.7L49.8 43.2M10.3 76.4A39.5 17.7 0 1 0 89.3 76.4A39.5 17.7 0 1 0 10.3 76.4M11.2 71.9A38.6 17.3 0 1 0 88.4 71.9A38.6 17.3 0 1 0 11.2 71.9M12.6 67.6A37.2 16.6 0 1 0 87.0 67.6A37.2 16.6 0 1 0 12.6 67.6M14.6 63.4A35.2 15.8 0 1 0 85.0 63.4A35.2 15.8 0 1 0 14.6 63.4M17.0 59.5A32.8 14.6 0 1 0 82.6 59.5A32.8 14.6 0 1 0 17.0 59.5M20.0 55.9A29.8 13.3 0 1 0 79.6 55.9A29.8 13.3 0 1 0 20.0 55.9M23.4 52.7A26.4 11.8 0 1 0 76.2 52.7A26.4 11.8 0 1 0 23.4 52.7M27.2 49.9A22.6 10.1 0 1 0 72.4 49.9A22.6 10.1 0 1 0 27.2 49.9M31.3 47.5A18.5 8.3 0 1 0 68.3 47.5A18.5 8.3 0 1 0 31.3 47.5M35.7 45.6A14.1 6.3 0 1 0 63.9 45.6A14.1 6.3 0 1 0 35.7 45.6M40.3 44.3A9.5 4.3 0 1 0 59.3 44.3A9.5 4.3 0 1 0 40.3 44.3M45.0 43.5A4.8 2.1 0 1 0 54.6 43.5A4.8 2.1 0 1 0 45.0 43.5" fill="none" stroke="#6a88ad" stroke-width="0.3" opacity="0.3" clip-path="url(#cp1)"/>
<path d="M10.0,81.0 A39.8,41.8 0 0 1 89.6,81.0 L89.6,121.0 A39.8,17.8 0 0 1 10.0,121.0 Z" fill="none" stroke="#8aa3c0" stroke-width="0.5"/>
<path d="M10.2,81.0 A39.6,19.9 0 0 1 89.4,81.0" fill="none" stroke="#15192a" stroke-width="1.0" stroke-dasharray="2.4,1.4"/>
<path d="M10.2,81.0 A39.6,19.9 0 0 0 89.4,81.0" fill="none" stroke="#15192a" stroke-width="1.0"/>
<path d="M49.8,40.0 C40,40.0 31,41.8 25,46.5 C19,51.5 14.5,57 14,63 L14,113" fill="none" stroke="#15192a" stroke-width="1.0" stroke-dasharray="2.4,1.4"/>
<path d="M50,40 C61,40.5 71,48 77,58 C82,67 84.7,78 84.7,90.4 L84.7,128.6" fill="none" stroke="#15192a" stroke-width="1.05"/>
<path d="M16.8,48.4 L30.4,51.6" fill="none" stroke="#15192a" stroke-width="1.0"/>
<path d="M22.5,49.8 L29,51.3" fill="none" stroke="#1f3050" stroke-width="1.7"/>
<text x="21.2" y="47.5" font-size="9.2" font-style="italic" fill="#15192a">δ</text>
<text x="66.8" y="53.3" font-size="9.6" font-style="italic" fill="#15192a">κ<tspan font-size="7" dy="1.1">s</tspan></text>
<text x="55.9" y="97.7" font-size="9.6" font-style="italic" fill="#15192a">κ<tspan font-size="6.5" dy="1.1">θ</tspan></text>
<path d="M126.5,81.6 A39.0,41.3 0 0 1 204.5,81.6 L204.5,118.8 A39.0,18.8 0 0 1 126.5,118.8 Z" fill="#c3d2e5"/>
<ellipse cx="165.5" cy="118.8" rx="38.8" ry="18.8" fill="#dfe6ef"/>
<path d="M204.49 81.1V119.3M204.38 80.1V120.3M204.17 79.1V121.3M203.85 78.2V122.2M203.42 77.2V123.2M202.89 76.3V124.1M202.26 75.3V125.1M201.53 74.4V126.0M200.70 73.5V126.9M199.77 72.6V127.8M198.75 71.8V128.6M197.64 71.0V129.4M196.44 70.2V130.2M195.16 69.4V131.0M193.79 68.7V131.7M192.35 68.0V132.4M190.83 67.3V133.1M189.24 66.7V133.7M187.59 66.1V134.3M185.88 65.6V134.8M184.11 65.1V135.3M182.29 64.6V135.8M180.42 64.2V136.2M178.52 63.9V136.5M176.58 63.6V136.8M174.60 63.3V137.1M172.61 63.1V137.3M170.59 63.0V137.4M168.56 62.9V137.5M166.52 62.8V137.6M164.48 62.8V137.6M162.44 62.9V137.5M160.41 63.0V137.4M158.39 63.1V137.3M156.40 63.3V137.1M154.42 63.6V136.8M152.48 63.9V136.5M150.58 64.2V136.2M148.71 64.6V135.8M146.89 65.1V135.3M145.12 65.6V134.8M143.41 66.1V134.3M141.76 66.7V133.7M140.17 67.3V133.1M138.65 68.0V132.4M137.21 68.7V131.7M135.84 69.4V131.0M134.56 70.2V130.2M133.36 71.0V129.4M132.25 71.8V128.6M131.23 72.6V127.8M130.30 73.5V126.9M129.47 74.4V126.0M128.74 75.3V125.1M128.11 76.3V124.1M127.58 77.2V123.2M127.15 78.2V122.2M126.83 79.1V121.3M126.62 80.1V120.3M126.51 81.1V119.3M204.4 82.6L203.7 75.4L201.5 68.4L197.9 62.0L193.0 56.3L187.1 51.6L180.4 48.0L173.1 45.7L165.5 44.8M204.0 84.5L203.3 77.3L201.1 70.2L197.5 63.6L192.7 57.7L186.9 52.7L180.2 48.8L173.0 46.1L165.5 44.8M203.2 86.5L202.4 79.2L200.3 72.0L196.8 65.2L192.1 59.0L186.4 53.7L179.9 49.5L172.8 46.5L165.5 44.8M201.9 88.3L201.2 81.0L199.1 73.8L195.8 66.8L191.2 60.4L185.7 54.8L179.4 50.2L172.6 46.8L165.5 44.8M200.2 90.1L199.6 82.8L197.6 75.4L194.4 68.3L190.1 61.6L184.8 55.8L178.8 50.9L172.3 47.2L165.5 44.8M198.2 91.8L197.6 84.5L195.7 77.0L192.7 69.7L188.6 62.8L183.7 56.7L178.0 51.5L171.9 47.5L165.5 44.8M195.8 93.4L195.2 86.0L193.5 78.5L190.7 71.0L186.9 64.0L182.3 57.6L177.1 52.2L171.4 47.8L165.5 44.8M193.1 94.9L192.5 87.5L191.0 79.8L188.4 72.2L185.0 65.0L180.8 58.4L176.1 52.7L170.9 48.1L165.5 44.8M190.0 96.2L189.6 88.8L188.2 81.0L185.9 73.3L182.9 65.9L179.1 59.1L174.9 53.2L170.3 48.4L165.5 44.8M186.7 97.4L186.3 89.9L185.1 82.1L183.2 74.3L180.5 66.7L177.3 59.8L173.6 53.7L169.6 48.6L165.5 44.8M183.2 98.4L182.9 90.9L181.9 83.0L180.2 75.1L178.0 67.4L175.3 60.3L172.3 54.0L169.0 48.8L165.5 44.8M179.5 99.2L179.2 91.6L178.4 83.7L177.1 75.8L175.4 68.0L173.3 60.8L170.8 54.3L168.2 49.0L165.5 44.8M175.6 99.8L175.4 92.2L174.8 84.3L173.9 76.3L172.6 68.4L171.1 61.1L169.4 54.6L167.5 49.1L165.5 44.8M171.6 100.2L171.5 92.6L171.1 84.7L170.6 76.6L169.8 68.7L168.9 61.3L167.8 54.7L166.7 49.2L165.5 44.8M167.5 100.4L167.5 92.8L167.4 84.9L167.2 76.8L166.9 68.9L166.6 61.5L166.3 54.8L165.9 49.2L165.5 44.8M163.5 100.4L163.5 92.8L163.6 84.9L163.8 76.8L164.1 68.9L164.4 61.5L164.7 54.8L165.1 49.2L165.5 44.8M159.4 100.2L159.5 92.6L159.9 84.7L160.4 76.6L161.2 68.7L162.1 61.3L163.2 54.7L164.3 49.2L165.5 44.8M155.4 99.8L155.6 92.2L156.2 84.3L157.1 76.3L158.4 68.4L159.9 61.1L161.6 54.6L163.5 49.1L165.5 44.8M151.5 99.2L151.8 91.6L152.6 83.7L153.9 75.8L155.6 68.0L157.7 60.8L160.2 54.3L162.8 49.0L165.5 44.8M147.8 98.4L148.1 90.9L149.1 83.0L150.8 75.1L153.0 67.4L155.7 60.3L158.7 54.0L162.0 48.8L165.5 44.8M144.3 97.4L144.7 89.9L145.9 82.1L147.8 74.3L150.5 66.7L153.7 59.8L157.4 53.7L161.4 48.6L165.5 44.8M141.0 96.2L141.4 88.8L142.8 81.0L145.1 73.3L148.1 65.9L151.9 59.1L156.1 53.2L160.7 48.4L165.5 44.8M137.9 94.9L138.5 87.5L140.0 79.8L142.6 72.2L146.0 65.0L150.2 58.4L154.9 52.7L160.1 48.1L165.5 44.8M135.2 93.4L135.8 86.0L137.5 78.5L140.3 71.0L144.1 64.0L148.7 57.6L153.9 52.2L159.6 47.8L165.5 44.8M132.8 91.8L133.4 84.5L135.3 77.0L138.3 69.7L142.4 62.8L147.3 56.7L153.0 51.5L159.1 47.5L165.5 44.8M130.8 90.1L131.4 82.8L133.4 75.4L136.6 68.3L140.9 61.6L146.2 55.8L152.2 50.9L158.7 47.2L165.5 44.8M129.1 88.3L129.8 81.0L131.9 73.8L135.2 66.8L139.8 60.4L145.3 54.8L151.6 50.2L158.4 46.8L165.5 44.8M127.8 86.5L128.6 79.2L130.7 72.0L134.2 65.2L138.9 59.0L144.6 53.7L151.1 49.5L158.2 46.5L165.5 44.8M127.0 84.5L127.7 77.3L129.9 70.2L133.5 63.6L138.3 57.7L144.1 52.7L150.8 48.8L158.0 46.1L165.5 44.8M126.6 82.6L127.3 75.4L129.5 68.4L133.1 62.0L138.0 56.3L143.9 51.6L150.6 48.0L157.9 45.7L165.5 44.8M126.6 80.6L127.3 73.5L129.5 66.6L133.1 60.4L138.0 54.9L143.9 50.5L150.6 47.2L157.9 45.3L165.5 44.8M127.0 78.7L127.7 71.5L129.9 64.8L133.5 58.7L138.3 53.5L144.1 49.4L150.8 46.5L158.0 45.0L165.5 44.8M127.8 76.7L128.6 69.7L130.7 63.0L134.2 57.1L138.9 52.2L144.6 48.3L151.1 45.8L158.2 44.6L165.5 44.8M129.1 74.9L129.8 67.8L131.9 61.3L135.2 55.6L139.8 50.8L145.3 47.3L151.6 45.0L158.4 44.2L165.5 44.8M130.8 73.1L131.4 66.1L133.4 59.6L136.6 54.1L140.9 49.6L146.2 46.3L152.2 44.4L158.7 43.9L165.5 44.8M132.8 71.4L133.4 64.4L135.3 58.1L138.3 52.7L142.4 48.4L147.3 45.3L153.0 43.7L159.1 43.5L165.5 44.8M135.2 69.8L135.8 62.8L137.5 56.6L140.3 51.3L144.1 47.2L148.7 44.5L153.9 43.1L159.6 43.2L165.5 44.8M137.9 68.3L138.5 61.4L140.0 55.2L142.6 50.1L146.0 46.2L150.2 43.6L154.9 42.5L160.1 42.9L165.5 44.8M141.0 67.0L141.4 60.1L142.8 54.0L145.1 49.0L148.1 45.3L151.9 42.9L156.1 42.0L160.7 42.7L165.5 44.8M144.3 65.8L144.7 59.0L145.9 53.0L147.8 48.1L150.5 44.4L153.7 42.3L157.4 41.6L161.4 42.5L165.5 44.8M147.8 64.8L148.1 58.0L149.1 52.1L150.8 47.2L153.0 43.8L155.7 41.7L158.7 41.2L162.0 42.3L165.5 44.8M151.5 64.0L151.8 57.2L152.6 51.3L153.9 46.6L155.6 43.2L157.7 41.3L160.2 40.9L162.8 42.1L165.5 44.8M155.4 63.4L155.6 56.6L156.2 50.8L157.1 46.1L158.4 42.8L159.9 40.9L161.6 40.7L163.5 42.0L165.5 44.8M159.4 63.0L159.5 56.2L159.9 50.4L160.4 45.7L161.2 42.5L162.1 40.7L163.2 40.5L164.3 41.9L165.5 44.8M163.5 62.8L163.5 56.0L163.6 50.2L163.8 45.6L164.1 42.3L164.4 40.6L164.7 40.4L165.1 41.9L165.5 44.8M167.5 62.8L167.5 56.0L167.4 50.2L167.2 45.6L166.9 42.3L166.6 40.6L166.3 40.4L165.9 41.9L165.5 44.8M171.6 63.0L171.5 56.2L171.1 50.4L170.6 45.7L169.8 42.5L168.9 40.7L167.8 40.5L166.7 41.9L165.5 44.8M175.6 63.4L175.4 56.6L174.8 50.8L173.9 46.1L172.6 42.8L171.1 40.9L169.4 40.7L167.5 42.0L165.5 44.8M179.5 64.0L179.2 57.2L178.4 51.3L177.1 46.6L175.4 43.2L173.3 41.3L170.8 40.9L168.2 42.1L165.5 44.8M183.2 64.8L182.9 58.0L181.9 52.1L180.2 47.2L178.0 43.8L175.3 41.7L172.3 41.2L169.0 42.3L165.5 44.8M186.7 65.8L186.3 59.0L185.1 53.0L183.2 48.1L180.5 44.4L177.3 42.3L173.6 41.6L169.6 42.5L165.5 44.8M190.0 67.0L189.6 60.1L188.2 54.0L185.9 49.0L182.9 45.3L179.1 42.9L174.9 42.0L170.3 42.7L165.5 44.8M193.1 68.3L192.5 61.4L191.0 55.2L188.4 50.1L185.0 46.2L180.8 43.6L176.1 42.5L170.9 42.9L165.5 44.8M195.8 69.8L195.2 62.8L193.5 56.6L190.7 51.3L186.9 47.2L182.3 44.5L177.1 43.1L171.4 43.2L165.5 44.8M198.2 71.4L197.6 64.4L195.7 58.1L192.7 52.7L188.6 48.4L183.7 45.3L178.0 43.7L171.9 43.5L165.5 44.8M200.2 73.1L199.6 66.1L197.6 59.6L194.4 54.1L190.1 49.6L184.8 46.3L178.8 44.4L172.3 43.9L165.5 44.8M201.9 74.9L201.2 67.8L199.1 61.3L195.8 55.6L191.2 50.8L185.7 47.3L179.4 45.0L172.6 44.2L165.5 44.8M203.2 76.7L202.4 69.7L200.3 63.0L196.8 57.1L192.1 52.2L186.4 48.3L179.9 45.8L172.8 44.6L165.5 44.8M204.0 78.7L203.3 71.5L201.1 64.8L197.5 58.7L192.7 53.5L186.9 49.4L180.2 46.5L173.0 45.0L165.5 44.8M204.4 80.6L203.7 73.5L201.5 66.6L197.9 60.4L193.0 54.9L187.1 50.5L180.4 47.2L173.1 45.3L165.5 44.8M126.8 77.2A38.7 18.7 0 1 0 204.2 77.2A38.7 18.7 0 1 0 126.8 77.2M127.6 72.8A37.9 18.3 0 1 0 203.4 72.8A37.9 18.3 0 1 0 127.6 72.8M129.0 68.6A36.5 17.6 0 1 0 202.0 68.6A36.5 17.6 0 1 0 129.0 68.6M131.0 64.5A34.5 16.6 0 1 0 200.0 64.5A34.5 16.6 0 1 0 131.0 64.5M133.4 60.7A32.1 15.5 0 1 0 197.6 60.7A32.1 15.5 0 1 0 133.4 60.7M136.3 57.2A29.2 14.1 0 1 0 194.7 57.2A29.2 14.1 0 1 0 136.3 57.2M139.6 54.1A25.9 12.5 0 1 0 191.4 54.1A25.9 12.5 0 1 0 139.6 54.1M143.3 51.3A22.2 10.7 0 1 0 187.7 51.3A22.2 10.7 0 1 0 143.3 51.3M147.4 49.0A18.1 8.7 0 1 0 183.6 49.0A18.1 8.7 0 1 0 147.4 49.0M151.7 47.2A13.8 6.7 0 1 0 179.3 47.2A13.8 6.7 0 1 0 151.7 47.2M156.2 45.9A9.3 4.5 0 1 0 174.8 45.9A9.3 4.5 0 1 0 156.2 45.9M160.8 45.1A4.7 2.3 0 1 0 170.2 45.1A4.7 2.3 0 1 0 160.8 45.1" fill="none" stroke="#6a88ad" stroke-width="0.3" opacity="0.3" clip-path="url(#cp2)"/>
<path d="M126.5,81.6 A39.0,41.3 0 0 1 204.5,81.6 L204.5,118.8 A39.0,18.8 0 0 1 126.5,118.8 Z" fill="none" stroke="#8aa3c0" stroke-width="0.5"/>
<path d="M136.6,59.6 A29.4,11.7 0 1 1 195.4,59.6 A29.4,11.7 0 1 1 136.6,59.6" fill="none" stroke="#15192a" stroke-width="1.0" stroke-dasharray="2.4,1.4"/>
<path d="M129.7,58.8 C130,66 136,74 146,78.5 C152,81 159,82 166,82" fill="none" stroke="#15192a" stroke-width="1.0" stroke-dasharray="2.4,1.4"/>
<path d="M138,49.5 C146,44.5 156,42.4 166,42.3 C180,42.4 192,48 198,56 C202,62 203.3,70 203.3,80 L203.3,125" fill="none" stroke="#15192a" stroke-width="1.0" stroke-dasharray="2.4,1.4"/>
<path d="M166,42 C171,46 176,53 179,60 C183,68 186,76 186,84 L185.4,137" fill="none" stroke="#15192a" stroke-width="1.0" stroke-dasharray="2.4,1.4"/>
<path d="M170,42.5 C180,44 190,50 195,57 C199,64 200.8,73 200.8,82" fill="none" stroke="#15192a" stroke-width="1.0" stroke-dasharray="2.4,1.4"/>
<path d="M179.5,67.5 C185,66.2 191,64 196.5,61" fill="none" stroke="#15192a" stroke-width="1.15"/>
<path d="M182,81.5 C188,80 194,77.5 200.5,73.5" fill="none" stroke="#15192a" stroke-width="1.15"/>
<path d="M183,62.5 C185.5,69 187,76 188,84" fill="none" stroke="#15192a" stroke-width="1.15"/>
<path d="M191.5,59.5 C194,66 195.5,73 196.3,80.5" fill="none" stroke="#15192a" stroke-width="1.15"/>
<path d="M177,76.8 C185,75 193,71.5 201.5,66" fill="none" stroke="#15192a" stroke-width="1.15"/>
<path d="M204.2,64.2 L199.6,64.9 L201.5,68.2 Z" fill="#15192a"/>
<path d="M174.2,77.4 L178.3,75.1 L178.8,78.7 Z" fill="#15192a"/>
<circle cx="193.1" cy="61.7" r="1.6" fill="#c0263f"/>
<text x="179.3" y="62.0" font-size="9.6" font-style="italic" fill="#15192a">σ<tspan font-size="7" dy="1.2">s</tspan></text>
<text x="200.6" y="67.6" font-size="9.6" font-style="italic" fill="#15192a">σ<tspan font-size="6.5" dy="1.2">θ</tspan></text>
<text x="168.2" y="77.6" font-size="9.6" font-style="italic" fill="#15192a">σ<tspan font-size="6.5" dy="1.2">θ</tspan></text>
<text x="190.3" y="85.2" font-size="9.6" font-style="italic" fill="#15192a">σ<tspan font-size="7" dy="1.2">s</tspan></text>
<path d="M243.2,88.6 L243.2,68 C243.2,60 246,55 249,51 C254,43 266,38.2 283,38.2 C300,38.2 313,43 318,51 C321.5,56 322.6,62 322.6,70 L322.6,121 A39.7,18.8 0 0 1 243.2,121 Z" fill="#cdd8e6"/>
<path d="M242.8,88.6 A40,35.4 0 0 1 322.8,88.6 L322.8,121 A40,18.8 0 0 1 242.8,121 Z" fill="#c3d2e5"/>
<ellipse cx="283" cy="120.6" rx="39.6" ry="19" fill="#dfe6ef"/>
<path d="M242.8,88.6 A40,35.4 0 0 1 322.8,88.6 A40,19 0 0 1 242.8,88.6 Z" fill="#a3b9d5"/>
<ellipse cx="282.8" cy="88.6" rx="39.6" ry="19" fill="#b6c9de"/>
<path d="M322.59 88.1V121.5M322.48 87.1V122.5M322.26 86.1V123.5M321.93 85.1V124.5M321.50 84.2V125.4M320.96 83.2V126.4M320.32 82.3V127.3M319.57 81.3V128.3M318.72 80.4V129.2M317.78 79.5V130.1M316.74 78.7V130.9M315.60 77.8V131.8M314.38 77.0V132.6M313.06 76.3V133.3M311.67 75.5V134.1M310.20 74.8V134.8M308.65 74.2V135.4M307.03 73.5V136.1M305.34 72.9V136.7M303.60 72.4V137.2M301.79 71.9V137.7M299.93 71.5V138.1M298.03 71.0V138.6M296.09 70.7V138.9M294.10 70.4V139.2M292.09 70.1V139.5M290.05 69.9V139.7M287.99 69.8V139.8M285.92 69.7V139.9M283.84 69.6V140.0M281.76 69.6V140.0M279.68 69.7V139.9M277.61 69.8V139.8M275.55 69.9V139.7M273.51 70.1V139.5M271.50 70.4V139.2M269.51 70.7V138.9M267.57 71.0V138.6M265.67 71.5V138.1M263.81 71.9V137.7M262.00 72.4V137.2M260.26 72.9V136.7M258.57 73.5V136.1M256.95 74.2V135.4M255.40 74.8V134.8M253.93 75.5V134.1M252.54 76.3V133.3M251.22 77.0V132.6M250.00 77.8V131.8M248.86 78.7V130.9M247.82 79.5V130.1M246.88 80.4V129.2M246.03 81.3V128.3M245.28 82.3V127.3M244.64 83.2V126.4M244.10 84.2V125.4M243.67 85.1V124.5M243.34 86.1V123.5M243.12 87.1V122.5M243.01 88.1V121.5M322.5 89.6L321.8 83.7L319.5 78.1L315.8 72.8L310.9 68.2L304.9 64.3L298.0 61.4L290.6 59.5L282.8 58.7M322.1 91.6L321.4 85.7L319.1 79.9L315.5 74.5L310.6 69.6L304.6 65.4L297.8 62.1L290.5 59.9L282.8 58.7M321.2 93.5L320.5 87.6L318.3 81.7L314.8 76.1L310.0 71.0L304.2 66.5L297.5 62.9L290.3 60.3L282.8 58.7M320.0 95.4L319.2 89.5L317.1 83.5L313.7 77.7L309.1 72.3L303.4 67.5L297.0 63.6L290.0 60.6L282.8 58.7M318.3 97.2L317.6 91.2L315.6 85.1L312.3 79.2L307.9 73.6L302.5 68.6L296.4 64.3L289.7 61.0L282.8 58.7M316.2 98.9L315.5 92.9L313.6 86.7L310.6 80.6L306.4 74.8L301.3 69.5L295.6 65.0L289.3 61.3L282.8 58.7M313.7 100.6L313.1 94.5L311.4 88.2L308.5 81.9L304.7 75.9L300.0 70.4L294.6 65.6L288.8 61.6L282.8 58.7M310.9 102.0L310.4 95.9L308.8 89.6L306.2 83.2L302.7 77.0L298.4 71.2L293.6 66.1L288.3 61.9L282.8 58.7M307.8 103.4L307.4 97.3L305.9 90.8L303.6 84.3L300.5 77.9L296.7 72.0L292.4 66.7L287.7 62.2L282.8 58.7M304.5 104.5L304.1 98.4L302.8 91.9L300.8 85.3L298.1 78.7L294.8 72.6L291.1 67.1L287.0 62.4L282.8 58.7M300.9 105.5L300.5 99.4L299.5 92.8L297.8 86.1L295.6 79.5L292.8 73.2L289.7 67.5L286.3 62.6L282.8 58.7M297.1 106.3L296.8 100.2L296.0 93.6L294.7 86.8L292.9 80.0L290.7 73.6L288.3 67.8L285.6 62.8L282.8 58.7M293.1 107.0L292.9 100.8L292.3 94.1L291.4 87.3L290.1 80.5L288.5 74.0L286.7 68.0L284.8 62.9L282.8 58.7M289.0 107.4L288.9 101.2L288.6 94.5L288.0 87.6L287.2 80.7L286.3 74.2L285.2 68.2L284.0 63.0L282.8 58.7M284.9 107.6L284.8 101.4L284.7 94.7L284.5 87.8L284.3 80.9L284.0 74.3L283.6 68.3L283.2 63.0L282.8 58.7M280.7 107.6L280.8 101.4L280.9 94.7L281.1 87.8L281.3 80.9L281.6 74.3L282.0 68.3L282.4 63.0L282.8 58.7M276.6 107.4L276.7 101.2L277.0 94.5L277.6 87.6L278.4 80.7L279.3 74.2L280.4 68.2L281.6 63.0L282.8 58.7M272.5 107.0L272.7 100.8L273.3 94.1L274.2 87.3L275.5 80.5L277.1 74.0L278.9 68.0L280.8 62.9L282.8 58.7M268.5 106.3L268.8 100.2L269.6 93.6L270.9 86.8L272.7 80.0L274.9 73.6L277.3 67.8L280.0 62.8L282.8 58.7M264.7 105.5L265.1 99.4L266.1 92.8L267.8 86.1L270.0 79.5L272.8 73.2L275.9 67.5L279.3 62.6L282.8 58.7M261.1 104.5L261.5 98.4L262.8 91.9L264.8 85.3L267.5 78.7L270.8 72.6L274.5 67.1L278.6 62.4L282.8 58.7M257.8 103.4L258.2 97.3L259.7 90.8L262.0 84.3L265.1 77.9L268.9 72.0L273.2 66.7L277.9 62.2L282.8 58.7M254.7 102.0L255.2 95.9L256.8 89.6L259.4 83.2L262.9 77.0L267.2 71.2L272.0 66.1L277.3 61.9L282.8 58.7M251.9 100.6L252.5 94.5L254.2 88.2L257.1 81.9L260.9 75.9L265.6 70.4L271.0 65.6L276.8 61.6L282.8 58.7M249.4 98.9L250.1 92.9L252.0 86.7L255.0 80.6L259.2 74.8L264.3 69.5L270.0 65.0L276.3 61.3L282.8 58.7M247.3 97.2L248.0 91.2L250.0 85.1L253.3 79.2L257.7 73.6L263.1 68.6L269.2 64.3L275.9 61.0L282.8 58.7M245.6 95.4L246.4 89.5L248.5 83.5L251.9 77.7L256.5 72.3L262.2 67.5L268.6 63.6L275.6 60.6L282.8 58.7M244.4 93.5L245.1 87.6L247.3 81.7L250.8 76.1L255.6 71.0L261.4 66.5L268.1 62.9L275.3 60.3L282.8 58.7M243.5 91.6L244.2 85.7L246.5 79.9L250.1 74.5L255.0 69.6L261.0 65.4L267.8 62.1L275.1 59.9L282.8 58.7M243.1 89.6L243.8 83.7L246.1 78.1L249.8 72.8L254.7 68.2L260.7 64.3L267.6 61.4L275.0 59.5L282.8 58.7M243.1 87.6L243.8 81.8L246.1 76.3L249.8 71.2L254.7 66.8L260.7 63.2L267.6 60.6L275.0 59.1L282.8 58.7M243.5 85.6L244.2 79.9L246.5 74.4L250.1 69.5L255.0 65.4L261.0 62.1L267.8 59.9L275.1 58.7L282.8 58.7M244.4 83.7L245.1 77.9L247.3 72.6L250.8 67.9L255.6 64.0L261.4 61.0L268.1 59.1L275.3 58.3L282.8 58.7M245.6 81.8L246.4 76.1L248.5 70.9L251.9 66.3L256.5 62.7L262.2 60.0L268.6 58.4L275.6 58.0L282.8 58.7M247.3 80.0L248.0 74.3L250.0 69.2L253.3 64.8L257.7 61.4L263.1 59.0L269.2 57.7L275.9 57.6L282.8 58.7M249.4 78.3L250.1 72.6L252.0 67.6L255.0 63.4L259.2 60.2L264.3 58.0L270.0 57.0L276.3 57.3L282.8 58.7M251.9 76.6L252.5 71.0L254.2 66.1L257.1 62.1L260.9 59.0L265.6 57.1L271.0 56.4L276.8 57.0L282.8 58.7M254.7 75.2L255.2 69.6L256.8 64.8L259.4 60.8L262.9 58.0L267.2 56.3L272.0 55.9L277.3 56.7L282.8 58.7M257.8 73.8L258.2 68.3L259.7 63.5L262.0 59.7L265.1 57.0L268.9 55.6L273.2 55.4L277.9 56.4L282.8 58.7M261.1 72.7L261.5 67.1L262.8 62.4L264.8 58.8L267.5 56.2L270.8 54.9L274.5 54.9L278.6 56.2L282.8 58.7M264.7 71.7L265.1 66.2L266.1 61.5L267.8 57.9L270.0 55.5L272.8 54.4L275.9 54.5L279.3 56.0L282.8 58.7M268.5 70.9L268.8 65.4L269.6 60.8L270.9 57.3L272.7 54.9L274.9 53.9L277.3 54.2L280.0 55.8L282.8 58.7M272.5 70.2L272.7 64.8L273.3 60.2L274.2 56.7L275.5 54.5L277.1 53.6L278.9 54.0L280.8 55.7L282.8 58.7M276.6 69.8L276.7 64.4L277.0 59.8L277.6 56.4L278.4 54.2L279.3 53.3L280.4 53.8L281.6 55.6L282.8 58.7M280.7 69.6L280.8 64.2L280.9 59.6L281.1 56.2L281.3 54.1L281.6 53.2L282.0 53.7L282.4 55.6L282.8 58.7M284.9 69.6L284.8 64.2L284.7 59.6L284.5 56.2L284.3 54.1L284.0 53.2L283.6 53.7L283.2 55.6L282.8 58.7M289.0 69.8L288.9 64.4L288.6 59.8L288.0 56.4L287.2 54.2L286.3 53.3L285.2 53.8L284.0 55.6L282.8 58.7M293.1 70.2L292.9 64.8L292.3 60.2L291.4 56.7L290.1 54.5L288.5 53.6L286.7 54.0L284.8 55.7L282.8 58.7M297.1 70.9L296.8 65.4L296.0 60.8L294.7 57.3L292.9 54.9L290.7 53.9L288.3 54.2L285.6 55.8L282.8 58.7M300.9 71.7L300.5 66.2L299.5 61.5L297.8 57.9L295.6 55.5L292.8 54.4L289.7 54.5L286.3 56.0L282.8 58.7M304.5 72.7L304.1 67.1L302.8 62.4L300.8 58.8L298.1 56.2L294.8 54.9L291.1 54.9L287.0 56.2L282.8 58.7M307.8 73.8L307.4 68.3L305.9 63.5L303.6 59.7L300.5 57.0L296.7 55.6L292.4 55.4L287.7 56.4L282.8 58.7M310.9 75.2L310.4 69.6L308.8 64.8L306.2 60.8L302.7 58.0L298.4 56.3L293.6 55.9L288.3 56.7L282.8 58.7M313.7 76.6L313.1 71.0L311.4 66.1L308.5 62.1L304.7 59.0L300.0 57.1L294.6 56.4L288.8 57.0L282.8 58.7M316.2 78.3L315.5 72.6L313.6 67.6L310.6 63.4L306.4 60.2L301.3 58.0L295.6 57.0L289.3 57.3L282.8 58.7M318.3 80.0L317.6 74.3L315.6 69.2L312.3 64.8L307.9 61.4L302.5 59.0L296.4 57.7L289.7 57.6L282.8 58.7M320.0 81.8L319.2 76.1L317.1 70.9L313.7 66.3L309.1 62.7L303.4 60.0L297.0 58.4L290.0 58.0L282.8 58.7M321.2 83.7L320.5 77.9L318.3 72.6L314.8 67.9L310.0 64.0L304.2 61.0L297.5 59.1L290.3 58.3L282.8 58.7M322.1 85.6L321.4 79.9L319.1 74.4L315.5 69.5L310.6 65.4L304.6 62.1L297.8 59.9L290.5 58.7L282.8 58.7M322.5 87.6L321.8 81.8L319.5 76.3L315.8 71.2L310.9 66.8L304.9 63.2L298.0 60.6L290.6 59.1L282.8 58.7M243.3 85.0A39.5 18.9 0 1 0 322.3 85.0A39.5 18.9 0 1 0 243.3 85.0M244.2 81.5A38.6 18.4 0 1 0 321.4 81.5A38.6 18.4 0 1 0 244.2 81.5M245.6 78.0A37.2 17.8 0 1 0 320.0 78.0A37.2 17.8 0 1 0 245.6 78.0M247.6 74.7A35.2 16.8 0 1 0 318.0 74.7A35.2 16.8 0 1 0 247.6 74.7M250.0 71.6A32.8 15.6 0 1 0 315.6 71.6A32.8 15.6 0 1 0 250.0 71.6M253.0 68.8A29.8 14.2 0 1 0 312.6 68.8A29.8 14.2 0 1 0 253.0 68.8M256.4 66.2A26.4 12.6 0 1 0 309.2 66.2A26.4 12.6 0 1 0 256.4 66.2M260.2 64.0A22.6 10.8 0 1 0 305.4 64.0A22.6 10.8 0 1 0 260.2 64.0M264.3 62.2A18.5 8.8 0 1 0 301.3 62.2A18.5 8.8 0 1 0 264.3 62.2M268.7 60.7A14.1 6.7 0 1 0 296.9 60.7A14.1 6.7 0 1 0 268.7 60.7M273.3 59.6A9.5 4.5 0 1 0 292.3 59.6A9.5 4.5 0 1 0 273.3 59.6M278.0 58.9A4.8 2.3 0 1 0 287.6 58.9A4.8 2.3 0 1 0 278.0 58.9" fill="none" stroke="#6a88ad" stroke-width="0.3" opacity="0.3" clip-path="url(#cp3)"/>
<path d="M322.59 88.1V70.5M322.48 87.1V71.5M322.26 86.1V72.5M321.93 85.1V73.5M321.50 84.2V74.4M320.96 83.2V75.4M320.32 82.3V76.3M319.57 81.3V77.3M318.72 80.4V78.2M317.78 79.5V79.1M316.74 78.7V79.9M315.60 77.8V80.8M314.38 77.0V81.6M313.06 76.3V82.3M311.67 75.5V83.1M310.20 74.8V83.8M308.65 74.2V84.4M307.03 73.5V85.1M305.34 72.9V85.7M303.60 72.4V86.2M301.79 71.9V86.7M299.93 71.5V87.1M298.03 71.0V87.6M296.09 70.7V87.9M294.10 70.4V88.2M292.09 70.1V88.5M290.05 69.9V88.7M287.99 69.8V88.8M285.92 69.7V88.9M283.84 69.6V89.0M281.76 69.6V89.0M279.68 69.7V88.9M277.61 69.8V88.8M275.55 69.9V88.7M273.51 70.1V88.5M271.50 70.4V88.2M269.51 70.7V87.9M267.57 71.0V87.6M265.67 71.5V87.1M263.81 71.9V86.7M262.00 72.4V86.2M260.26 72.9V85.7M258.57 73.5V85.1M256.95 74.2V84.4M255.40 74.8V83.8M253.93 75.5V83.1M252.54 76.3V82.3M251.22 77.0V81.6M250.00 77.8V80.8M248.86 78.7V79.9M247.82 79.5V79.1M246.88 80.4V78.2M246.03 81.3V77.3M245.28 82.3V76.3M244.64 83.2V75.4M244.10 84.2V74.4M243.67 85.1V73.5M243.34 86.1V72.5M243.12 87.1V71.5M243.01 88.1V70.5" fill="none" stroke="#6a88ad" stroke-width="0.3" opacity="0.3" clip-path="url(#cp4)"/>
<path d="M243.2,88.6 L243.2,68 C243.2,60 246,55 249,51 C254,43 266,38.2 283,38.2 C300,38.2 313,43 318,51 C321.5,56 322.6,62 322.6,70 L322.6,121 A39.7,18.8 0 0 1 243.2,121 Z" fill="none" stroke="#8aa3c0" stroke-width="0.5"/>
<path d="M283,38.6 C268,38.6 256,43 251,50 C249,54 248.4,58 248.4,62 L248.4,118" fill="none" stroke="#15192a" stroke-width="0.9" stroke-dasharray="2.4,1.4"/>
<path d="M249,70 C256,60 268,54 283,53.6 C296,53.6 306,57 312,62" fill="none" stroke="#15192a" stroke-width="0.9" stroke-dasharray="2.4,1.4"/>
<path d="M243.6,88.6 A39,19 0 0 1 321.6,88.6" fill="none" stroke="#15192a" stroke-width="0.9" stroke-dasharray="2.4,1.4"/>
<path d="M243.6,88.6 A39,19 0 0 0 321.6,88.6" fill="none" stroke="#15192a" stroke-width="0.9"/>
<path d="M283,38.4 C297,38.8 309,45 315,55 C319,63 320.5,72 320.2,82" fill="none" stroke="#15192a" stroke-width="1.0"/>
<path d="M316.7,87 L316.7,130.5" fill="none" stroke="#15192a" stroke-width="1.0"/>
<path d="M283,53.6 C294,54.2 303,58 309,64 C314,70 316.5,78 316.7,87" fill="none" stroke="#15192a" stroke-width="1.0"/>
<path d="M306.3,56.7 L299.5,49.8" fill="none" stroke="#15192a" stroke-width="1.0"/>
<path d="M298.3,48.6 L302.2,49.6 L300.1,51.7 Z" fill="#15192a"/>
<path d="M306.3,56.7 L295,62" fill="none" stroke="#15192a" stroke-width="1.0"/>
<circle cx="294.2" cy="62.4" r="1.3" fill="#1f3d6b"/>
<circle cx="306.3" cy="56.7" r="1.4" fill="#c0263f"/>
<text x="302.6" y="49.6" font-size="9.8" font-style="italic" fill="#15192a">v<tspan font-size="7" dy="1.2">n</tspan></text>
<text x="304.8" y="70.6" font-size="9.8" font-style="italic" fill="#15192a">v<tspan font-size="7" dy="1.2">s</tspan></text>
<path d="M244,90 L244,118" fill="none" stroke="#15192a" stroke-width="0.8" stroke-dasharray="2.4,1.4"/>
<line x1="49.60" y1="80.70" x2="49.60" y2="36.30" stroke="#15192a" stroke-width="1.0"/><path d="M49.60,33.20 L51.30,36.80 L47.90,36.80 Z" fill="#15192a"/><line x1="49.60" y1="80.70" x2="8.95" y2="115.77" stroke="#15192a" stroke-width="1.0"/><path d="M6.60,117.80 L8.22,114.16 L10.44,116.74 Z" fill="#15192a"/><line x1="49.60" y1="80.70" x2="99.92" y2="95.24" stroke="#15192a" stroke-width="1.0"/><path d="M102.90,96.10 L98.97,96.73 L99.91,93.47 Z" fill="#15192a"/>
<line x1="165.80" y1="81.60" x2="165.80" y2="36.10" stroke="#15192a" stroke-width="1.0"/><path d="M165.80,33.00 L167.50,36.60 L164.10,36.60 Z" fill="#15192a"/><line x1="165.80" y1="81.60" x2="126.35" y2="115.48" stroke="#15192a" stroke-width="1.0"/><path d="M124.00,117.50 L125.62,113.86 L127.84,116.44 Z" fill="#15192a"/><line x1="165.80" y1="81.60" x2="216.30" y2="95.00" stroke="#15192a" stroke-width="1.0"/><path d="M219.30,95.80 L215.38,96.52 L216.26,93.23 Z" fill="#15192a"/>
<line x1="282.30" y1="88.60" x2="282.30" y2="37.40" stroke="#15192a" stroke-width="1.0"/><path d="M282.30,34.30 L284.00,37.90 L280.60,37.90 Z" fill="#15192a"/><line x1="282.30" y1="88.60" x2="241.88" y2="122.51" stroke="#15192a" stroke-width="1.0"/><path d="M239.50,124.50 L241.17,120.88 L243.35,123.49 Z" fill="#15192a"/><line x1="282.30" y1="88.60" x2="332.61" y2="102.67" stroke="#15192a" stroke-width="1.0"/><path d="M335.60,103.50 L331.68,104.17 L332.59,100.89 Z" fill="#15192a"/>
<text x="107.7" y="81.0" font-size="11" text-anchor="middle" fill="#b8203c"  style="">Step 1</text>
<line x1="97.00" y1="87.10" x2="117.20" y2="87.10" stroke="#111" stroke-width="1.3"/><path d="M121.90,87.10 L116.70,89.90 L116.70,84.30 Z" fill="#111"/>
<text x="225.5" y="81.2" font-size="11" text-anchor="middle" fill="#b8203c"  style="">Step 2</text>
<line x1="212.60" y1="87.10" x2="231.90" y2="87.10" stroke="#111" stroke-width="1.3"/><path d="M236.60,87.10 L231.40,89.90 L231.40,84.30 Z" fill="#111"/>
<text x="106.5" y="144.2" font-size="11" text-anchor="middle" fill="#b8203c"  style="">Step 3</text>
<path d="M283.7,140 V148.7 H48.9 V145" fill="none" stroke="#111" stroke-width="1.2"/>
<path d="M48.9,140.5 L46.3,145.5 L51.5,145.5 Z" fill="#111"/>
<text x="0.6" y="175.5" font-size="13.6" text-anchor="start" fill="#111"  style="">B</text>
<rect x="15.3" y="180.0" width="69" height="113.0" fill="#fff" stroke="#111" stroke-width="1.4"/>
<line x1="15.3" y1="198.2" x2="84.3" y2="198.2" stroke="#111" stroke-width="1.4"/>
<line x1="15.3" y1="217.3" x2="84.3" y2="217.3" stroke="#111" stroke-width="1.4"/>
<line x1="15.3" y1="236.5" x2="84.3" y2="236.5" stroke="#111" stroke-width="1.4"/>
<line x1="15.3" y1="255.5" x2="84.3" y2="255.5" stroke="#111" stroke-width="1.4"/>
<line x1="15.3" y1="274.3" x2="84.3" y2="274.3" stroke="#111" stroke-width="1.4"/>
<text x="18.2" y="193.0" font-size="10.2" fill="#111" textLength="62" lengthAdjust="spacingAndGlyphs">Parameters</text>
<text transform="translate(82.3 210.8) scale(1.075 1)" font-size="9.2" text-anchor="end" fill="#111"><tspan style="font-style:italic">P</tspan>(<tspan style="font-style:italic">t</tspan>) = 0.5 MPa</text>
<text transform="translate(82.3 228.9) scale(1.115 1)" font-size="9.2" text-anchor="end" fill="#111"><tspan style="font-style:italic">l</tspan><tspan font-size="6.4" dy="1.9" style="font-style:italic">g</tspan><tspan dy="-1.9"> = 5 μm</tspan></text>
<text transform="translate(82.3 247.9) scale(1.08 1)" font-size="9.2" text-anchor="end" fill="#111"><tspan style="font-style:italic">δ</tspan>(<tspan style="font-style:italic">s</tspan>) = 0.5 μm</text>
<text transform="translate(82.3 266.9) scale(1.025 1)" font-size="9.2" text-anchor="end" fill="#111"><tspan style="font-style:italic">σ</tspan><tspan font-size="6.4" dy="1.9" style="font-style:italic">y</tspan><tspan dy="-1.9">(</tspan><tspan style="font-style:italic">s</tspan>) = 0.5<tspan style="font-style:italic">σ</tspan><tspan font-size="6.4" dy="1.9" style="font-style:italic">e</tspan><tspan dy="-1.9">(</tspan><tspan style="font-style:italic">s</tspan>)</text>
<text transform="translate(82.3 286.4) scale(1.085 1)" font-size="9.2" text-anchor="end" fill="#111"><tspan style="font-style:italic">ν</tspan>(<tspan style="font-style:italic">s</tspan>) = 0.5</text>
<g fill="none" stroke-width="1.3"><path d="M96.0 266.8C117.2 266.8 125.7 280.1 134.4 287.7" stroke="url(#ks55)"/><path d="M96.0 262.4C117.2 262.4 125.9 276.6 134.4 287.7" stroke="url(#ks54)"/><path d="M96.0 258.5C116.8 258.5 125.6 273.3 133.7 286.5" stroke="url(#ks53)"/><path d="M96.0 255.0C115.6 255.0 123.6 269.7 131.5 283.0" stroke="url(#ks52)"/><path d="M96.0 251.8C114.7 251.8 122.9 266.0 129.8 279.9" stroke="url(#ks51)"/><path d="M96.0 248.9C113.9 248.9 123.0 262.5 128.5 276.9" stroke="url(#ks50)"/><path d="M96.0 246.3C113.5 246.3 123.2 259.4 127.6 274.3" stroke="url(#ks49)"/><path d="M96.0 243.8C113.1 243.8 123.5 256.7 127.0 271.8" stroke="url(#ks48)"/><path d="M96.0 241.5C112.8 241.5 123.7 254.3 126.5 269.4" stroke="url(#ks47)"/><path d="M96.0 239.3C112.6 239.3 123.8 252.1 126.1 267.4" stroke="url(#ks46)"/><path d="M96.0 237.3C112.5 237.3 123.8 250.0 125.8 265.4" stroke="url(#ks45)"/><path d="M96.0 235.3C112.3 235.3 123.9 248.0 125.6 263.3" stroke="url(#ks44)"/><path d="M96.0 233.5C112.2 233.5 123.9 246.2 125.4 261.7" stroke="url(#ks43)"/><path d="M96.0 231.7C112.2 231.7 123.9 244.4 125.3 259.9" stroke="url(#ks42)"/><path d="M96.0 230.1C112.1 230.1 123.9 242.7 125.1 258.2" stroke="url(#ks41)"/><path d="M96.0 228.5C112.0 228.5 123.9 241.0 125.0 256.5" stroke="url(#ks40)"/><path d="M96.0 226.9C112.0 226.9 123.9 239.5 124.9 254.9" stroke="url(#ks39)"/><path d="M96.0 225.4C111.9 225.4 123.9 238.0 124.8 253.5" stroke="url(#ks38)"/><path d="M96.0 224.0C111.9 224.0 123.9 236.5 124.7 252.0" stroke="url(#ks37)"/><path d="M96.0 222.6C111.8 222.6 123.9 235.2 124.7 250.7" stroke="url(#ks36)"/><path d="M96.0 221.2C111.8 221.2 123.9 233.8 124.6 249.4" stroke="url(#ks35)"/><path d="M96.0 219.9C111.8 219.9 123.9 232.5 124.5 248.0" stroke="url(#ks34)"/><path d="M96.0 218.6C111.7 218.6 123.9 231.1 124.5 246.6" stroke="url(#ks33)"/><path d="M96.0 217.3C111.7 217.3 123.9 229.9 124.4 245.5" stroke="url(#ks32)"/><path d="M96.0 216.1C111.7 216.1 123.9 228.7 124.4 244.3" stroke="url(#ks31)"/><path d="M96.0 214.9C111.7 214.9 123.9 227.5 124.4 243.1" stroke="url(#ks30)"/><path d="M96.0 213.7C111.6 213.7 123.9 226.3 124.3 241.8" stroke="url(#ks29)"/><path d="M96.0 212.5C111.6 212.5 123.9 225.1 124.3 240.6" stroke="url(#ks28)"/><path d="M96.0 211.3C111.6 211.3 123.9 224.0 124.3 239.6" stroke="url(#ks27)"/><path d="M96.0 210.2C111.6 210.2 123.9 222.8 124.2 238.3" stroke="url(#ks26)"/><path d="M96.0 209.1C111.6 209.1 123.9 221.7 124.2 237.3" stroke="url(#ks25)"/><path d="M96.0 208.0C111.6 208.0 123.9 220.6 124.2 236.2" stroke="url(#ks24)"/><path d="M96.0 206.9C111.6 206.9 123.9 219.6 124.2 235.2" stroke="url(#ks23)"/><path d="M96.0 205.8C111.6 205.8 123.9 218.3 124.2 233.8" stroke="url(#ks22)"/><path d="M96.0 204.7C111.5 204.7 123.9 217.4 124.1 233.1" stroke="url(#ks21)"/><path d="M96.0 203.7C111.5 203.7 123.9 216.3 124.1 232.0" stroke="url(#ks20)"/><path d="M96.0 202.6C111.5 202.6 123.9 215.2 124.1 230.8" stroke="url(#ks19)"/><path d="M96.0 201.6C111.5 201.6 123.9 214.2 124.1 229.7" stroke="url(#ks18)"/><path d="M96.0 200.5C111.5 200.5 123.9 213.1 124.1 228.5" stroke="url(#ks17)"/><path d="M96.0 199.5C111.5 199.5 123.9 212.1 124.1 227.8" stroke="url(#ks16)"/><path d="M96.0 198.5C111.5 198.5 123.9 211.0 124.1 226.6" stroke="url(#ks15)"/><path d="M96.0 197.4C111.5 197.4 123.9 210.1 124.1 225.8" stroke="url(#ks14)"/><path d="M96.0 196.4C111.5 196.4 123.9 209.0 124.0 224.6" stroke="url(#ks13)"/><path d="M96.0 195.4C111.5 195.4 123.9 208.1 124.0 223.7" stroke="url(#ks12)"/><path d="M96.0 194.4C111.5 194.4 123.9 207.0 124.0 222.5" stroke="url(#ks11)"/><path d="M96.0 193.4C111.5 193.4 123.9 206.0 124.0 221.6" stroke="url(#ks10)"/><path d="M96.0 192.3C111.5 192.3 123.9 204.9 124.0 220.4" stroke="url(#ks9)"/><path d="M96.0 191.3C111.5 191.3 123.9 203.9 124.0 219.5" stroke="url(#ks8)"/><path d="M96.0 190.3C111.5 190.3 124.0 203.0 124.0 218.6" stroke="url(#ks7)"/><path d="M96.0 189.3C111.5 189.3 124.0 202.0 124.0 217.7" stroke="url(#ks6)"/><path d="M96.0 188.3C111.5 188.3 124.0 200.9 124.0 216.4" stroke="url(#ks5)"/><path d="M96.0 187.3C111.5 187.3 124.0 199.9 124.0 215.5" stroke="url(#ks4)"/><path d="M96.0 186.3C111.5 186.3 124.0 199.0 124.0 214.6" stroke="url(#ks3)"/><path d="M96.0 185.3C111.5 185.3 124.0 198.0 124.0 213.6" stroke="url(#ks2)"/><path d="M96.0 184.3C111.5 184.3 124.0 197.0 124.0 212.7" stroke="url(#ks1)"/><path d="M96.0 183.3C111.5 183.3 124.0 195.8 124.0 211.3C124.0 275.0 126.8 275.0 134.4 287.7" stroke="url(#ks0)"/></g>
<rect x="137.4" y="177.9" width="6.2" height="116.1" fill="url(#cb1)" stroke="#1a1a1a" stroke-width="0.8"/><line x1="144.0" y1="178.4" x2="145.6" y2="178.4" stroke="#1a1a1a" stroke-width="0.8"/><text transform="translate(147.1 181.2) scale(1.1 1)" font-size="8" fill="#1a1a1a" stroke="#1a1a1a" stroke-width="0.22">0.45</text><line x1="144.0" y1="199.9" x2="145.6" y2="199.9" stroke="#1a1a1a" stroke-width="0.8"/><text transform="translate(147.1 202.8) scale(1.1 1)" font-size="8" fill="#1a1a1a" stroke="#1a1a1a" stroke-width="0.22">0.40</text><line x1="144.0" y1="221.5" x2="145.6" y2="221.5" stroke="#1a1a1a" stroke-width="0.8"/><text transform="translate(147.1 224.3) scale(1.1 1)" font-size="8" fill="#1a1a1a" stroke="#1a1a1a" stroke-width="0.22">0.35</text><line x1="144.0" y1="243.0" x2="145.6" y2="243.0" stroke="#1a1a1a" stroke-width="0.8"/><text transform="translate(147.1 245.9) scale(1.1 1)" font-size="8" fill="#1a1a1a" stroke="#1a1a1a" stroke-width="0.22">0.30</text><line x1="144.0" y1="264.6" x2="145.6" y2="264.6" stroke="#1a1a1a" stroke-width="0.8"/><text transform="translate(147.1 267.4) scale(1.1 1)" font-size="8" fill="#1a1a1a" stroke="#1a1a1a" stroke-width="0.22">0.25</text><line x1="144.0" y1="286.1" x2="145.6" y2="286.1" stroke="#1a1a1a" stroke-width="0.8"/><text transform="translate(147.1 289.0) scale(1.1 1)" font-size="8" fill="#1a1a1a" stroke="#1a1a1a" stroke-width="0.22">0.20</text>
<text transform="translate(173.6 236.5) rotate(-90) scale(1.0 1)" text-anchor="middle" fill="#111"><tspan font-size="12.5" font-style="italic">κ</tspan><tspan font-size="8.5" dy="2.6" font-style="italic">s</tspan></text>
<g fill="none" stroke-width="1.3"><path d="M184.0 265.5C205.0 265.5 213.7 278.3 222.1 285.7" stroke="url(#ss54)"/><path d="M184.0 261.1C205.0 261.1 213.7 275.0 222.1 285.7" stroke="url(#ss53)"/><path d="M184.0 257.2C204.7 257.2 213.5 271.7 221.5 284.7" stroke="url(#ss52)"/><path d="M184.0 253.7C203.5 253.7 211.5 268.2 219.4 281.2" stroke="url(#ss51)"/><path d="M184.0 250.5C202.5 250.5 210.7 264.4 217.6 278.0" stroke="url(#ss50)"/><path d="M184.0 247.6C201.8 247.6 210.8 261.0 216.3 275.2" stroke="url(#ss49)"/><path d="M184.0 244.9C201.3 244.9 211.1 257.9 215.4 272.5" stroke="url(#ss48)"/><path d="M184.0 242.5C201.0 242.5 211.3 255.2 214.8 270.1" stroke="url(#ss47)"/><path d="M184.0 240.2C200.7 240.2 211.5 252.8 214.3 267.8" stroke="url(#ss46)"/><path d="M184.0 238.0C200.5 238.0 211.6 250.6 213.9 265.6" stroke="url(#ss45)"/><path d="M184.0 236.0C200.4 236.0 211.6 248.5 213.6 263.6" stroke="url(#ss44)"/><path d="M184.0 234.1C200.2 234.1 211.7 246.5 213.4 261.7" stroke="url(#ss43)"/><path d="M184.0 232.2C200.1 232.2 211.7 244.7 213.2 259.9" stroke="url(#ss42)"/><path d="M184.0 230.5C200.0 230.5 211.7 242.9 213.0 258.2" stroke="url(#ss41)"/><path d="M184.0 228.8C199.9 228.8 211.7 241.2 212.9 256.3" stroke="url(#ss40)"/><path d="M184.0 227.2C199.9 227.2 211.7 239.6 212.8 254.8" stroke="url(#ss39)"/><path d="M184.0 225.7C199.8 225.7 211.7 238.0 212.7 253.2" stroke="url(#ss38)"/><path d="M184.0 224.2C199.8 224.2 211.7 236.6 212.6 251.8" stroke="url(#ss37)"/><path d="M184.0 222.7C199.7 222.7 211.7 235.1 212.5 250.3" stroke="url(#ss36)"/><path d="M184.0 221.3C199.7 221.3 211.7 233.8 212.4 249.1" stroke="url(#ss35)"/><path d="M184.0 220.0C199.7 220.0 211.7 232.3 212.4 247.5" stroke="url(#ss34)"/><path d="M184.0 218.7C199.6 218.7 211.7 231.1 212.3 246.4" stroke="url(#ss33)"/><path d="M184.0 217.4C199.6 217.4 211.7 229.8 212.3 245.0" stroke="url(#ss32)"/><path d="M184.0 216.1C199.6 216.1 211.7 228.4 212.2 243.6" stroke="url(#ss31)"/><path d="M184.0 214.9C199.6 214.9 211.7 227.2 212.2 242.4" stroke="url(#ss30)"/><path d="M184.0 213.7C199.5 213.7 211.7 226.0 212.1 241.2" stroke="url(#ss29)"/><path d="M184.0 212.5C199.5 212.5 211.7 224.8 212.1 240.0" stroke="url(#ss28)"/><path d="M184.0 211.3C199.5 211.3 211.7 223.7 212.1 239.1" stroke="url(#ss27)"/><path d="M184.0 210.2C199.5 210.2 211.7 222.5 212.0 237.8" stroke="url(#ss26)"/><path d="M184.0 209.0C199.5 209.0 211.7 221.5 212.0 236.8" stroke="url(#ss25)"/><path d="M184.0 207.9C199.5 207.9 211.7 220.2 212.0 235.5" stroke="url(#ss24)"/><path d="M184.0 206.8C199.4 206.8 211.7 219.2 212.0 234.4" stroke="url(#ss23)"/><path d="M184.0 205.7C199.4 205.7 211.7 218.1 212.0 233.4" stroke="url(#ss22)"/><path d="M184.0 204.6C199.4 204.6 211.7 217.0 211.9 232.3" stroke="url(#ss21)"/><path d="M184.0 203.6C199.4 203.6 211.7 216.0 211.9 231.3" stroke="url(#ss20)"/><path d="M184.0 202.5C199.4 202.5 211.7 214.9 211.9 230.2" stroke="url(#ss19)"/><path d="M184.0 201.4C199.4 201.4 211.7 213.8 211.9 229.1" stroke="url(#ss18)"/><path d="M184.0 200.4C199.4 200.4 211.7 212.7 211.9 227.9" stroke="url(#ss17)"/><path d="M184.0 199.3C199.4 199.3 211.7 211.8 211.9 227.2" stroke="url(#ss16)"/><path d="M184.0 198.3C199.4 198.3 211.7 210.7 211.9 226.0" stroke="url(#ss15)"/><path d="M184.0 197.3C199.4 197.3 211.7 209.6 211.8 224.8" stroke="url(#ss14)"/><path d="M184.0 196.3C199.4 196.3 211.7 208.7 211.8 224.1" stroke="url(#ss13)"/><path d="M184.0 195.2C199.4 195.2 211.7 207.6 211.8 222.8" stroke="url(#ss12)"/><path d="M184.0 194.2C199.4 194.2 211.7 206.7 211.8 222.0" stroke="url(#ss11)"/><path d="M184.0 193.2C199.4 193.2 211.7 205.5 211.8 220.8" stroke="url(#ss10)"/><path d="M184.0 192.2C199.4 192.2 211.7 204.6 211.8 219.9" stroke="url(#ss9)"/><path d="M184.0 191.2C199.4 191.2 211.7 203.5 211.8 218.7" stroke="url(#ss8)"/><path d="M184.0 190.2C199.4 190.2 211.7 202.5 211.8 217.8" stroke="url(#ss7)"/><path d="M184.0 189.1C199.3 189.1 211.7 201.6 211.8 216.9" stroke="url(#ss6)"/><path d="M184.0 188.1C199.3 188.1 211.7 200.6 211.8 216.1" stroke="url(#ss5)"/><path d="M184.0 187.1C199.3 187.1 211.8 199.5 211.8 214.7" stroke="url(#ss4)"/><path d="M184.0 186.1C199.3 186.1 211.8 198.5 211.8 213.8" stroke="url(#ss3)"/><path d="M184.0 185.1C199.3 185.1 211.8 197.6 211.8 212.9" stroke="url(#ss2)"/><path d="M184.0 184.1C199.3 184.1 211.8 196.6 211.8 212.0" stroke="url(#ss1)"/><path d="M184.0 183.1C199.3 183.1 211.8 195.4 211.8 210.6C211.8 273.2 214.6 273.2 222.1 285.7" stroke="url(#ss0)"/></g>
<rect x="224.5" y="178.1" width="6.2" height="112.9" fill="url(#cb2)" stroke="#1a1a1a" stroke-width="0.8"/><line x1="231.1" y1="178.6" x2="232.7" y2="178.6" stroke="#1a1a1a" stroke-width="0.8"/><text transform="translate(234.4 181.4) scale(1.1 1)" font-size="8" fill="#1a1a1a" stroke="#1a1a1a" stroke-width="0.22">1.80</text><line x1="231.1" y1="197.4" x2="232.7" y2="197.4" stroke="#1a1a1a" stroke-width="0.8"/><text transform="translate(234.4 200.2) scale(1.1 1)" font-size="8" fill="#1a1a1a" stroke="#1a1a1a" stroke-width="0.22">1.70</text><line x1="231.1" y1="216.2" x2="232.7" y2="216.2" stroke="#1a1a1a" stroke-width="0.8"/><text transform="translate(234.4 219.0) scale(1.1 1)" font-size="8" fill="#1a1a1a" stroke="#1a1a1a" stroke-width="0.22">1.60</text><line x1="231.1" y1="235.0" x2="232.7" y2="235.0" stroke="#1a1a1a" stroke-width="0.8"/><text transform="translate(234.4 237.8) scale(1.1 1)" font-size="8" fill="#1a1a1a" stroke="#1a1a1a" stroke-width="0.22">1.50</text><line x1="231.1" y1="253.8" x2="232.7" y2="253.8" stroke="#1a1a1a" stroke-width="0.8"/><text transform="translate(234.4 256.7) scale(1.1 1)" font-size="8" fill="#1a1a1a" stroke="#1a1a1a" stroke-width="0.22">1.40</text><line x1="231.1" y1="272.6" x2="232.7" y2="272.6" stroke="#1a1a1a" stroke-width="0.8"/><text transform="translate(234.4 275.5) scale(1.1 1)" font-size="8" fill="#1a1a1a" stroke="#1a1a1a" stroke-width="0.22">1.30</text><line x1="231.1" y1="291.4" x2="232.7" y2="291.4" stroke="#1a1a1a" stroke-width="0.8"/><text transform="translate(234.4 294.2) scale(1.1 1)" font-size="8" fill="#1a1a1a" stroke="#1a1a1a" stroke-width="0.22">1.20</text>
<text transform="translate(260.0 234.7) rotate(-90) scale(1.0 1)" text-anchor="middle" fill="#111"><tspan font-size="12.5" font-style="italic">σ</tspan><tspan font-size="8.5" dy="2.6" font-style="italic">s</tspan></text>
<g fill="none" stroke-width="1.3"><path d="M268.1 265.5C290.2 265.5 299.4 279.0 308.2 286.8" stroke="url(#vs56)"/><path d="M268.1 261.1C290.2 261.1 299.5 275.6 308.2 286.8" stroke="url(#vs55)"/><path d="M268.1 257.1C289.9 257.1 299.3 272.3 307.6 285.8" stroke="url(#vs54)"/><path d="M268.1 253.6C288.7 253.6 297.2 268.7 305.4 282.2" stroke="url(#vs53)"/><path d="M268.1 250.4C287.7 250.4 296.3 265.0 303.6 279.0" stroke="url(#vs52)"/><path d="M268.1 247.5C287.0 247.5 296.3 261.4 302.3 276.1" stroke="url(#vs51)"/><path d="M268.1 244.8C286.4 244.8 296.6 258.3 301.3 273.4" stroke="url(#vs50)"/><path d="M268.1 242.3C286.0 242.3 296.8 255.5 300.6 270.9" stroke="url(#vs49)"/><path d="M268.1 239.9C285.8 239.9 297.0 253.0 300.1 268.5" stroke="url(#vs48)"/><path d="M268.1 237.7C285.5 237.7 297.1 250.8 299.7 266.4" stroke="url(#vs47)"/><path d="M268.1 235.6C285.4 235.6 297.2 248.6 299.4 264.3" stroke="url(#vs46)"/><path d="M268.1 233.7C285.2 233.7 297.2 246.6 299.1 262.4" stroke="url(#vs45)"/><path d="M268.1 231.8C285.1 231.8 297.2 244.8 298.9 260.5" stroke="url(#vs44)"/><path d="M268.1 230.0C285.0 230.0 297.3 243.0 298.7 258.8" stroke="url(#vs43)"/><path d="M268.1 228.3C284.9 228.3 297.3 241.3 298.6 257.1" stroke="url(#vs42)"/><path d="M268.1 226.7C284.9 226.7 297.3 239.6 298.4 255.3" stroke="url(#vs41)"/><path d="M268.1 225.1C284.8 225.1 297.3 238.1 298.3 254.0" stroke="url(#vs40)"/><path d="M268.1 223.6C284.7 223.6 297.3 236.5 298.2 252.3" stroke="url(#vs39)"/><path d="M268.1 222.1C284.7 222.1 297.3 235.0 298.1 250.8" stroke="url(#vs38)"/><path d="M268.1 220.7C284.7 220.7 297.3 233.6 298.1 249.5" stroke="url(#vs37)"/><path d="M268.1 219.3C284.6 219.3 297.2 232.2 298.0 248.1" stroke="url(#vs36)"/><path d="M268.1 217.9C284.6 217.9 297.2 230.9 297.9 246.8" stroke="url(#vs35)"/><path d="M268.1 216.6C284.6 216.6 297.2 229.5 297.9 245.4" stroke="url(#vs34)"/><path d="M268.1 215.3C284.5 215.3 297.2 228.3 297.8 244.2" stroke="url(#vs33)"/><path d="M268.1 214.1C284.5 214.1 297.2 227.0 297.8 243.0" stroke="url(#vs32)"/><path d="M268.1 212.9C284.5 212.9 297.2 225.8 297.8 241.8" stroke="url(#vs31)"/><path d="M268.1 211.6C284.5 211.6 297.2 224.6 297.7 240.5" stroke="url(#vs30)"/><path d="M268.1 210.5C284.4 210.5 297.2 223.3 297.7 239.2" stroke="url(#vs29)"/><path d="M268.1 209.3C284.4 209.3 297.2 222.1 297.6 237.9" stroke="url(#vs28)"/><path d="M268.1 208.1C284.4 208.1 297.2 221.0 297.6 236.9" stroke="url(#vs27)"/><path d="M268.1 207.0C284.4 207.0 297.2 219.9 297.6 235.9" stroke="url(#vs26)"/><path d="M268.1 205.9C284.4 205.9 297.2 218.7 297.6 234.5" stroke="url(#vs25)"/><path d="M268.1 204.8C284.4 204.8 297.2 217.6 297.5 233.4" stroke="url(#vs24)"/><path d="M268.1 203.7C284.4 203.7 297.2 216.5 297.5 232.4" stroke="url(#vs23)"/><path d="M268.1 202.6C284.3 202.6 297.2 215.4 297.5 231.3" stroke="url(#vs22)"/><path d="M268.1 201.5C284.3 201.5 297.2 214.3 297.5 230.1" stroke="url(#vs21)"/><path d="M268.1 200.4C284.3 200.4 297.2 213.4 297.5 229.4" stroke="url(#vs20)"/><path d="M268.1 199.4C284.3 199.4 297.2 212.3 297.5 228.2" stroke="url(#vs19)"/><path d="M268.1 198.3C284.3 198.3 297.2 211.2 297.4 227.1" stroke="url(#vs18)"/><path d="M268.1 197.3C284.3 197.3 297.2 210.3 297.4 226.3" stroke="url(#vs17)"/><path d="M268.1 196.2C284.3 196.2 297.2 209.2 297.4 225.1" stroke="url(#vs16)"/><path d="M268.1 195.2C284.3 195.2 297.3 208.0 297.4 223.9" stroke="url(#vs15)"/><path d="M268.1 194.2C284.3 194.2 297.3 207.1 297.4 223.0" stroke="url(#vs14)"/><path d="M268.1 193.2C284.3 193.2 297.3 206.0 297.4 221.8" stroke="url(#vs13)"/><path d="M268.1 192.1C284.3 192.1 297.3 205.0 297.4 220.9" stroke="url(#vs12)"/><path d="M268.1 191.1C284.3 191.1 297.3 204.1 297.4 220.1" stroke="url(#vs11)"/><path d="M268.1 190.1C284.3 190.1 297.3 202.9 297.4 218.8" stroke="url(#vs10)"/><path d="M268.1 189.1C284.3 189.1 297.3 202.0 297.4 217.9" stroke="url(#vs9)"/><path d="M268.1 188.1C284.3 188.1 297.3 201.0 297.4 217.0" stroke="url(#vs8)"/><path d="M268.1 187.1C284.3 187.1 297.3 200.1 297.4 216.1" stroke="url(#vs7)"/><path d="M268.1 186.1C284.3 186.1 297.3 198.9 297.3 214.8" stroke="url(#vs6)"/><path d="M268.1 185.0C284.3 185.0 297.3 197.9 297.3 213.8" stroke="url(#vs5)"/><path d="M268.1 184.0C284.3 184.0 297.3 197.0 297.3 212.9" stroke="url(#vs4)"/><path d="M268.1 183.0C284.3 183.0 297.3 196.0 297.3 212.0" stroke="url(#vs3)"/><path d="M268.1 182.0C284.2 182.0 297.3 195.0 297.3 211.0" stroke="url(#vs2)"/><path d="M268.1 181.0C284.2 181.0 297.3 194.0 297.3 210.1" stroke="url(#vs1)"/><path d="M268.1 180.0C284.2 180.0 297.3 192.8 297.3 208.6C297.3 273.8 300.4 273.8 308.2 286.8" stroke="url(#vs0)"/></g>
<rect x="310.6" y="175.1" width="6.2" height="118.4" fill="url(#cb3)" stroke="#1a1a1a" stroke-width="0.8"/><line x1="317.2" y1="187.4" x2="318.8" y2="187.4" stroke="#1a1a1a" stroke-width="0.8"/><text transform="translate(320.4 190.2) scale(1.1 1)" font-size="8" fill="#1a1a1a" stroke="#1a1a1a" stroke-width="0.22">0.04</text><line x1="317.2" y1="211.3" x2="318.8" y2="211.3" stroke="#1a1a1a" stroke-width="0.8"/><text transform="translate(320.4 214.2) scale(1.1 1)" font-size="8" fill="#1a1a1a" stroke="#1a1a1a" stroke-width="0.22">0.02</text><line x1="317.2" y1="235.2" x2="318.8" y2="235.2" stroke="#1a1a1a" stroke-width="0.8"/><text transform="translate(320.4 238.0) scale(1.1 1)" font-size="8" fill="#1a1a1a" stroke="#1a1a1a" stroke-width="0.22">0.00</text><line x1="317.2" y1="259.1" x2="318.8" y2="259.1" stroke="#1a1a1a" stroke-width="0.8"/><text transform="translate(320.4 262.0) scale(1.1 1)" font-size="8" fill="#1a1a1a" stroke="#1a1a1a" stroke-width="0.22">&#8722;0.02</text><line x1="317.2" y1="283.0" x2="318.8" y2="283.0" stroke="#1a1a1a" stroke-width="0.8"/><text transform="translate(320.4 285.9) scale(1.1 1)" font-size="8" fill="#1a1a1a" stroke="#1a1a1a" stroke-width="0.22">&#8722;0.04</text>
<text transform="translate(346.2 234.0) rotate(-90) scale(1.0 1)" text-anchor="middle" fill="#111"><tspan font-size="12.5" font-style="italic">v</tspan><tspan font-size="8.5" dy="2.6" font-style="italic">s</tspan></text>
<g fill="none" stroke-width="1.3"><path d="M11.3 392.3C31.9 392.3 39.2 406.7 48.6 415.0" stroke="url(#ph53)"/><path d="M11.3 387.9C31.9 387.9 40.5 402.4 48.6 415.0" stroke="url(#ph52)"/><path d="M11.3 384.0C30.8 384.0 38.6 398.6 46.6 411.7" stroke="url(#ph51)"/><path d="M11.3 380.5C29.7 380.5 37.4 394.7 44.6 408.2" stroke="url(#ph50)"/><path d="M11.3 377.4C28.9 377.4 37.3 390.9 43.1 405.1" stroke="url(#ph49)"/><path d="M11.3 374.5C28.3 374.5 37.7 387.6 42.1 402.3" stroke="url(#ph48)"/><path d="M11.3 371.9C27.9 371.9 37.9 384.7 41.4 399.6" stroke="url(#ph47)"/><path d="M11.3 369.5C27.7 369.5 38.1 382.2 40.9 397.2" stroke="url(#ph46)"/><path d="M11.3 367.2C27.4 367.2 38.2 379.8 40.5 395.0" stroke="url(#ph45)"/><path d="M11.3 365.1C27.3 365.1 38.3 377.6 40.2 392.8" stroke="url(#ph44)"/><path d="M11.3 363.1C27.2 363.1 38.4 375.6 40.0 390.9" stroke="url(#ph43)"/><path d="M11.3 361.2C27.0 361.2 38.4 373.7 39.8 388.9" stroke="url(#ph42)"/><path d="M11.3 359.4C27.0 359.4 38.4 371.9 39.7 387.1" stroke="url(#ph41)"/><path d="M11.3 357.7C26.9 357.7 38.4 370.2 39.5 385.5" stroke="url(#ph40)"/><path d="M11.3 356.0C26.8 356.0 38.4 368.5 39.4 383.7" stroke="url(#ph39)"/><path d="M11.3 354.5C26.8 354.5 38.4 367.0 39.3 382.3" stroke="url(#ph38)"/><path d="M11.3 352.9C26.7 352.9 38.4 365.4 39.2 380.7" stroke="url(#ph37)"/><path d="M11.3 351.5C26.7 351.5 38.4 363.9 39.2 379.2" stroke="url(#ph36)"/><path d="M11.3 350.1C26.6 350.1 38.4 362.5 39.1 377.9" stroke="url(#ph35)"/><path d="M11.3 348.7C26.6 348.7 38.4 361.2 39.0 376.6" stroke="url(#ph34)"/><path d="M11.3 347.4C26.6 347.4 38.4 359.8 39.0 375.2" stroke="url(#ph33)"/><path d="M11.3 346.1C26.6 346.1 38.4 358.5 38.9 373.8" stroke="url(#ph32)"/><path d="M11.3 344.8C26.5 344.8 38.4 357.3 38.9 372.7" stroke="url(#ph31)"/><path d="M11.3 343.5C26.5 343.5 38.4 356.1 38.9 371.5" stroke="url(#ph30)"/><path d="M11.3 342.3C26.5 342.3 38.4 354.8 38.8 370.3" stroke="url(#ph29)"/><path d="M11.3 341.1C26.5 341.1 38.4 353.6 38.8 369.0" stroke="url(#ph28)"/><path d="M11.3 340.0C26.5 340.0 38.4 352.4 38.8 367.8" stroke="url(#ph27)"/><path d="M11.3 338.8C26.4 338.8 38.4 351.2 38.7 366.5" stroke="url(#ph26)"/><path d="M11.3 337.7C26.4 337.7 38.4 350.1 38.7 365.5" stroke="url(#ph25)"/><path d="M11.3 336.5C26.4 336.5 38.4 349.1 38.7 364.5" stroke="url(#ph24)"/><path d="M11.3 335.4C26.4 335.4 38.4 347.8 38.7 363.1" stroke="url(#ph23)"/><path d="M11.3 334.3C26.4 334.3 38.4 346.8 38.6 362.0" stroke="url(#ph22)"/><path d="M11.3 333.3C26.4 333.3 38.4 345.7 38.6 361.0" stroke="url(#ph21)"/><path d="M11.3 332.2C26.4 332.2 38.4 344.6 38.6 359.9" stroke="url(#ph20)"/><path d="M11.3 331.1C26.4 331.1 38.4 343.5 38.6 358.8" stroke="url(#ph19)"/><path d="M11.3 330.1C26.4 330.1 38.4 342.6 38.6 358.0" stroke="url(#ph18)"/><path d="M11.3 329.0C26.4 329.0 38.4 341.5 38.6 356.9" stroke="url(#ph17)"/><path d="M11.3 328.0C26.4 328.0 38.4 340.4 38.6 355.8" stroke="url(#ph16)"/><path d="M11.3 327.0C26.4 327.0 38.4 339.5 38.6 355.0" stroke="url(#ph15)"/><path d="M11.3 325.9C26.4 325.9 38.4 338.4 38.6 353.8" stroke="url(#ph14)"/><path d="M11.3 324.9C26.3 324.9 38.4 337.3 38.5 352.6" stroke="url(#ph13)"/><path d="M11.3 323.9C26.3 323.9 38.4 336.4 38.5 351.8" stroke="url(#ph12)"/><path d="M11.3 322.9C26.3 322.9 38.4 335.3 38.5 350.5" stroke="url(#ph11)"/><path d="M11.3 321.9C26.3 321.9 38.4 334.3 38.5 349.7" stroke="url(#ph10)"/><path d="M11.3 320.9C26.3 320.9 38.4 333.4 38.5 348.9" stroke="url(#ph9)"/><path d="M11.3 319.8C26.3 319.8 38.5 332.3 38.5 347.6" stroke="url(#ph8)"/><path d="M11.3 318.8C26.3 318.8 38.5 331.3 38.5 346.7" stroke="url(#ph7)"/><path d="M11.3 317.8C26.3 317.8 38.5 330.4 38.5 345.8" stroke="url(#ph6)"/><path d="M11.3 316.8C26.3 316.8 38.5 329.2 38.5 344.5" stroke="url(#ph5)"/><path d="M11.3 315.8C26.3 315.8 38.5 328.3 38.5 343.6" stroke="url(#ph4)"/><path d="M11.3 314.8C26.3 314.8 38.5 327.3 38.5 342.7" stroke="url(#ph3)"/><path d="M11.3 313.8C26.3 313.8 38.5 326.3 38.5 341.8" stroke="url(#ph2)"/><path d="M11.3 312.8C26.3 312.8 38.5 325.4 38.5 340.9" stroke="url(#ph1)"/><path d="M11.3 311.8C26.3 311.8 38.5 324.2 38.5 339.5C38.5 402.4 41.0 402.4 48.6 415.0" stroke="url(#ph0)"/></g>
<rect x="51.0" y="307.5" width="6.2" height="112.3" fill="url(#cb4)" stroke="#1a1a1a" stroke-width="0.8"/><line x1="57.6" y1="308.1" x2="59.2" y2="308.1" stroke="#1a1a1a" stroke-width="0.8"/><text transform="translate(60.1 311.0) scale(1.1 1)" font-size="8" fill="#1a1a1a" stroke="#1a1a1a" stroke-width="0.22">1.00</text><line x1="57.6" y1="330.5" x2="59.2" y2="330.5" stroke="#1a1a1a" stroke-width="0.8"/><text transform="translate(60.1 333.4) scale(1.1 1)" font-size="8" fill="#1a1a1a" stroke="#1a1a1a" stroke-width="0.22">0.80</text><line x1="57.6" y1="352.9" x2="59.2" y2="352.9" stroke="#1a1a1a" stroke-width="0.8"/><text transform="translate(60.1 355.8) scale(1.1 1)" font-size="8" fill="#1a1a1a" stroke="#1a1a1a" stroke-width="0.22">0.60</text><line x1="57.6" y1="375.4" x2="59.2" y2="375.4" stroke="#1a1a1a" stroke-width="0.8"/><text transform="translate(60.1 378.2) scale(1.1 1)" font-size="8" fill="#1a1a1a" stroke="#1a1a1a" stroke-width="0.22">0.40</text><line x1="57.6" y1="397.8" x2="59.2" y2="397.8" stroke="#1a1a1a" stroke-width="0.8"/><text transform="translate(60.1 400.6) scale(1.1 1)" font-size="8" fill="#1a1a1a" stroke="#1a1a1a" stroke-width="0.22">0.20</text><line x1="57.6" y1="420.2" x2="59.2" y2="420.2" stroke="#1a1a1a" stroke-width="0.8"/><text transform="translate(60.1 423.1) scale(1.1 1)" font-size="8" fill="#1a1a1a" stroke="#1a1a1a" stroke-width="0.22">0</text>
<text transform="translate(86.6 364.3) rotate(-90)" text-anchor="middle" font-size="10.5" fill="#111">Φ(<tspan font-style="italic">s</tspan>)</text>
<g fill="none" stroke-width="1.3"><path d="M96.0 393.9C117.5 393.9 126.4 407.0 135.0 414.5" stroke="url(#kt55)"/><path d="M96.0 389.5C117.5 389.5 126.5 403.6 135.0 414.5" stroke="url(#kt54)"/><path d="M96.0 385.6C117.2 385.6 126.4 400.4 134.4 413.6" stroke="url(#kt53)"/><path d="M96.0 382.1C116.0 382.1 124.3 396.8 132.3 410.0" stroke="url(#kt52)"/><path d="M96.0 378.9C115.1 378.9 123.4 393.1 130.5 406.9" stroke="url(#kt51)"/><path d="M96.0 376.0C114.3 376.0 123.4 389.6 129.2 404.0" stroke="url(#kt50)"/><path d="M96.0 373.3C113.8 373.3 123.7 386.5 128.2 401.3" stroke="url(#kt49)"/><path d="M96.0 370.8C113.4 370.8 123.9 383.8 127.6 398.8" stroke="url(#kt48)"/><path d="M96.0 368.5C113.2 368.5 124.1 381.3 127.1 396.5" stroke="url(#kt47)"/><path d="M96.0 366.3C112.9 366.3 124.2 379.1 126.7 394.4" stroke="url(#kt46)"/><path d="M96.0 364.3C112.8 364.3 124.3 377.0 126.4 392.4" stroke="url(#kt45)"/><path d="M96.0 362.4C112.6 362.4 124.3 375.0 126.1 390.3" stroke="url(#kt44)"/><path d="M96.0 360.5C112.5 360.5 124.3 373.1 125.9 388.5" stroke="url(#kt43)"/><path d="M96.0 358.8C112.4 358.8 124.4 371.3 125.7 386.7" stroke="url(#kt42)"/><path d="M96.0 357.1C112.4 357.1 124.4 369.7 125.6 385.1" stroke="url(#kt41)"/><path d="M96.0 355.5C112.3 355.5 124.4 368.1 125.5 383.5" stroke="url(#kt40)"/><path d="M96.0 353.9C112.2 353.9 124.4 366.5 125.4 382.0" stroke="url(#kt39)"/><path d="M96.0 352.4C112.2 352.4 124.4 365.0 125.3 380.5" stroke="url(#kt38)"/><path d="M96.0 351.0C112.1 351.0 124.4 363.6 125.2 379.1" stroke="url(#kt37)"/><path d="M96.0 349.6C112.1 349.6 124.4 362.1 125.1 377.5" stroke="url(#kt36)"/><path d="M96.0 348.2C112.1 348.2 124.4 360.8 125.1 376.2" stroke="url(#kt35)"/><path d="M96.0 346.9C112.0 346.9 124.3 359.4 125.0 374.9" stroke="url(#kt34)"/><path d="M96.0 345.6C112.0 345.6 124.3 358.2 125.0 373.7" stroke="url(#kt33)"/><path d="M96.0 344.3C112.0 344.3 124.3 356.8 124.9 372.3" stroke="url(#kt32)"/><path d="M96.0 343.0C111.9 343.0 124.3 355.6 124.9 371.1" stroke="url(#kt31)"/><path d="M96.0 341.8C111.9 341.8 124.3 354.4 124.8 369.9" stroke="url(#kt30)"/><path d="M96.0 340.6C111.9 340.6 124.3 353.2 124.8 368.7" stroke="url(#kt29)"/><path d="M96.0 339.5C111.9 339.5 124.3 352.0 124.7 367.4" stroke="url(#kt28)"/><path d="M96.0 338.3C111.9 338.3 124.3 350.9 124.7 366.4" stroke="url(#kt27)"/><path d="M96.0 337.2C111.8 337.2 124.3 349.7 124.7 365.1" stroke="url(#kt26)"/><path d="M96.0 336.0C111.8 336.0 124.3 348.6 124.7 364.1" stroke="url(#kt25)"/><path d="M96.0 334.9C111.8 334.9 124.3 347.5 124.6 363.1" stroke="url(#kt24)"/><path d="M96.0 333.8C111.8 333.8 124.3 346.5 124.6 362.0" stroke="url(#kt23)"/><path d="M96.0 332.7C111.8 332.7 124.3 345.4 124.6 361.0" stroke="url(#kt22)"/><path d="M96.0 331.7C111.8 331.7 124.3 344.3 124.6 359.9" stroke="url(#kt21)"/><path d="M96.0 330.6C111.8 330.6 124.3 343.2 124.6 358.8" stroke="url(#kt20)"/><path d="M96.0 329.5C111.8 329.5 124.3 342.1 124.6 357.7" stroke="url(#kt19)"/><path d="M96.0 328.5C111.8 328.5 124.3 341.1 124.5 356.6" stroke="url(#kt18)"/><path d="M96.0 327.4C111.8 327.4 124.3 340.0 124.5 355.4" stroke="url(#kt17)"/><path d="M96.0 326.4C111.8 326.4 124.3 339.0 124.5 354.6" stroke="url(#kt16)"/><path d="M96.0 325.4C111.7 325.4 124.4 337.9 124.5 353.4" stroke="url(#kt15)"/><path d="M96.0 324.4C111.7 324.4 124.4 337.0 124.5 352.6" stroke="url(#kt14)"/><path d="M96.0 323.3C111.7 323.3 124.4 335.9 124.5 351.4" stroke="url(#kt13)"/><path d="M96.0 322.3C111.7 322.3 124.4 335.0 124.5 350.6" stroke="url(#kt12)"/><path d="M96.0 321.3C111.7 321.3 124.4 333.9 124.5 349.3" stroke="url(#kt11)"/><path d="M96.0 320.3C111.7 320.3 124.4 332.9 124.5 348.5" stroke="url(#kt10)"/><path d="M96.0 319.3C111.7 319.3 124.4 331.8 124.5 347.2" stroke="url(#kt9)"/><path d="M96.0 318.3C111.7 318.3 124.4 330.8 124.5 346.4" stroke="url(#kt8)"/><path d="M96.0 317.2C111.7 317.2 124.4 329.9 124.5 345.5" stroke="url(#kt7)"/><path d="M96.0 316.2C111.7 316.2 124.4 328.9 124.4 344.6" stroke="url(#kt6)"/><path d="M96.0 315.2C111.7 315.2 124.4 327.8 124.4 343.3" stroke="url(#kt5)"/><path d="M96.0 314.2C111.7 314.2 124.4 326.8 124.4 342.3" stroke="url(#kt4)"/><path d="M96.0 313.2C111.7 313.2 124.4 325.8 124.4 341.4" stroke="url(#kt3)"/><path d="M96.0 312.2C111.7 312.2 124.4 324.9 124.4 340.5" stroke="url(#kt2)"/><path d="M96.0 311.2C111.7 311.2 124.4 323.9 124.4 339.6" stroke="url(#kt1)"/><path d="M96.0 310.2C111.7 310.2 124.4 322.7 124.4 338.1C124.4 401.8 127.4 401.8 135.0 414.5" stroke="url(#kt0)"/></g>
<rect x="137.5" y="305.0" width="6.2" height="116.3" fill="url(#cb5)" stroke="#1a1a1a" stroke-width="0.8"/><line x1="144.1" y1="305.9" x2="145.7" y2="305.9" stroke="#1a1a1a" stroke-width="0.8"/><text transform="translate(147.1 308.8) scale(1.1 1)" font-size="8" fill="#1a1a1a" stroke="#1a1a1a" stroke-width="0.22">0.45</text><line x1="144.1" y1="327.4" x2="145.7" y2="327.4" stroke="#1a1a1a" stroke-width="0.8"/><text transform="translate(147.1 330.2) scale(1.1 1)" font-size="8" fill="#1a1a1a" stroke="#1a1a1a" stroke-width="0.22">0.40</text><line x1="144.1" y1="348.9" x2="145.7" y2="348.9" stroke="#1a1a1a" stroke-width="0.8"/><text transform="translate(147.1 351.8) scale(1.1 1)" font-size="8" fill="#1a1a1a" stroke="#1a1a1a" stroke-width="0.22">0.35</text><line x1="144.1" y1="370.4" x2="145.7" y2="370.4" stroke="#1a1a1a" stroke-width="0.8"/><text transform="translate(147.1 373.2) scale(1.1 1)" font-size="8" fill="#1a1a1a" stroke="#1a1a1a" stroke-width="0.22">0.30</text><line x1="144.1" y1="391.9" x2="145.7" y2="391.9" stroke="#1a1a1a" stroke-width="0.8"/><text transform="translate(147.1 394.8) scale(1.1 1)" font-size="8" fill="#1a1a1a" stroke="#1a1a1a" stroke-width="0.22">0.25</text><line x1="144.1" y1="413.4" x2="145.7" y2="413.4" stroke="#1a1a1a" stroke-width="0.8"/><text transform="translate(147.1 416.2) scale(1.1 1)" font-size="8" fill="#1a1a1a" stroke="#1a1a1a" stroke-width="0.22">0.20</text>
<text transform="translate(174.2 363.2) rotate(-90) scale(1.0 1)" text-anchor="middle" fill="#111"><tspan font-size="12.5" font-style="italic">κ</tspan><tspan font-size="8.5" dy="2.6" font-style="italic">θ</tspan></text>
<g fill="none" stroke-width="1.3"><path d="M183.8 392.1C204.8 392.1 213.3 405.1 221.8 412.6" stroke="url(#st54)"/><path d="M183.8 387.7C204.8 387.7 213.4 401.7 221.8 412.6" stroke="url(#st53)"/><path d="M183.8 383.8C204.3 383.8 213.0 398.3 221.0 411.2" stroke="url(#st52)"/><path d="M183.8 380.3C203.2 380.3 211.1 394.8 218.9 407.8" stroke="url(#st51)"/><path d="M183.8 377.2C202.2 377.2 210.4 391.0 217.1 404.7" stroke="url(#st50)"/><path d="M183.8 374.3C201.5 374.3 210.5 387.6 215.9 401.8" stroke="url(#st49)"/><path d="M183.8 371.7C201.0 371.7 210.8 384.6 215.0 399.1" stroke="url(#st48)"/><path d="M183.8 369.2C200.7 369.2 211.0 381.9 214.4 396.8" stroke="url(#st47)"/><path d="M183.8 366.9C200.4 366.9 211.2 379.5 213.9 394.4" stroke="url(#st46)"/><path d="M183.8 364.8C200.2 364.8 211.3 377.3 213.6 392.3" stroke="url(#st45)"/><path d="M183.8 362.8C200.1 362.8 211.4 375.2 213.3 390.2" stroke="url(#st44)"/><path d="M183.8 360.9C200.0 360.9 211.4 373.2 213.1 388.3" stroke="url(#st43)"/><path d="M183.8 359.0C199.9 359.0 211.4 371.4 212.9 386.5" stroke="url(#st42)"/><path d="M183.8 357.3C199.8 357.3 211.4 369.7 212.7 384.9" stroke="url(#st41)"/><path d="M183.8 355.7C199.7 355.7 211.4 368.1 212.6 383.3" stroke="url(#st40)"/><path d="M183.8 354.1C199.6 354.1 211.4 366.4 212.5 381.6" stroke="url(#st39)"/><path d="M183.8 352.5C199.6 352.5 211.4 364.9 212.4 380.2" stroke="url(#st38)"/><path d="M183.8 351.1C199.5 351.1 211.4 363.4 212.3 378.5" stroke="url(#st37)"/><path d="M183.8 349.6C199.5 349.6 211.4 361.9 212.2 377.1" stroke="url(#st36)"/><path d="M183.8 348.2C199.5 348.2 211.4 360.6 212.1 375.8" stroke="url(#st35)"/><path d="M183.8 346.9C199.4 346.9 211.4 359.3 212.1 374.5" stroke="url(#st34)"/><path d="M183.8 345.6C199.4 345.6 211.4 357.9 212.0 373.1" stroke="url(#st33)"/><path d="M183.8 344.3C199.4 344.3 211.4 356.6 212.0 371.7" stroke="url(#st32)"/><path d="M183.8 343.0C199.3 343.0 211.4 355.4 211.9 370.6" stroke="url(#st31)"/><path d="M183.8 341.8C199.3 341.8 211.4 354.2 211.9 369.4" stroke="url(#st30)"/><path d="M183.8 340.6C199.3 340.6 211.4 353.0 211.9 368.2" stroke="url(#st29)"/><path d="M183.8 339.4C199.3 339.4 211.4 351.8 211.8 367.0" stroke="url(#st28)"/><path d="M183.8 338.3C199.3 338.3 211.4 350.6 211.8 365.7" stroke="url(#st27)"/><path d="M183.8 337.1C199.2 337.1 211.4 349.5 211.8 364.8" stroke="url(#st26)"/><path d="M183.8 336.0C199.2 336.0 211.4 348.3 211.7 363.5" stroke="url(#st25)"/><path d="M183.8 334.9C199.2 334.9 211.4 347.2 211.7 362.5" stroke="url(#st24)"/><path d="M183.8 333.8C199.2 333.8 211.4 346.2 211.7 361.4" stroke="url(#st23)"/><path d="M183.8 332.7C199.2 332.7 211.4 345.1 211.7 360.4" stroke="url(#st22)"/><path d="M183.8 331.6C199.2 331.6 211.4 344.0 211.7 359.4" stroke="url(#st21)"/><path d="M183.8 330.6C199.2 330.6 211.4 343.0 211.6 358.3" stroke="url(#st20)"/><path d="M183.8 329.5C199.2 329.5 211.4 341.9 211.6 357.2" stroke="url(#st19)"/><path d="M183.8 328.5C199.2 328.5 211.4 340.8 211.6 356.1" stroke="url(#st18)"/><path d="M183.8 327.4C199.2 327.4 211.4 339.7 211.6 355.0" stroke="url(#st17)"/><path d="M183.8 326.4C199.1 326.4 211.4 338.7 211.6 353.8" stroke="url(#st16)"/><path d="M183.8 325.3C199.1 325.3 211.4 337.7 211.6 353.0" stroke="url(#st15)"/><path d="M183.8 324.3C199.1 324.3 211.4 336.7 211.6 351.9" stroke="url(#st14)"/><path d="M183.8 323.3C199.1 323.3 211.4 335.7 211.6 351.1" stroke="url(#st13)"/><path d="M183.8 322.3C199.1 322.3 211.4 334.6 211.6 349.9" stroke="url(#st12)"/><path d="M183.8 321.3C199.1 321.3 211.4 333.7 211.5 349.0" stroke="url(#st11)"/><path d="M183.8 320.3C199.1 320.3 211.4 332.6 211.5 347.8" stroke="url(#st10)"/><path d="M183.8 319.2C199.1 319.2 211.5 331.7 211.5 347.0" stroke="url(#st9)"/><path d="M183.8 318.2C199.1 318.2 211.5 330.5 211.5 345.7" stroke="url(#st8)"/><path d="M183.8 317.2C199.1 317.2 211.5 329.6 211.5 344.8" stroke="url(#st7)"/><path d="M183.8 316.2C199.1 316.2 211.5 328.6 211.5 344.0" stroke="url(#st6)"/><path d="M183.8 315.2C199.1 315.2 211.5 327.7 211.5 343.1" stroke="url(#st5)"/><path d="M183.8 314.2C199.1 314.2 211.5 326.5 211.5 341.8" stroke="url(#st4)"/><path d="M183.8 313.2C199.1 313.2 211.5 325.6 211.5 340.9" stroke="url(#st3)"/><path d="M183.8 312.2C199.1 312.2 211.5 324.6 211.5 340.0" stroke="url(#st2)"/><path d="M183.8 311.2C199.1 311.2 211.5 323.7 211.5 339.0" stroke="url(#st1)"/><path d="M183.8 310.2C199.1 310.2 211.5 322.5 211.5 337.6C211.5 400.1 214.3 400.1 221.8 412.6" stroke="url(#st0)"/></g>
<rect x="224.4" y="304.8" width="6.2" height="114.1" fill="url(#cb6)" stroke="#1a1a1a" stroke-width="0.8"/><line x1="231.0" y1="305.3" x2="232.6" y2="305.3" stroke="#1a1a1a" stroke-width="0.8"/><text transform="translate(234.3 308.2) scale(1.1 1)" font-size="8" fill="#1a1a1a" stroke="#1a1a1a" stroke-width="0.22">1.80</text><line x1="231.0" y1="324.3" x2="232.6" y2="324.3" stroke="#1a1a1a" stroke-width="0.8"/><text transform="translate(234.3 327.2) scale(1.1 1)" font-size="8" fill="#1a1a1a" stroke="#1a1a1a" stroke-width="0.22">1.70</text><line x1="231.0" y1="343.3" x2="232.6" y2="343.3" stroke="#1a1a1a" stroke-width="0.8"/><text transform="translate(234.3 346.2) scale(1.1 1)" font-size="8" fill="#1a1a1a" stroke="#1a1a1a" stroke-width="0.22">1.60</text><line x1="231.0" y1="362.3" x2="232.6" y2="362.3" stroke="#1a1a1a" stroke-width="0.8"/><text transform="translate(234.3 365.2) scale(1.1 1)" font-size="8" fill="#1a1a1a" stroke="#1a1a1a" stroke-width="0.22">1.50</text><line x1="231.0" y1="381.3" x2="232.6" y2="381.3" stroke="#1a1a1a" stroke-width="0.8"/><text transform="translate(234.3 384.2) scale(1.1 1)" font-size="8" fill="#1a1a1a" stroke="#1a1a1a" stroke-width="0.22">1.40</text><line x1="231.0" y1="400.3" x2="232.6" y2="400.3" stroke="#1a1a1a" stroke-width="0.8"/><text transform="translate(234.3 403.2) scale(1.1 1)" font-size="8" fill="#1a1a1a" stroke="#1a1a1a" stroke-width="0.22">1.30</text><line x1="231.0" y1="419.3" x2="232.6" y2="419.3" stroke="#1a1a1a" stroke-width="0.8"/><text transform="translate(234.3 422.2) scale(1.1 1)" font-size="8" fill="#1a1a1a" stroke="#1a1a1a" stroke-width="0.22">1.20</text>
<text transform="translate(260.3 362.0) rotate(-90) scale(1.0 1)" text-anchor="middle" fill="#111"><tspan font-size="12.5" font-style="italic">σ</tspan><tspan font-size="8.5" dy="2.6" font-style="italic">θ</tspan></text>
<g fill="none" stroke-width="1.3"><path d="M269.4 391.5C290.6 391.5 299.2 404.5 307.7 412.0" stroke="url(#vn54)"/><path d="M269.4 387.1C290.6 387.1 299.3 401.1 307.7 412.0" stroke="url(#vn53)"/><path d="M269.4 383.2C290.1 383.2 299.0 397.8 306.9 410.7" stroke="url(#vn52)"/><path d="M269.4 379.7C288.9 379.7 297.0 394.1 304.8 407.2" stroke="url(#vn51)"/><path d="M269.4 376.5C288.0 376.5 296.3 390.4 303.0 404.0" stroke="url(#vn50)"/><path d="M269.4 373.7C287.3 373.7 296.4 387.0 301.8 401.2" stroke="url(#vn49)"/><path d="M269.4 371.0C286.8 371.0 296.7 383.9 300.9 398.5" stroke="url(#vn48)"/><path d="M269.4 368.6C286.5 368.6 296.9 381.3 300.3 396.1" stroke="url(#vn47)"/><path d="M269.4 366.3C286.2 366.3 297.0 378.8 299.8 393.8" stroke="url(#vn46)"/><path d="M269.4 364.1C286.0 364.1 297.1 376.6 299.4 391.6" stroke="url(#vn45)"/><path d="M269.4 362.1C285.8 362.1 297.2 374.6 299.2 389.7" stroke="url(#vn44)"/><path d="M269.4 360.2C285.7 360.2 297.2 372.6 298.9 387.7" stroke="url(#vn43)"/><path d="M269.4 358.4C285.6 358.4 297.2 370.8 298.7 386.0" stroke="url(#vn42)"/><path d="M269.4 356.6C285.5 356.6 297.2 369.1 298.6 384.3" stroke="url(#vn41)"/><path d="M269.4 355.0C285.4 355.0 297.2 367.4 298.4 382.6" stroke="url(#vn40)"/><path d="M269.4 353.4C285.4 353.4 297.3 365.7 298.3 380.9" stroke="url(#vn39)"/><path d="M269.4 351.8C285.3 351.8 297.2 364.3 298.2 379.5" stroke="url(#vn38)"/><path d="M269.4 350.3C285.3 350.3 297.3 362.7 298.1 377.9" stroke="url(#vn37)"/><path d="M269.4 348.9C285.2 348.9 297.2 361.4 298.1 376.6" stroke="url(#vn36)"/><path d="M269.4 347.5C285.2 347.5 297.2 359.9 298.0 375.1" stroke="url(#vn35)"/><path d="M269.4 346.2C285.1 346.2 297.2 358.6 297.9 373.8" stroke="url(#vn34)"/><path d="M269.4 344.8C285.1 344.8 297.2 357.2 297.9 372.5" stroke="url(#vn33)"/><path d="M269.4 343.6C285.1 343.6 297.2 355.9 297.8 371.1" stroke="url(#vn32)"/><path d="M269.4 342.3C285.1 342.3 297.2 354.7 297.8 369.9" stroke="url(#vn31)"/><path d="M269.4 341.1C285.0 341.1 297.2 353.5 297.7 368.7" stroke="url(#vn30)"/><path d="M269.4 339.9C285.0 339.9 297.2 352.3 297.7 367.5" stroke="url(#vn29)"/><path d="M269.4 338.7C285.0 338.7 297.2 351.1 297.6 366.3" stroke="url(#vn28)"/><path d="M269.4 337.5C285.0 337.5 297.2 349.9 297.6 365.0" stroke="url(#vn27)"/><path d="M269.4 336.4C285.0 336.4 297.2 348.8 297.6 364.1" stroke="url(#vn26)"/><path d="M269.4 335.2C285.0 335.2 297.2 347.6 297.6 362.8" stroke="url(#vn25)"/><path d="M269.4 334.1C284.9 334.1 297.2 346.5 297.5 361.8" stroke="url(#vn24)"/><path d="M269.4 333.0C284.9 333.0 297.2 345.4 297.5 360.7" stroke="url(#vn23)"/><path d="M269.4 331.9C284.9 331.9 297.2 344.4 297.5 359.7" stroke="url(#vn22)"/><path d="M269.4 330.9C284.9 330.9 297.2 343.3 297.5 358.6" stroke="url(#vn21)"/><path d="M269.4 329.8C284.9 329.8 297.2 342.2 297.5 357.6" stroke="url(#vn20)"/><path d="M269.4 328.7C284.9 328.7 297.2 341.2 297.4 356.5" stroke="url(#vn19)"/><path d="M269.4 327.7C284.9 327.7 297.2 340.1 297.4 355.4" stroke="url(#vn18)"/><path d="M269.4 326.6C284.9 326.6 297.2 339.0 297.4 354.2" stroke="url(#vn17)"/><path d="M269.4 325.6C284.9 325.6 297.2 337.9 297.4 353.1" stroke="url(#vn16)"/><path d="M269.4 324.6C284.9 324.6 297.2 337.0 297.4 352.3" stroke="url(#vn15)"/><path d="M269.4 323.5C284.9 323.5 297.2 335.9 297.4 351.1" stroke="url(#vn14)"/><path d="M269.4 322.5C284.9 322.5 297.2 335.0 297.4 350.4" stroke="url(#vn13)"/><path d="M269.4 321.5C284.8 321.5 297.3 333.9 297.4 349.1" stroke="url(#vn12)"/><path d="M269.4 320.5C284.8 320.5 297.3 332.9 297.4 348.3" stroke="url(#vn11)"/><path d="M269.4 319.5C284.8 319.5 297.3 331.8 297.4 347.1" stroke="url(#vn10)"/><path d="M269.4 318.5C284.8 318.5 297.3 330.9 297.4 346.2" stroke="url(#vn9)"/><path d="M269.4 317.4C284.8 317.4 297.3 329.8 297.3 345.0" stroke="url(#vn8)"/><path d="M269.4 316.4C284.8 316.4 297.3 328.8 297.3 344.1" stroke="url(#vn7)"/><path d="M269.4 315.4C284.8 315.4 297.3 327.9 297.3 343.2" stroke="url(#vn6)"/><path d="M269.4 314.4C284.8 314.4 297.3 326.9 297.3 342.4" stroke="url(#vn5)"/><path d="M269.4 313.4C284.8 313.4 297.3 325.8 297.3 341.0" stroke="url(#vn4)"/><path d="M269.4 312.4C284.8 312.4 297.3 324.8 297.3 340.1" stroke="url(#vn3)"/><path d="M269.4 311.4C284.8 311.4 297.3 323.9 297.3 339.2" stroke="url(#vn2)"/><path d="M269.4 310.4C284.8 310.4 297.3 322.9 297.3 338.3" stroke="url(#vn1)"/><path d="M269.4 309.4C284.8 309.4 297.3 321.7 297.3 336.9C297.3 399.5 300.2 399.5 307.7 412.0" stroke="url(#vn0)"/></g>
<rect x="310.1" y="304.2" width="6.2" height="113.8" fill="url(#cb7)" stroke="#1a1a1a" stroke-width="0.8"/><line x1="316.7" y1="305.0" x2="318.3" y2="305.0" stroke="#1a1a1a" stroke-width="0.8"/><text transform="translate(319.9 307.9) scale(1.1 1)" font-size="8" fill="#1a1a1a" stroke="#1a1a1a" stroke-width="0.22">1.00</text><line x1="316.7" y1="327.7" x2="318.3" y2="327.7" stroke="#1a1a1a" stroke-width="0.8"/><text transform="translate(319.9 330.5) scale(1.1 1)" font-size="8" fill="#1a1a1a" stroke="#1a1a1a" stroke-width="0.22">0.80</text><line x1="316.7" y1="350.4" x2="318.3" y2="350.4" stroke="#1a1a1a" stroke-width="0.8"/><text transform="translate(319.9 353.2) scale(1.1 1)" font-size="8" fill="#1a1a1a" stroke="#1a1a1a" stroke-width="0.22">0.60</text><line x1="316.7" y1="373.0" x2="318.3" y2="373.0" stroke="#1a1a1a" stroke-width="0.8"/><text transform="translate(319.9 375.9) scale(1.1 1)" font-size="8" fill="#1a1a1a" stroke="#1a1a1a" stroke-width="0.22">0.40</text><line x1="316.7" y1="395.7" x2="318.3" y2="395.7" stroke="#1a1a1a" stroke-width="0.8"/><text transform="translate(319.9 398.6) scale(1.1 1)" font-size="8" fill="#1a1a1a" stroke="#1a1a1a" stroke-width="0.22">0.20</text><line x1="316.7" y1="418.4" x2="318.3" y2="418.4" stroke="#1a1a1a" stroke-width="0.8"/><text transform="translate(319.9 421.2) scale(1.1 1)" font-size="8" fill="#1a1a1a" stroke="#1a1a1a" stroke-width="0.22">0</text>
<text transform="translate(345.9 361.5) rotate(-90) scale(1.0 1)" text-anchor="middle" fill="#111"><tspan font-size="12.5" font-style="italic">v</tspan><tspan font-size="8.5" dy="2.6" font-style="italic">n</tspan></text>
</svg></body></html>
